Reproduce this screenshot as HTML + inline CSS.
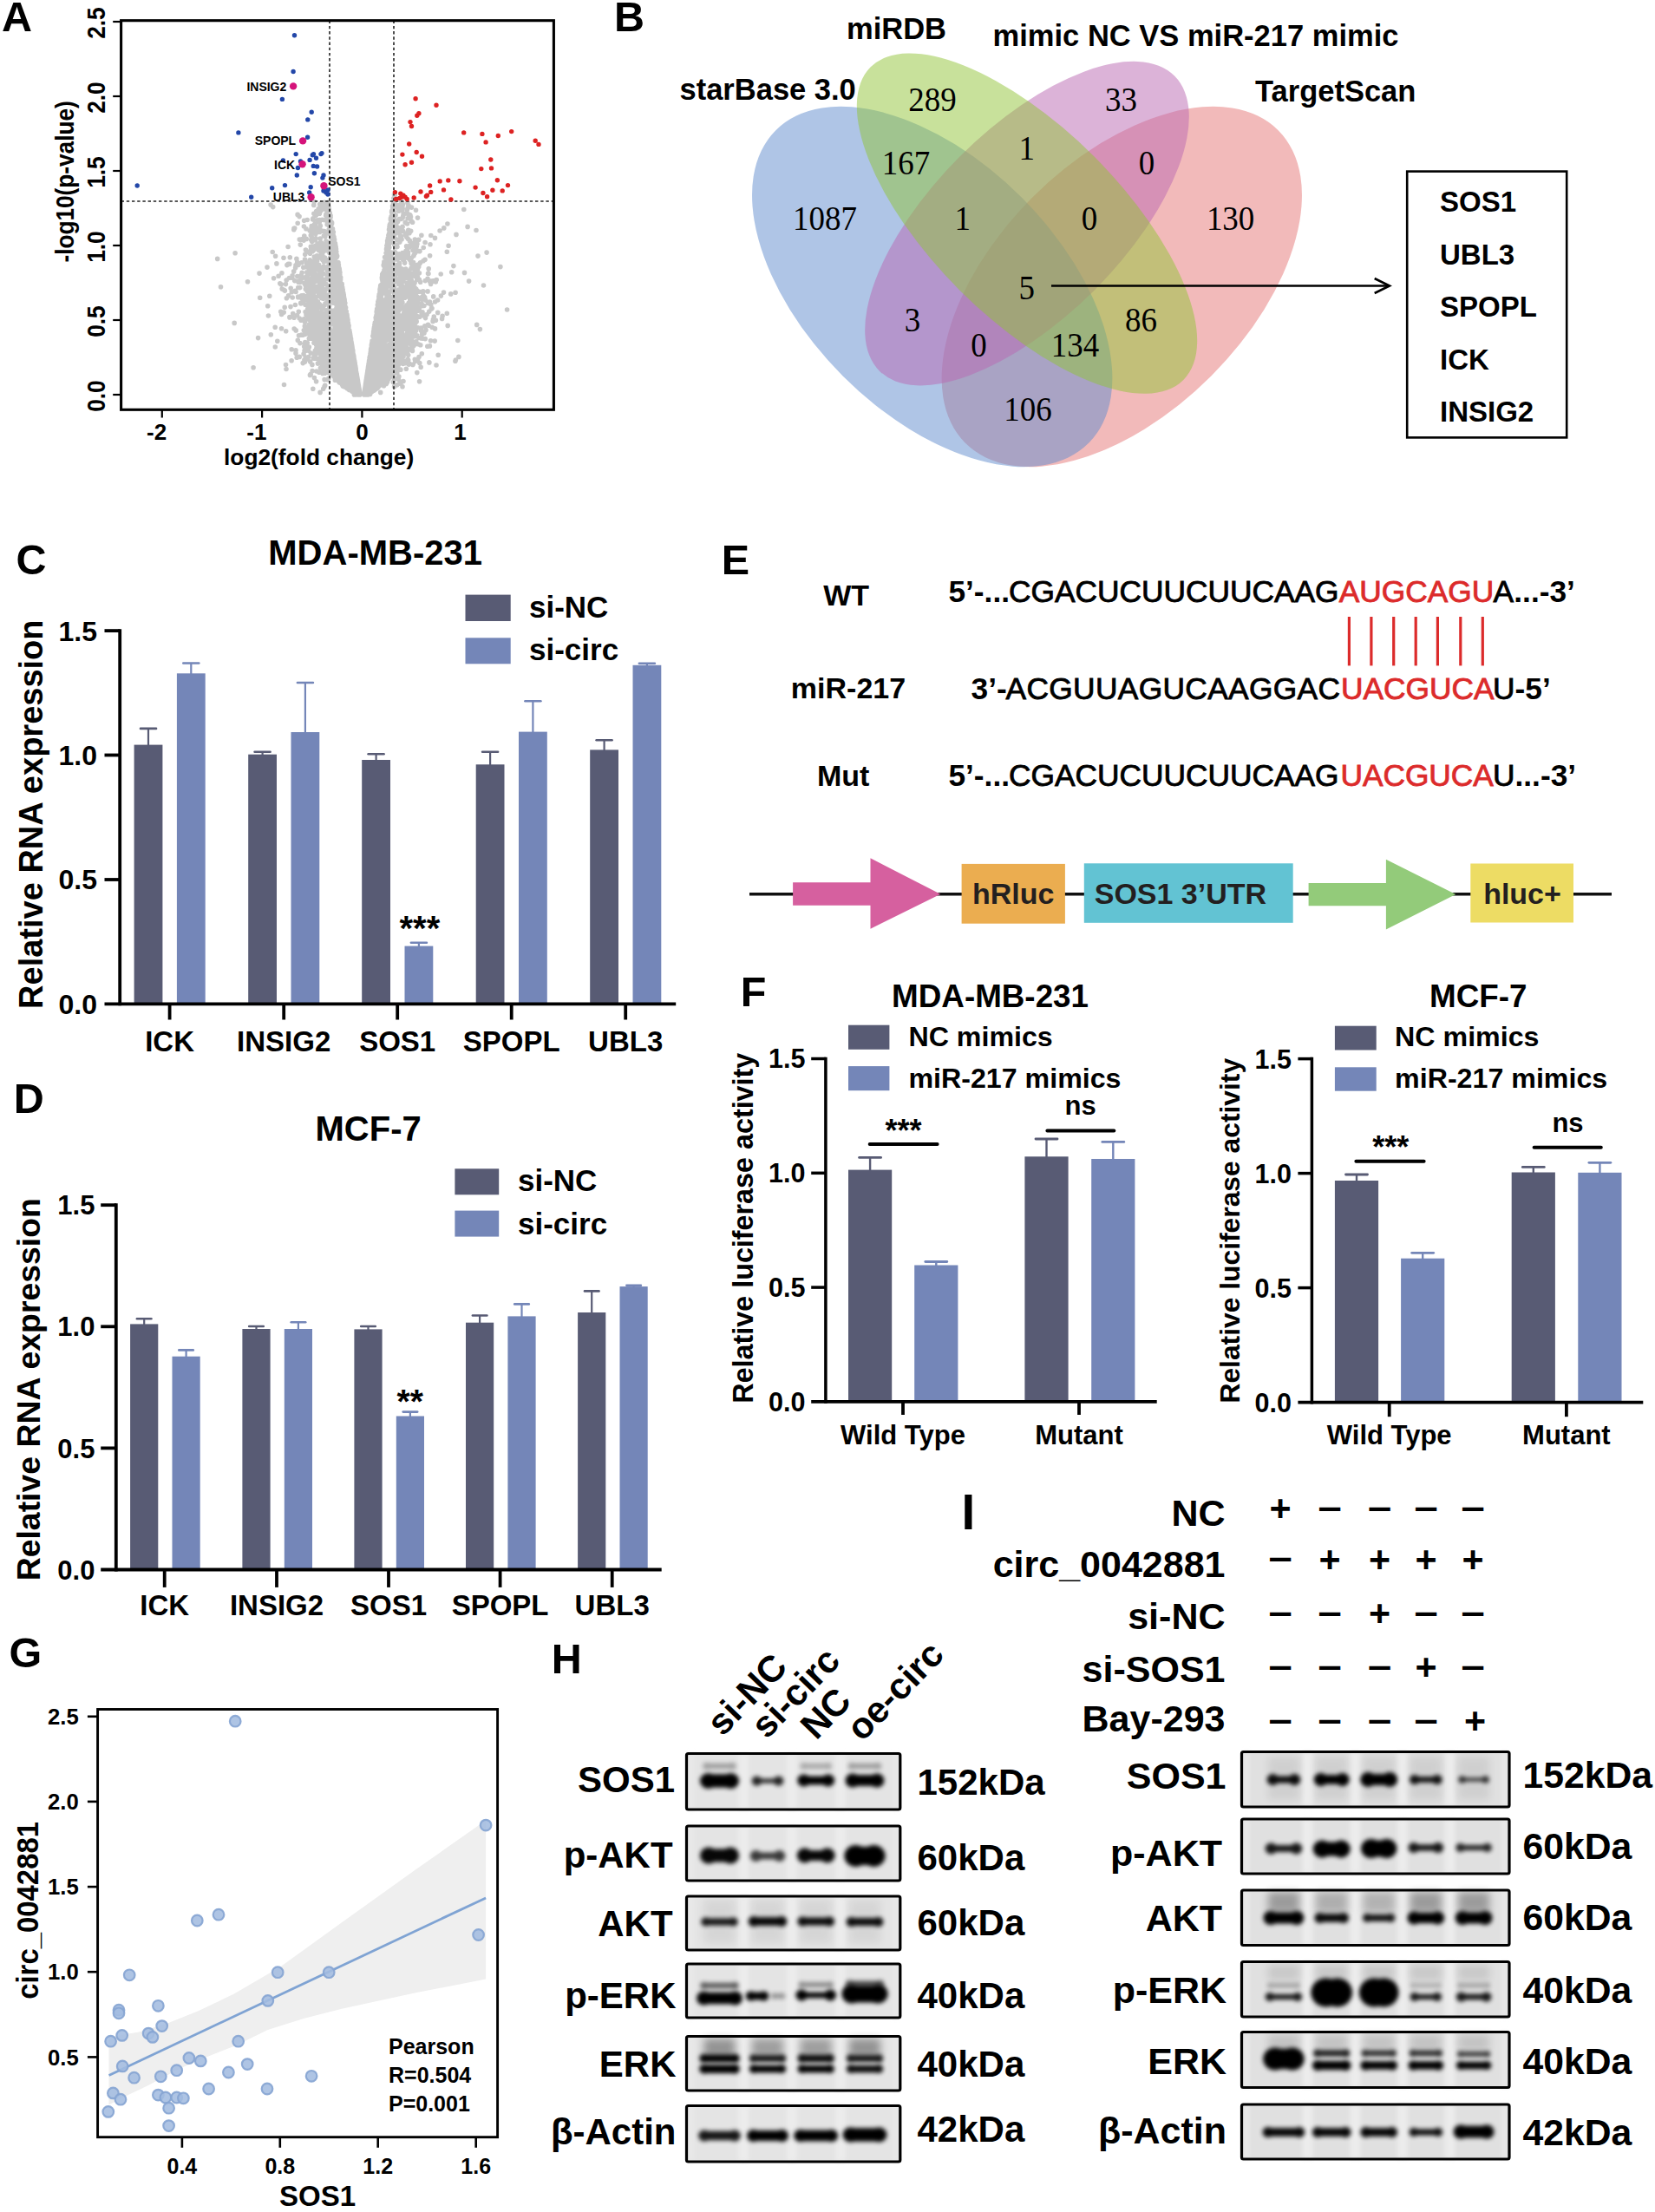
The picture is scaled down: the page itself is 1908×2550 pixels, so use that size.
<!DOCTYPE html>
<html><head><meta charset="utf-8"><title>Figure</title>
<style>html,body{margin:0;padding:0;background:#fff;}svg{display:block;}</style></head>
<body><svg width="1908" height="2550" viewBox="0 0 1908 2550">
<rect width="1908" height="2550" fill="#fff"/>
<text x="2" y="36.3" font-size="48.5" text-anchor="start" font-weight="bold" fill="#000" font-family="'Liberation Sans', Arial, Helvetica, sans-serif" >A</text>
<text x="708" y="36.3" font-size="48.5" text-anchor="start" font-weight="bold" fill="#000" font-family="'Liberation Sans', Arial, Helvetica, sans-serif" >B</text>
<text x="18.5" y="662" font-size="48.5" text-anchor="start" font-weight="bold" fill="#000" font-family="'Liberation Sans', Arial, Helvetica, sans-serif" >C</text>
<text x="15.8" y="1282.6" font-size="48.5" text-anchor="start" font-weight="bold" fill="#000" font-family="'Liberation Sans', Arial, Helvetica, sans-serif" >D</text>
<text x="831.8" y="661.8" font-size="48.5" text-anchor="start" font-weight="bold" fill="#000" font-family="'Liberation Sans', Arial, Helvetica, sans-serif" >E</text>
<text x="853.8" y="1159.9" font-size="48.5" text-anchor="start" font-weight="bold" fill="#000" font-family="'Liberation Sans', Arial, Helvetica, sans-serif" >F</text>
<text x="10.5" y="1922" font-size="48.5" text-anchor="start" font-weight="bold" fill="#000" font-family="'Liberation Sans', Arial, Helvetica, sans-serif" >G</text>
<text x="635.8" y="1928.7" font-size="48.5" text-anchor="start" font-weight="bold" fill="#000" font-family="'Liberation Sans', Arial, Helvetica, sans-serif" >H</text>
<text x="1108.5" y="1762.8" font-size="56.6" text-anchor="start" font-weight="bold" fill="#000" font-family="'Liberation Sans', Arial, Helvetica, sans-serif" >I</text>
<path d="M397.6 411.5h0M393.6 403.8h0M362.9 383.2h0M413.9 448.1h0M365.8 378.3h0M431.7 400.7h0M425.2 452.8h0M385.9 402.1h0M465 410.8h0M390 322.5h0M429.6 430.4h0M471.6 319.6h0M421.6 455h0M448.8 418.4h0M449.7 432.3h0M436.1 352.5h0M410.7 450.5h0M427.4 412.1h0M434.2 380.4h0M407.7 432.3h0M471.9 298.8h0M434.2 380.8h0M408.1 433.4h0M421.6 449.5h0M470.7 388.6h0M405 407.2h0M411.3 442.9h0M411.2 439.8h0M375.6 238.4h0M422.2 447.1h0M452.4 366.9h0M423.8 429.9h0M400.8 436.3h0M411.2 431.2h0M424.6 432.3h0M403.6 421.8h0M370.4 294.9h0M465 391.6h0M386.5 280.9h0M437.2 382h0M404.4 449.3h0M360.9 358.5h0M383.9 423.7h0M394.6 416h0M449.6 384.2h0M404.3 449h0M452.2 360.9h0M361.2 413h0M414.2 452.8h0M473.5 368.4h0M437.1 433.7h0M434.1 438.6h0M389.3 412.9h0M442.5 439h0M448.2 301.7h0M435 444.4h0M398.1 365.3h0M434.8 411.7h0M463.6 384h0M483 411.5h0M413.5 451.9h0M480.5 341.7h0M414.5 453.2h0M410.7 451.5h0M379.1 378.1h0M422.1 438.9h0M403.2 408.8h0M395.8 424.4h0M473.4 353h0M413.6 448.4h0M400.7 411.3h0M366.7 394.2h0M385.5 410h0M391.9 331.8h0M376.3 288.7h0M470.6 342h0M436.4 424h0M493.5 349.4h0M412.7 450.2h0M482 343h0M358.9 362.1h0M371.8 406h0M447.5 401h0M400.6 401.6h0M407 420.3h0M377.1 317.6h0M402.3 438.8h0M413.3 453h0M373.4 338.3h0M404.5 450.1h0M448.6 269.4h0M397.8 413.9h0M451.2 427.4h0M401.4 445h0M407.6 436.4h0M431.5 385.1h0M441.7 403.4h0M438.8 413.5h0M431 442.4h0M374.2 400.5h0M390.1 435.9h0M426.2 427.6h0M465.1 297.1h0M429.4 433.3h0M459.9 342.3h0M425.8 453.7h0M408.6 446.1h0M472.3 371.4h0M411.8 452.2h0M435.6 443.6h0M507.1 266h0M397.2 410.2h0M427.6 402.7h0M355.5 367.8h0M474.4 357.9h0M456.3 403.1h0M390.8 366.9h0M374.4 388.9h0M393.7 433.4h0M472.8 333.2h0M391.1 369.3h0M446.4 362.4h0M422.9 454.2h0M407.9 435.9h0M393.3 377.1h0M360.2 380.7h0M414.1 453.3h0M432.2 417.9h0M426 447.5h0M366.1 403.8h0M355.5 381.6h0M437.2 352.1h0M443.8 408.9h0M411.1 450.6h0M451 389.2h0M434.1 395.6h0M420.2 454h0M462.7 353.5h0M414.4 451.3h0M478.2 284.5h0M396.5 434.8h0M391.1 409.4h0M412.6 446.2h0M412.2 451.1h0M450.1 375.4h0M372.3 415.7h0M378.5 234.7h0M382.6 293.8h0M399.8 432.1h0M399.1 382.6h0M363.5 276.3h0M423.7 432.2h0M477 398.6h0M393.6 397.2h0M440.8 437.9h0M425.7 449.4h0M440.1 349.2h0M480.4 335.1h0M383.2 426.6h0M481.6 414.7h0M424.1 449.1h0M432.9 371.5h0M409 437.7h0M398.1 361.7h0M409 423h0M359.5 365.8h0M450.7 278.3h0M449.7 427.4h0M427.7 434.4h0M438.8 418.6h0M380.2 339.8h0M410.3 441h0M412.2 453.4h0M356.2 378.9h0M489.7 342.9h0M446 289.3h0M395.5 356.1h0M388.9 350.3h0M400.5 425.2h0M370.1 399.3h0M381.2 416.8h0M356.7 336.6h0M372.6 381.1h0M448 415.4h0M433 421h0M385.1 430.1h0M412.8 446.2h0M429.1 450.3h0M420.7 452.3h0M409.9 435.6h0M436 440.2h0M401.9 428h0M407.1 433.2h0M402.5 397.7h0M412.8 451.3h0M365.4 400.8h0M477.1 377.6h0M395 421.4h0M423.6 442.6h0M353.9 308h0M393.6 432.6h0M410.1 454.9h0M420.9 448.8h0M443 407.7h0M450.2 314.3h0M449 275.4h0M375.2 398.4h0M427.9 428h0M387.1 409.5h0M435.3 446.9h0M355.3 327.1h0M445.6 365.6h0M414.5 454.2h0M445.7 385.8h0M438.6 429.4h0M427.1 433.6h0M377.7 245.4h0M474.7 328.3h0M358 373.2h0M357.9 324h0M421.8 442.7h0M461.9 272h0M391.2 349.8h0M445.5 416.6h0M396.5 342.4h0M424.8 426h0M384.5 420.7h0M467.3 386.7h0M429.9 397.6h0M374.6 364.7h0M458.5 324.6h0M431.4 439.1h0M441 368.7h0M427.8 410.1h0M375.2 285.7h0M391.8 432.8h0M435.1 388.5h0M470.5 290.8h0M412.6 440.2h0M402 440.7h0M404.9 428.4h0M366.8 390.3h0M441.7 409.4h0M404.7 441.2h0M372.6 425.8h0M408.1 443.7h0M386.2 416.7h0M468.5 354.4h0M456.4 315.5h0M379.4 284.8h0M488.2 285.5h0M367.4 288.6h0M409.9 428.7h0M407.8 412.2h0M394.9 369.2h0M483.8 418.6h0M371 375.8h0M390.8 436.9h0M408.9 447.5h0M455.1 237.2h0M446.3 426.6h0M425.4 418.4h0M412.6 452.7h0M381.2 258.7h0M409.1 429.7h0M441.6 323.5h0M373.4 302h0M412.1 439.6h0M470.2 361.5h0M475 364.8h0M431.3 412.4h0M475.2 365.4h0M379.9 376.1h0M384.9 299.1h0M371.9 266.2h0M409.5 448.2h0M432.9 400.3h0M408.5 434.1h0M451.4 353.2h0M412.6 440.1h0M373.7 410.3h0M446.8 404.9h0M398.9 422.8h0M393.3 404.1h0M453.6 236.3h0M458.5 387.3h0M384.1 343.4h0M412 436.9h0M370.2 389.4h0M444.5 440.7h0M451.7 413.8h0M410.2 449.6h0M477.5 341.7h0M422.9 451.9h0M391.6 432.8h0M433.1 441.4h0M354.6 326.6h0M424.8 422.3h0M405.6 406.4h0M374.2 411.1h0M448.5 295.5h0M525.4 415.1h0M393.8 350.9h0M466.4 397h0M439.4 422.3h0M420.2 452.1h0M396.9 424.6h0M471.3 297.9h0M403.6 420.3h0M411.2 440.3h0M428.8 437.6h0M392.7 372.9h0M412.9 449.5h0M421.3 453.6h0M379.8 269.3h0M400.8 443h0M358 362.1h0M430.2 420h0M355.9 348.6h0M433.7 435.3h0M422.5 452.7h0M403 444.4h0M437 375.7h0M469.7 364.9h0M424.4 436.5h0M423.1 452h0M374.3 335.5h0M462.6 273.4h0M420.8 448.2h0M429 420.1h0M422.5 442.5h0M474.8 376h0M446 415.4h0M365.3 396.8h0M424.9 422.3h0M401 405.6h0M445.4 433.9h0M431.3 394.7h0M400.6 409.2h0M385.7 393h0M435.3 384.9h0M359.3 327.2h0M421.2 452.2h0M407.8 422.7h0M412 436.3h0M441.1 398.3h0M386 379.1h0M387.3 326.5h0M463.5 297.9h0M399.3 371.2h0M438.5 384.8h0M408.6 430.7h0M431.6 434.3h0M421.5 445.3h0M463.1 366.9h0M458.5 407.7h0M426.6 451h0M389.2 419h0M447.8 426.4h0M371.5 327.6h0M402.2 384.5h0M407.5 420.8h0M408.4 454h0M405.3 444.6h0M408.9 418.5h0M476.1 364.8h0M357.7 360.1h0M413.5 453.1h0M407.1 428.3h0M375.1 419.1h0M385.2 419.4h0M438.4 443.5h0M426.9 434.1h0M411.7 453.6h0M428.4 431.9h0M445.8 433.3h0M432.7 428.3h0M407.1 438.7h0M483.2 336.2h0M362.3 377.7h0M363.4 310.6h0M474.3 361.7h0M431.3 445.9h0M385.4 428.2h0M367.1 341.5h0M393.4 328h0M454.3 238h0M448.6 281.3h0M450 419.5h0M405.9 422.2h0M476.9 284.8h0M450.8 357.2h0M472.5 372.6h0M458.5 423.8h0M458.7 417.7h0M397.4 438.5h0M399.3 446.7h0M423.8 437.1h0M407.2 431.9h0M422.8 440.4h0M433.9 382.2h0M384 385.8h0M351 404.2h0M443.1 370.4h0M438.7 419.9h0M438.2 402.7h0M402.7 390h0M402.2 409.3h0M364.2 358.6h0M412 445.2h0M364 322.5h0M395.7 339.6h0M364.9 307.6h0M405.5 411.3h0M400.7 431.3h0M466.8 343.2h0M359 315.5h0M437.9 339.9h0M425.6 452.3h0M433.5 446h0M312.3 385.7h0M398.2 438.3h0M412.5 439.1h0M427.9 425h0M402.8 388.2h0M473 369.5h0M380.2 250.5h0M394.9 370h0M433.9 417.1h0M451.9 331.1h0M452.7 249.7h0M434.3 392.5h0M357.3 315.8h0M400.3 419.6h0M423 450.2h0M462.4 231.8h0M445 434.7h0M442.3 434.1h0M391.8 317.8h0M451.2 291.1h0M362.4 362.2h0M457.8 239.1h0M441.9 422.6h0M361.4 387.8h0M389.8 418.7h0M425.7 450h0M407.5 437.2h0M421.7 443.9h0M400.5 441.8h0M394 433.9h0M454.6 445.8h0M363.9 246.1h0M352.7 399.5h0M399.4 429.1h0M423.4 445h0M436.4 346.4h0M429.1 437.3h0M442.2 317.6h0M460.7 401.2h0M451.7 416.5h0M353.2 359.2h0M426.5 452.9h0M359.9 380.6h0M431 449.1h0M450 426.2h0M364.7 243.5h0M428.8 418.8h0M430.7 421.9h0M478.3 414.3h0M412.2 450.4h0M426 436.8h0M438.8 407.2h0M419.8 454.3h0M386.5 390h0M438.8 421.7h0M443 427.7h0M421.3 451.1h0M446.4 340.3h0M383 430.7h0M469.4 326.3h0M343.7 342.8h0M407 451.5h0M458.6 381.5h0M439 392.4h0M401 372.8h0M444.8 345.2h0M431.7 412.1h0M494.8 359.1h0M363.6 375.7h0M384.2 428.2h0M440.9 437.9h0M413.5 445.5h0M459 414.1h0M380.8 405.8h0M407.7 447h0M426.2 438.7h0M387.8 390.3h0M451.9 321.6h0M407.2 426.3h0M399.1 360.3h0M449 329.2h0M366.6 385.6h0M450.3 411h0M420.9 447.2h0M393.8 368.4h0M399.8 443.1h0M413 447.6h0M354.1 399.7h0M382.1 391.9h0M405.6 422.3h0M388.3 314.2h0M414 453.5h0M425.9 433.9h0M446.6 430.8h0M404.4 442.4h0M385.2 398.3h0M385 273.2h0M451.9 255.7h0M461.3 411.4h0M403.3 404.1h0M462.1 238.8h0M409.9 449.6h0M400.5 445.8h0M414.3 450.4h0M372.5 393.9h0M352.6 344h0M405.8 440.3h0M405.6 439.1h0M432.1 449.1h0M435.4 395.5h0M358.9 367.5h0M384.3 267.6h0M389.7 406.4h0M359.2 386.4h0M372.8 370.7h0M493.1 335.9h0M446.2 325.5h0M412.1 453.9h0M438.9 401.1h0M410.9 435.7h0M427.1 433.9h0M403.1 435.3h0M409.3 433.7h0M439.1 429.1h0M343.7 342.1h0M449.2 434.8h0M458.8 421.5h0M448.5 419.6h0M406.4 425.2h0M373.9 390h0M419.9 454h0M472.3 277.3h0M412.2 444h0M403 444.5h0M452.7 239.6h0M409.7 432h0M426.2 424.2h0M407.1 445.5h0M397.4 351.2h0M438.6 436.8h0M360.5 268.7h0M470 394.3h0M397.3 410.5h0M412.5 439.7h0M474.6 351.1h0M412.8 441.3h0M399.9 437.1h0M462.4 409.8h0M421.6 451.9h0M400.7 408.7h0M377.1 299.5h0M429.7 410.4h0M381.5 256.6h0M404.6 403.6h0M435.7 362.2h0M479.5 242.2h0M381.6 424.2h0M470.1 402.8h0M403.8 432.4h0M427 448.2h0M443.1 431.3h0M409.4 435.7h0M375.5 286.6h0M454.1 244.3h0M390.7 322.1h0M388.1 437.5h0M369.2 275.1h0M340.3 335.2h0M423.7 428.9h0M445.6 403.2h0M386.1 280.2h0M468.1 375.5h0M443 428.1h0M430.7 384.6h0M361.1 308.9h0M392.4 394.2h0M454.6 419.9h0M465.5 340.3h0M396 369.3h0M392.3 440h0M406.5 426h0M368.7 235.6h0M433.6 425.7h0M412.6 452.4h0M483.2 356.4h0M422.9 435h0M394.4 423.3h0M435.9 416.3h0M358.8 351.2h0M479.8 286.8h0M428.2 400.8h0M402.2 443.2h0M455.9 361.3h0M434.1 366.6h0M407.2 408.5h0M423.3 449.7h0M431.7 445.1h0M393.3 417.7h0M414.5 451.6h0M464.7 408.6h0M456.7 409.3h0M368.5 406.8h0M434.1 445.8h0M461.5 403.6h0M404.6 433.5h0M429.5 422.1h0M459.2 384.4h0M436.5 411.1h0M386.6 420.9h0M404.5 417.9h0M377.1 362h0M384.4 413.7h0M382.5 399h0M420.6 453.8h0M474 386.3h0M403.1 439.2h0M377.8 330.6h0M382.4 365h0M402.1 434.1h0M402.9 444.4h0M459.1 238.1h0M461 405.6h0M442.1 376.4h0M406.9 443.7h0M378.6 394.1h0M426.8 449.3h0M446.4 327.7h0M448.9 399.3h0M438.5 443.4h0M423.3 434.2h0M383.8 340.8h0M469 369.1h0M408.4 437.9h0M448 302.8h0M392 412.9h0M423.5 436.7h0M447.9 424.8h0M358.7 276.6h0M470.1 366.5h0M437.3 436.4h0M408.2 451.5h0M371.5 398.4h0M384.3 423.5h0M426 450.3h0M433.5 441h0M435.7 426.9h0M428.7 423.2h0M434.4 433.2h0M430.9 432.4h0M453.4 403.2h0M390.1 384.6h0M435.6 416.5h0M372 400.6h0M422.5 436.7h0M393.7 340h0M370.9 308.4h0M451.2 356.4h0M363.4 301.6h0M424.7 449.4h0M441.2 402.8h0M408.5 449.3h0M396 419.3h0M460.2 252.5h0M465.6 391.9h0M448.3 374h0M410.2 425.3h0M411.9 437h0M452.1 351.3h0M403.5 447.3h0M362.5 362h0M437.2 339.5h0M424.6 442.1h0M398.9 433.3h0M357.8 386h0M389.6 420.1h0M423.9 440.2h0M410.9 431.4h0M439 440.1h0M380.1 367.9h0M409.1 420.1h0M427.3 406.1h0M413.7 453h0M412.2 443.4h0M442.9 404.9h0M423 435.3h0M481.4 310.5h0M367.9 320.8h0M435.5 362.4h0M460.6 442.2h0M475.9 420.4h0M367.6 388.5h0M425.3 430.6h0M477.7 381.1h0M435.9 421h0M464.7 419.5h0M465 439.5h0M468.7 391h0M424.6 444.8h0M358.8 366.4h0M395 430h0M470.2 268.1h0M462.5 350.2h0M478.7 309.8h0M354.7 290.1h0M391.9 323h0M385.5 417.7h0M412.8 450.4h0M463.9 387.6h0M424.7 433h0M446.9 318.4h0M420.8 454.9h0M411 431.7h0M460.2 364.1h0M386.5 314.7h0M435 418.4h0M476.3 371.4h0M412.3 438.6h0M439.8 416.4h0M363.4 373.9h0M423.9 452.4h0M404.6 397.7h0M431 380.9h0M422.2 442.3h0M402.9 388.2h0M385.4 374.6h0M363.9 392h0M403.1 430.6h0M422.7 454.2h0M371.9 403.5h0M374.9 387.5h0M443.8 430.3h0M401.8 418.8h0M427 407.8h0M426.7 418.1h0M433.6 443.3h0M457.4 412.5h0M429.6 437.7h0M432.1 444.7h0M411.7 450.2h0M436.7 387.9h0M413.2 443.8h0M461.7 378.8h0M429 438.3h0M396.8 429.1h0M409.1 449.5h0M389.5 427.1h0M411.8 452h0M373.4 238.5h0M443.4 427.4h0M443 425.3h0M460 410h0M446.5 328.5h0M439.4 421.7h0M405.9 445.1h0M356.5 348.9h0M401 417.3h0M403.9 422.1h0M362.9 319.5h0M404.4 419.8h0M411.9 447.3h0M441.3 420.7h0M466.8 294.2h0M404.9 436.5h0M424.9 438.7h0M465.7 360.7h0M424.4 426.5h0M354.3 341.5h0M472.5 389h0M381.1 423.5h0M340.6 308.7h0M413.7 448.2h0M439.9 416.8h0M372.2 290.7h0M405.8 408.7h0M451.7 400.5h0M368.3 370.6h0M421.4 448h0M435.4 395h0M351 320h0M412.5 447.9h0M388.1 349.2h0M431.9 401.9h0M473 373.7h0M317.3 400h0M495.7 324.7h0M393.3 440.8h0M424.3 438.1h0M386.8 288.6h0M443.6 423.6h0M448.3 346.9h0M444.1 421.6h0M410.2 426.5h0M453.6 419.6h0M408.4 414.9h0M424.9 427.5h0M402.3 390.5h0M422.2 447h0M360.2 362h0M406.6 427.6h0M452.3 411.6h0M399.9 433.1h0M409.3 438.8h0M405.7 412.8h0M387.8 290.2h0M449.8 430.7h0M365.9 389.7h0M434.4 360.1h0M422.2 451.2h0M478 394.9h0M427.7 425.5h0M420.5 451.2h0M425.6 452.8h0M424.6 422.7h0M409.4 447.3h0M388.3 424.6h0M373 324.5h0M394.8 410.3h0M343.8 331.5h0M403.5 385.8h0M428.6 408.4h0M441.5 395.2h0M434.2 359h0M395.4 436.6h0M440 431.8h0M414.3 450.5h0M486.3 407.8h0M452.3 258h0M442 374.4h0M462.5 408.8h0M381.3 261.3h0M434.2 434.8h0M410 423.9h0M430.8 448.1h0M425.5 451.9h0M515.3 290.3h0M463.1 363.9h0M448.2 403.6h0M380.8 426.7h0M445.2 437.8h0M365.3 267.6h0M460.6 394.6h0M490.3 323.6h0M397 406.7h0M393.5 373.7h0M456.9 381.3h0M448.7 337.8h0M364.2 372.6h0M428 418.4h0M390 416.2h0M410.8 453.5h0M430.6 386.3h0M470.8 376.2h0M360.1 375.4h0M395.2 334h0M384.9 386.2h0M440 422.4h0M362.1 390h0M407.7 410.2h0M430.5 426.5h0M407.5 431.8h0M433.5 418.7h0M440.1 338h0M466.7 400.3h0M456.3 291.8h0M406.8 432.7h0M395.4 430.8h0M404.1 389.7h0M396.3 444.9h0M456 347.2h0M443.9 388h0M411.1 432.4h0M437.8 375.1h0M467.2 387.5h0M364 296.2h0M413.7 448.2h0M459 240.4h0M409.4 454.9h0M438.4 331.7h0M473.9 368h0M457.4 373.1h0M403.3 426.1h0M462.3 401.1h0M408 423.9h0M408.4 454.9h0M465.7 390.8h0M398.4 386.6h0M422.7 435.8h0M464.6 405.8h0M410 427.8h0M414.7 452.8h0M467.2 367.5h0M515.3 361.2h0M385.6 276.3h0M379.2 421.8h0M414.5 451.9h0M439.3 423.2h0M431.7 377.5h0M381.2 412.9h0M422.8 434.8h0M367.1 396.7h0M479.8 369.3h0M395.8 431.1h0M458.5 416.1h0M353.9 318.4h0M411.4 441.5h0M424.5 454.7h0M479 387.7h0M429.9 444.4h0M357.2 338.4h0M457.7 443.8h0M362.7 372.3h0M390.7 324.9h0M433.6 424.4h0M451.4 430.3h0M393.5 352.8h0M471.1 385.7h0M427.8 404.1h0M454.3 410.3h0M388.1 357.9h0M412.4 450.9h0M421.9 443.7h0M429.4 449h0M402 387h0M397.7 431.6h0M441.4 382.7h0M389 320.7h0M407.1 451.6h0M439.1 438.3h0M361.5 336h0M466.1 393h0M440.2 355.7h0M458.6 352h0M458.5 294.3h0M410.9 433.5h0M414.5 452.1h0M440.9 346.7h0M385 422.4h0M386.9 388.1h0M426.9 426.7h0M399.4 380.8h0M425.2 453h0M390.4 397.8h0M397.8 373.1h0M436.6 445.5h0M403.3 429.9h0M411 440.8h0M423.7 431.4h0M445.5 401.4h0M436 384.2h0M384.9 410h0M389.2 391.4h0M446.4 349.4h0M323.7 359.2h0M399 405.6h0M428.1 448.4h0M377.5 385.9h0M382.4 388.1h0M452.3 395.7h0M406.7 414.7h0M461.7 403.3h0M405.7 440.9h0M360.8 448.3h0M454.8 282.2h0M437.9 442.1h0M407.8 446.2h0M357.1 341.5h0M464.2 389h0M413.5 451.6h0M426.2 442.5h0M442.1 388.6h0M355.5 340.3h0M452.3 397.9h0M379.4 413.5h0M405.6 432.8h0M389 392.7h0M314.7 238.6h0M420.6 453.9h0M425.2 452.8h0M420 453.6h0M438.7 427.7h0M372.2 315.7h0M423.3 435.2h0M456.6 268.7h0M438.3 336.8h0M436.8 435h0M396.3 436.4h0M400.2 425.7h0M422.3 440.9h0M420.5 452.4h0M410.4 432.9h0M390.2 372.8h0M378.3 399.2h0M410.9 434.4h0M432.3 403.8h0M471.6 247.5h0M399.9 411.5h0M404.6 445.4h0M404.3 427.5h0M450.2 348h0M409.2 443.5h0M397.7 434.4h0M407.7 415h0M464.3 406.1h0M389.4 407.8h0M421.1 445.9h0M386.8 283.1h0M344.3 359.3h0M427.4 450h0M400.9 435.7h0M464.5 401.2h0M387.1 401.3h0M373.7 395h0M376 400.2h0M393.5 348.2h0M407.4 447.2h0M401.9 397.4h0M406.5 428.9h0M438 427.8h0M372.9 353.1h0M431.6 412h0M453 327.3h0M434.3 422.3h0M471 236.8h0M499.7 341.9h0M426.1 449.9h0M352.5 329.6h0M430.7 447.8h0M408.2 430.3h0M408.9 450.6h0M394.7 415.7h0M456.4 305.7h0M404 388.9h0M465.3 246.4h0M399 383.5h0M442.4 409.1h0M421.5 443.3h0M371.5 401.2h0M367.8 387.3h0M380 424.1h0M434.2 372h0M431.3 419.8h0M435.4 442.4h0M378.3 423.5h0M359 302.1h0M449 262.6h0M424.7 422.3h0M448.2 353.6h0M347.2 321.7h0M387.8 435.6h0M462 411.9h0M441.2 424.1h0M464.2 251.1h0M406.3 405.6h0M420.8 451.3h0M454.1 430.6h0M488.9 352.5h0M422.2 449h0M388.8 344h0M409.8 453h0M421.6 446.9h0M402.7 449.4h0M393.9 398.2h0M401.9 441.4h0M425.2 451.9h0M440 407.9h0M445.7 430.2h0M412 452.3h0M381.1 250.6h0M390.2 413.6h0M400.5 424.6h0M376.1 414.6h0M479.4 364.2h0M362.9 387h0M425.1 419.6h0M449.9 409.3h0M391.2 312.4h0M389 377.1h0M430.1 403.3h0M349.8 340.6h0M322.8 326.7h0M411.7 440.5h0M423.2 432.6h0M362.1 380.1h0M443.6 415.2h0M402.4 409.7h0M409.6 449.8h0M402.5 446h0M362.2 384.8h0M478.8 359.6h0M391.8 316.7h0M390.8 324h0M477.1 354.6h0M496.8 351.2h0M346.3 282.1h0M388.9 379.3h0M452.6 410.2h0M369 391h0M484.6 302.8h0M378.4 385.2h0M446.4 352.1h0M437.3 437.4h0M482.8 397h0M398.1 353.7h0M444.1 431.2h0M422.4 438.5h0M412.3 452.9h0M412.8 449.7h0M427.1 436.8h0M386.3 391.4h0M400.2 433.4h0M361.1 358.7h0M456.7 341.4h0M429.6 445.1h0M397.3 419.6h0M450.3 424.9h0M522.9 306.6h0M376.5 420.4h0M420.6 448.9h0M447.3 274.9h0M431.5 449.1h0M345.3 276.1h0M391.1 403.9h0M426.8 441.5h0M372 430.4h0M422.4 445.8h0M397.2 389.7h0M405.6 444.1h0M445.6 331.6h0M359.2 260.6h0M414.7 453.9h0M390.3 403.7h0M364.9 428h0M443.6 412h0M410.9 447.8h0M421.2 449.6h0M412 440.8h0M412.1 437.1h0M365.9 369.3h0M433.3 437.7h0M399.6 383.9h0M420.9 448.6h0M318.9 303.9h0M438.3 384.4h0M423.8 428.3h0M459.8 412h0M449.7 298.2h0M372.1 354h0M425.2 423.7h0M465.8 363.5h0M381.2 389.1h0M380.7 357.5h0M361.9 376.9h0M427.7 429.2h0M360 364.5h0M442.5 385.3h0M413.4 446.5h0M390.1 385.8h0M396.8 404h0M353.7 333.8h0M428.5 449.7h0M472 268.8h0M360.5 362.4h0M408.1 448.1h0M473.3 354h0M349.5 341.8h0M394 357.8h0M426.5 447.3h0M440.5 426.9h0M479.8 333.2h0M409.7 422.7h0M384.6 305.9h0M374 406.1h0M364.2 381.2h0M388.8 410.5h0M425.5 451.2h0M423.8 448.1h0M461.4 425.7h0M378.2 233.2h0M448.7 385.9h0M402.3 386.2h0M429 413.4h0M499.4 368.4h0M421.3 445.2h0M350 348.1h0M411.5 445.1h0M374.6 411.8h0M443.4 425.5h0M432.6 421.9h0M451.2 324.2h0M454.3 392.1h0M422.2 448.6h0M424.3 425.2h0M442.2 435.3h0M361.2 371.2h0M388.2 427.8h0M478.8 313h0M426.9 414.6h0M444.3 305.5h0M443.4 318.8h0M395.9 434.6h0M394.5 423.3h0M430.1 436.4h0M388.1 311.5h0M471.3 386.5h0M396.2 340.3h0M458.6 255.6h0M377.8 406.6h0M403.2 418.8h0M423.9 427h0M477.1 332.1h0M479.6 348h0M445.1 392.6h0M439.1 356.4h0M451 354.8h0M412.2 441.3h0M365.7 300.4h0M393.7 363h0M394.6 332.7h0M405 394h0M383.3 293.2h0M362.6 413.3h0M454.5 366.3h0M447.8 299.5h0M372.4 405.2h0M368.9 316.6h0M421 448.1h0M445.5 287.5h0M447.7 399.4h0M470.1 414.4h0M439.8 386.6h0M468.6 283.9h0M427.8 427.6h0M460.7 352.1h0M395.6 424.6h0M427.3 447.2h0M457.2 410h0M425.5 432.1h0M432.8 447.2h0M364.8 348.4h0M448.6 432.4h0M402.2 381h0M439.6 426.1h0M364.6 383.2h0M424.8 447.4h0M467.1 339h0M396.7 429.9h0M421.3 452.9h0M395.8 431.4h0M402.8 407.2h0M423.9 430.1h0M402.9 446h0M387.6 375.2h0M414.7 453.7h0M422.4 445.7h0M432.2 449.2h0M472.4 278h0M426.4 453.9h0M368.6 267.4h0M368.1 255.7h0M380.2 343.4h0M359 263.2h0M357.6 307h0M470.8 353h0M409.8 454.5h0M420.4 454.1h0M364.3 377.5h0M431.9 446.3h0M384 358.2h0M376.1 357.8h0M360.6 316.3h0M339 366.3h0M485.9 352.8h0M433.6 384.5h0M346 325.5h0M396.3 397.4h0M389.8 435.8h0M410.6 452.5h0M456.8 238.8h0M407.1 450.1h0M425.3 452.4h0M421.3 453.3h0M368.8 319.6h0M409.5 423.1h0M441.2 409.2h0M466.4 370.2h0M474.6 372.5h0M470.8 236.8h0M447.3 368.3h0M370.7 234.9h0M441.1 383.2h0M393.2 372.6h0M404.6 433.6h0M395.7 344.8h0M433.7 421.4h0M405.5 407.8h0M408 440.8h0M443.9 405.8h0M423.7 451.4h0M384.5 410.1h0M351.6 385.5h0M424.6 439.2h0M391.4 311.3h0M445.3 409.9h0M396.6 390.4h0M360.2 354.9h0M444.5 436.5h0M379.7 315.6h0M445.1 430.2h0M390.6 396.7h0M461.5 390.4h0M408.9 440.8h0M448.9 356.3h0M390.6 383h0M408.6 419.6h0M429.5 403.5h0M434.9 429.4h0M367.4 311.3h0M427.6 419.2h0M398.1 353.9h0M482.7 276.4h0M435.8 424.3h0M378.8 399.4h0M387.5 362.8h0M475.5 381.3h0M437.8 372.5h0M428.8 406.2h0M407.3 434.1h0M406.5 444.8h0M397.3 434.7h0M404.6 450.1h0M375.5 413.2h0M430.9 421.7h0M439.7 400.8h0M442.1 409.3h0M401.9 393.4h0M456.1 248.1h0M430.3 416.6h0M364.7 397.8h0M399.9 444.7h0M462.4 252.4h0M382.4 421.2h0M428.4 450h0M398 405.6h0M333.9 365.9h0M366.9 320.6h0M422.5 452.2h0M387.5 420.1h0M472.5 377.5h0M444.1 426.4h0M423 433.1h0M448.9 382.2h0M409.3 420.1h0M430.1 446.8h0M407.2 423.5h0M399.3 393.8h0M374.8 287.4h0M412.3 437.8h0M444.6 426h0M467.5 379.5h0M429 450.1h0M389.6 397.3h0M377.9 279.1h0M384.9 299.7h0M410.5 429.2h0M432.6 401.9h0M448.8 285.3h0M380.7 297.1h0M377.6 249.1h0M430.4 410.8h0M426.5 449.2h0M412.4 447.8h0M434 397.4h0M496.8 271.5h0M440.6 370.8h0M447.4 403.7h0M456 319.8h0M476.3 305.3h0M439.9 417.1h0M392.5 400.3h0M431.4 377.5h0M357 362.9h0M474.5 353.2h0M413.2 446.8h0M412.2 438h0M442.5 400.5h0M425.7 454h0M327 297.3h0M401.2 432.9h0M421.5 446.1h0M408.1 420.9h0M439.4 379.1h0M351.3 327.5h0M432.3 412.4h0M472.9 386.7h0M445.1 371.8h0M456.5 408.7h0M394.9 388.1h0M438.6 397.3h0M437 344.3h0M421.9 452.1h0M329.5 420.5h0M412.6 447.8h0M468 386.9h0M397.2 372.9h0M440.8 349.1h0M400.4 416.7h0M457.4 282.3h0M403.6 423.9h0M406.4 448h0M362.3 408.6h0M463.1 309.9h0M405.7 404.7h0M395.2 401.5h0M446.5 324.9h0M405.7 422.4h0M441.2 442.8h0M361.3 363.6h0M421.6 442.3h0M446.7 401.5h0M431.9 436.6h0M371.2 409.5h0M476 327h0M378.7 253.5h0M378.4 421.8h0M324.9 314.8h0M412.8 441.8h0M433.9 377.5h0M473.8 375.4h0M383.6 428.3h0M424.7 441.9h0M386.3 438.3h0M426.1 444.7h0M360.6 252.9h0M440.5 433.9h0M392.9 362h0M373.7 240.9h0M454.8 274.2h0M459.8 237.2h0M403.3 397.3h0M399.4 366.6h0M374.6 281.5h0M420.8 448.8h0M425.2 421h0M411.9 444.8h0M428.2 411.9h0M357.6 356.4h0M372.9 333.2h0M449.1 421.9h0M432.2 373.9h0M431.2 402.2h0M390.1 386h0M420.7 450.5h0M438.3 441h0M426.4 422.8h0M463.6 404.8h0M442.2 394.6h0M373.7 405.2h0M392.8 334.9h0M412.4 439.1h0M474.3 356.3h0M397.2 439.8h0M389.6 420.3h0M410.1 438.2h0M437.2 346.2h0M471.2 391.9h0M374.6 412.4h0M413 446.9h0M411 443.8h0M435.7 427.7h0M423.3 444.7h0M470.4 375.8h0M355.5 314.4h0M430.6 382.9h0M365.7 401.1h0M428.4 397.9h0M401.4 372.2h0M413.2 450.2h0M338.8 264.7h0M420.3 454h0M430.2 405h0M449.6 372.2h0M396.6 405.5h0M407.1 441.2h0M400.9 409.9h0M474.7 383h0M374.3 380.2h0M460.9 312.7h0M431.9 434.3h0M401 381.8h0M436.6 415.7h0M478.9 371.6h0M443.6 401.8h0M362.3 232.6h0M438.3 432.1h0M476.4 377.8h0M367.6 396.9h0M355.7 363.4h0M420.1 453.2h0M423.3 438.4h0M369.9 416.1h0M431.5 449.8h0M430.9 413.4h0M425.1 442.2h0M425.9 436.2h0M401.2 432.2h0M414.2 449.8h0M409.5 430.5h0M446.8 437.8h0M474.8 366.3h0M351.3 376h0M438.4 373.8h0M394 421.1h0M407.4 450.7h0M355.9 347.5h0M394.1 327.3h0M430.7 450.2h0M458.6 412.4h0M452 422.5h0M406.2 439.2h0M430.4 404.9h0M395.3 337.8h0M412.1 445.6h0M400.6 375.7h0M426.5 438.4h0M437.9 368.5h0M406 413.3h0M487.8 344.6h0M413.1 448.7h0M386.7 366.4h0M380.5 421.8h0M445.8 422.5h0M408 440.3h0M396.9 396h0M430.3 420.4h0M438.5 343.4h0M390.3 308.4h0M439.6 437.9h0M421.8 453.3h0M404.2 396.9h0M429.8 410.6h0M424.2 440.1h0M447.3 432.3h0M462.9 413.3h0M414.1 454.1h0M442.5 406.9h0M438.1 367.6h0M460.7 407.6h0M429.8 450.5h0M442.8 390h0M407.3 431h0M422.6 451.6h0M441.8 360.7h0M427.5 403.6h0M437.1 419.6h0M378.6 280.2h0M405.3 429.8h0M405.5 450.4h0M404.7 440.1h0M373.9 412.7h0M454.9 267.6h0M381.6 287.7h0M396.9 427.4h0M364.8 401.8h0M397.4 369.6h0M365.4 266.4h0M430.2 439.2h0M470.5 293.3h0M422.7 451.7h0M397.2 346h0M372.5 309.5h0M408.3 454.2h0M480.2 370.7h0M388.5 310.6h0M426.8 443.5h0M464.7 249.3h0M455.6 254.2h0M421.3 450.5h0M402.1 435.8h0M360.1 377.9h0M413.3 446.4h0M425.2 433.6h0M380.2 334.1h0M354.8 355.5h0M423.7 438.6h0M406.3 426.9h0M425.4 418.7h0M381.9 295.4h0M452.9 379.1h0M398.6 426.1h0M358 375.1h0M432.8 420.4h0M444.3 438.3h0M444.9 401.9h0M378.6 419.4h0M346.9 350h0M438 333.8h0M379.8 376h0M377.3 398.5h0M421.8 442.8h0M354.3 395.3h0M379 363.3h0M448.2 389.2h0M402.4 425.2h0M377.4 402.7h0M473.4 365.8h0M410.5 448.6h0M443 353.1h0M442.8 407.1h0M431.1 445.4h0M432.4 437.3h0M392.3 339.9h0M461.4 293.9h0M439.5 435.9h0M430.8 418.1h0M403.7 441.2h0M446.6 412.5h0M407.6 450.9h0M438.1 348.2h0M374.4 334.6h0M468.8 401.8h0M421.2 445.6h0M407.8 439h0M413.9 453.1h0M408.4 447.3h0M408.8 452.6h0M422.3 439.4h0M429 406.3h0M464.6 405.1h0M432.8 420.7h0M365.5 387.2h0M404.8 395.5h0M344 325.2h0M395.5 404.7h0M379.8 291.6h0M398.6 414.2h0M397.4 367.5h0M423.4 431.1h0M435.3 437.1h0M442.3 428.4h0M402.8 380.9h0M355.8 340.4h0M335.2 332.3h0M468.7 330h0M362 276h0M466.7 336.6h0M462 326.9h0M433.1 383.6h0M377.6 386.7h0M394.5 388h0M409.3 453.9h0M441.2 379.6h0M466.1 246.4h0M438.8 373.7h0M455.4 390h0M447.8 436.2h0M382.6 256.9h0M398.5 442.8h0M410.4 452.8h0M433.7 448.2h0M376.4 339.9h0M438.9 398.7h0M376.2 420.6h0M357.2 266h0M404.4 405.4h0M413.9 454.2h0M450.2 388.6h0M387.3 370h0M375.1 411.7h0M412.6 452.9h0M454.5 383.2h0M408.7 424.1h0M402 433.7h0M386.8 336.8h0M495.4 398.9h0M422.3 449h0M478.6 279.8h0M371.7 382.1h0M406.5 440.2h0M457.2 424h0M410 424.5h0M454.8 388.3h0M443.7 438.2h0M430.2 428.9h0M411.8 448.8h0M414.2 450.2h0M400.2 421.5h0M456.1 392.2h0M404 434.6h0M400.8 430.6h0M441.3 433.7h0M404.3 412.1h0M435.4 439.9h0M372.7 410.5h0M385.5 381.2h0M395.4 365.5h0M438.1 344h0M378.6 417.7h0M383.8 398.5h0M353 363.1h0M451 431.2h0M407.5 409.6h0M400.3 397.5h0M362.9 284.9h0M435.5 391.8h0M447.2 316.3h0M392.1 413.1h0M407 450.9h0M389.7 313.8h0M457.6 394.4h0M434.8 437.9h0M470.4 368.5h0M412.7 440.8h0M404.3 448.7h0M431.6 413.7h0M426 444.8h0M374.7 405.5h0M474.2 297.4h0M401.3 389.8h0M403.1 403h0M435.9 382.4h0M476.2 420h0M412.9 448.5h0M421.6 451.9h0M390.6 425.9h0M468.2 314.8h0M347.6 340.7h0M431.6 392.2h0M375.6 421h0M455.9 297.7h0M461 410.5h0M398.4 420.9h0M353.2 275.4h0M454 232.6h0M374.9 300.7h0M379.6 290.5h0M400.6 425.5h0M410.3 448.2h0M424.3 437.9h0M447.7 413.4h0M412.8 447.3h0M435.8 348h0M407.5 440.8h0M490.2 390.6h0M436.1 383h0M403.7 412.3h0M431.6 438h0M432.2 398.9h0M404.7 413.7h0M435.3 423.3h0M470.1 251.7h0M469.7 406.5h0M470.4 320.5h0M406.8 442.6h0M396.2 430h0M395 340.3h0M388.3 432.3h0M456.7 413.1h0M492.8 399.2h0M426 450.2h0M394.1 437.2h0M408.3 415.4h0M387.3 394.4h0M424.3 433.1h0M407.8 423.8h0M395.2 375h0M474.3 352.4h0M428.5 439.4h0M356.3 390.3h0M442.7 329.7h0M435.6 387.4h0M399.5 370.7h0M433.4 423.5h0M441.1 323.5h0M404.1 419.5h0M422.1 445.1h0M495.7 323.7h0M412.8 451.8h0M461.6 392h0M420.6 452.2h0M394.9 443.7h0M438.9 439.4h0M408.7 426.3h0M408.8 418.5h0M483.6 439.7h0M455.8 408.8h0M404.7 416.8h0M362.9 392.6h0M368 404.8h0M440.8 377.8h0M382 394.5h0M392.3 359.7h0M445.8 391.8h0M436.5 352.4h0M430.5 402.2h0M407.5 412.1h0M388.5 436h0M424.6 442.8h0M441.8 429.7h0M403.6 421.7h0M434.2 422.1h0M372.1 399.8h0M472.9 282.9h0M427.1 431.2h0M437.6 404.6h0M443 438h0M428.8 428.1h0M376.8 420.1h0M381.6 397.6h0M428.4 414.6h0M345.2 367h0M437.7 346.2h0M373.5 402.2h0M389.1 417.9h0M396.1 359.1h0M400.2 378.6h0M448.8 397.3h0M401.9 434.6h0M375.7 343.4h0M405.8 399.2h0M387 296.1h0M460.4 384h0M464.1 261.4h0M461.2 368.5h0M423.4 438.5h0M423.6 433h0M427.5 416.6h0M425.5 417.7h0M435.9 357.9h0M400.8 372.1h0M422.4 439.3h0M387.8 351h0M436.4 415.9h0M452.6 366.6h0M447.6 432.2h0M423.9 451.5h0M412.1 447.1h0M424.1 427.9h0M374.1 286.5h0M434.8 397.7h0M392.1 441h0M375 282.7h0M409.1 442.2h0M410.1 426.8h0M494.2 375.3h0M424.6 438h0M437.3 425.7h0M376.4 414.1h0M410.9 453.1h0M359.9 361.1h0M439.5 340.7h0M411.9 435.6h0M403.6 385.6h0M445 428.1h0M430.2 443.1h0M406.9 407.4h0M397 442.6h0M438.3 430h0M458 356.6h0M377.2 258.8h0M405.8 438.3h0M444.6 422h0M439.2 424h0M379.2 397.5h0M390.2 389h0M424.8 438.3h0M433.7 431.9h0M375.4 413.6h0M475.2 280.7h0M421.3 448.8h0M369.8 243.1h0M407.9 446.8h0M455.1 422.8h0M427.4 450.2h0M470.4 383.7h0M387.8 395.7h0M399.5 420.1h0M365.4 380.6h0M425.1 449.4h0M446.9 419.3h0M393.2 372.4h0M395.1 430.8h0M348.2 314.3h0M393.3 434.6h0M438.8 439.7h0M373.5 366.9h0M451.4 411.3h0M403.6 405.6h0M413.5 451h0M436.6 439.4h0M443.7 434.5h0M472.4 365h0M360.9 375.2h0M470.6 317.1h0M471 378.3h0M368.2 396h0M477.9 376.2h0M405.3 415.2h0M397.3 438.9h0M423.2 439.5h0M425.1 424h0M428.4 403h0M441.6 314.8h0M445.8 383.9h0M411 431.8h0M359.7 278.5h0M452.6 424.6h0M464.4 372.8h0M398.8 410.4h0M364.4 342.6h0M424.6 443.5h0M453.4 429.5h0M440.8 417.1h0M421.2 453.1h0M502.4 369.2h0M395.9 354.6h0M426.6 443.3h0M430.9 404.9h0M402.8 419.4h0M407 411.7h0M440.5 437.3h0M384 293h0M378.2 424.1h0M376.4 422.4h0M401.1 387.5h0M456.1 403.7h0M404.4 447.2h0M408.8 443.6h0M435.6 422.6h0M405.1 446.5h0M438.7 452.4h0M375.7 248.5h0M448.1 353.3h0M422.5 441.3h0M474.7 390.8h0M397.5 436.5h0M457.1 389.1h0M382.1 425.3h0M435.6 354.4h0M443.2 429.8h0M382.7 383.1h0M451.5 423.2h0M403 405.3h0M422.1 442.5h0M403.6 427.9h0M434.3 435.7h0M407.9 431.2h0M391.7 436.9h0M466.8 334h0M430.1 393.1h0M401.6 374.9h0M447.8 417.5h0M411.5 438.8h0M473.7 266.3h0M445.1 349.9h0M400.7 442.9h0M427.9 407.8h0M356.7 363.2h0M428.5 422.2h0M404.3 434.4h0M452.9 324.6h0M376.9 242.1h0M422.6 439.5h0M374.5 430.2h0M452.8 418.9h0M422.6 437.7h0M451.6 244.4h0M385.4 406.6h0M374 403h0M434.3 413.3h0M427.1 411.1h0M398.5 382.4h0M439.7 438.4h0M442.4 424.3h0M364.6 439.7h0M428.6 416.9h0M362.4 275.8h0M361.1 376.9h0M391.6 437.8h0M425.8 438h0M441.1 365.8h0M357.4 324.3h0M470.8 265.3h0M393.6 436.2h0M402.8 420.8h0M414.1 454.1h0M449.2 276.2h0M327.2 360.1h0M429.8 431.5h0M462.4 336.7h0M481.4 305.3h0M409.7 443h0M422 448.5h0M423 437.9h0M352.3 404.2h0M473.3 352.6h0M457.9 305.3h0M443.8 377.5h0M448.8 352.8h0M374.3 416.2h0M374.1 437.6h0M433.5 447.2h0M408.2 444.7h0M395.6 362.4h0M380.2 426.6h0M370.4 319.1h0M358.4 306.8h0M383.6 417.3h0M382 429.8h0M372.8 393.8h0M430.6 437.8h0M447.1 410.3h0M454.3 310.6h0M423.1 448h0M377.5 321.7h0M409.2 435.1h0M436 409.8h0M410.3 437.2h0M414.9 454.5h0M395.8 337.8h0M460.4 418.5h0M398.9 365h0M453.5 419.7h0M464.8 266.5h0M467.8 360.4h0M435.2 438.6h0M436.4 394.4h0M376.8 309.7h0M387.2 429.6h0M427.1 419.2h0M377.1 316.9h0M432.2 380.5h0M411.2 450.3h0M441 442.7h0M360.4 382.8h0M447.1 295.4h0M426.5 436.8h0M390.5 427h0M408.4 450.5h0M424.9 426.8h0M482.5 344.8h0M404.4 391.4h0M387.2 285h0M426.6 430.2h0M426.2 418.5h0M404.6 409.7h0M457 403.1h0M422.6 435.6h0M379.4 318.4h0M448.5 390.9h0M481.3 319h0M427 451.4h0M362.8 390.9h0M488 300.7h0M456.1 357.9h0M472.9 331.6h0M392.2 435.8h0M358.5 325.5h0M468.1 397.6h0M490.1 279.5h0M431.3 394.3h0M413.8 448.6h0M368.8 392.9h0M370.9 323h0M363.1 315.3h0M363.4 352.7h0M421.9 440.2h0M402.6 430.9h0M464.9 402.5h0M402.8 428.3h0M402.5 414.1h0M441.7 436h0M481.3 355.2h0M406 430.6h0M393.6 426.4h0M330 425.5h0M492.1 362.5h0M469.5 258h0M399.7 375.6h0M403.9 448.6h0M455 228.7h0M429 403.3h0M442.1 414.9h0M433.9 425.2h0M440.6 394.7h0M483.5 322.5h0M429.7 437.3h0M426 414.7h0M451.5 429.9h0M434.9 425.1h0M441.8 435.8h0M427.7 428.1h0M422.9 448.9h0M361.8 337.6h0M433.7 390.7h0M372.4 335.6h0M407 451.4h0M425.3 449.8h0M352.2 411.8h0M421.1 446.4h0M454.4 350.3h0M393.3 433.7h0M424.3 447.9h0M393.7 431h0M446.8 341h0M337.7 361.6h0M435.1 426h0M372.1 295.4h0M390.7 317.6h0M387.7 360.7h0M420.4 452.2h0M427.7 426.5h0M407.2 411.9h0M366.4 419.1h0M476.5 363.5h0M408.9 426.3h0M442.2 362.6h0M446 425.5h0M363.6 276.7h0M430.6 446.7h0M460.3 292.9h0M434.7 400.1h0M359.2 388.3h0M436.6 410.3h0M400.6 445.9h0M438.3 434.9h0M374.6 322.4h0M383.5 423.2h0M464.1 415h0M408.5 439.2h0M420.7 449.1h0M396.1 382.4h0M474.8 382.1h0M410.7 440.8h0M410.7 451.3h0M460.7 351.6h0M443.5 434.7h0M379.3 304.8h0M449.5 355.5h0M362 395.2h0M454.8 236.6h0M360.4 349.4h0M454.2 424.2h0M467.3 396.9h0M426.3 449.1h0M430.7 437.8h0M391 415.4h0M450.2 266.3h0M428.5 419.8h0M422.9 438.3h0M437.1 441.3h0M471.8 390.6h0M458.8 421.8h0M378.3 239.9h0M447.4 420.8h0M411.7 452.7h0M361.1 342.5h0M423.5 454h0M374.3 407.3h0M388 355h0M435.1 389.3h0M397.4 406.1h0M409.9 447.5h0M422.9 442h0M425 422.5h0M464.7 321h0M414.5 452h0M391.9 426.8h0M444 338.1h0M438.7 329.4h0M473.1 387.5h0M377.7 330.1h0M390.5 415.1h0M397.5 443.5h0M437.3 427h0M406.4 405.8h0M400.5 413.6h0M408 425.5h0M494 315.5h0M406 400.9h0M391.9 419.1h0M378.8 436.3h0M422.7 438.5h0M409.7 449.3h0M457.7 401.1h0M422.1 444.4h0M402.8 446.7h0M446.1 427.5h0M482.9 389.5h0M391.8 421.9h0M465 402.9h0M407.1 418.9h0M412.5 439.4h0M440.6 404h0M420.7 449.5h0M369 313.7h0M397.6 386.4h0M449.1 306.1h0M403.8 434.3h0M423.3 437.1h0M444.6 319.8h0M445.9 283.2h0M453.7 358.6h0M394.1 359.4h0M378.5 420.7h0M422.1 439.1h0M468.6 396.2h0M364 389.3h0M398.1 412.7h0M407.8 433.8h0M426.1 412.6h0M413.4 444.6h0M443.2 437.1h0M370.4 424.4h0M377.8 437.8h0M470.6 269h0M448.8 428.3h0M420.4 450.8h0M420.8 450.3h0M499.1 323.7h0M437.5 441.4h0M379.2 412.1h0M369.8 287.3h0M412.1 437.4h0M409.5 426h0M404.7 414.6h0M393 426.9h0M468.4 386.2h0M422.1 444.2h0M446.1 309.2h0M473 396.5h0M362.6 306.1h0M420.3 451.4h0M407.5 448.2h0M409.2 440.3h0M426.8 439h0M381.5 371.7h0M359.1 330.3h0M436 435.5h0M456 356.8h0M447.7 371.7h0M442.6 392.1h0M461.3 351.7h0M362.7 384.7h0M423.8 428.2h0M426.6 454.4h0M439.1 424.8h0M332.3 304.3h0M474.8 282.8h0M374.6 322.2h0M362.2 346.1h0M441.5 377h0M403.7 447h0M384.1 297.8h0M433.2 403.8h0M383.3 413.2h0M401.7 396.7h0M388.3 296.3h0M423 438.4h0M420.6 452.8h0M421.4 447.8h0M432.8 392.2h0M435.6 378.9h0M414 448.1h0M469.8 385.9h0M425.4 438.7h0M460.5 346.3h0M458.1 299.1h0M409.7 449h0M398.8 445.4h0M431.7 408.5h0M398.9 428.3h0M374 377.9h0M368.7 387.5h0M421.1 452.3h0M410 449.5h0M394.2 328.4h0M435.2 447.3h0M425.4 423.8h0M371.3 355.7h0M471.3 420.1h0M355.7 327.1h0M422 454.6h0M456.5 423.5h0M451.1 405.9h0M392.2 338.8h0M372.4 404.6h0M422 445.7h0M442.5 444.8h0M437.8 397.5h0M404.7 397.7h0M426.9 425.7h0M427.9 449.7h0M420.1 453.4h0M390 403h0M412.6 454.2h0M399.4 385h0M412.2 448.5h0M405.8 398.5h0M373.2 324h0M472 377.6h0M402.5 427.7h0M360.5 381.2h0M411.7 444.8h0M339 263.4h0M483.8 365.3h0M460.4 307.1h0M412.6 445.2h0M426.5 410.8h0M388.7 295.3h0M443 421.5h0M478.3 331.9h0M391.9 314h0M352.7 307.8h0M380 422.4h0M426.2 416h0M452.2 417.5h0M401.6 393.4h0M427.1 431.4h0M396.7 444.9h0M407.5 426.3h0M452.7 302.5h0M397.8 398.8h0M388.3 369.4h0M430.5 410h0M404.3 421.3h0M401 377.5h0M428.7 433.1h0M346.7 349.2h0M424 439.9h0M361.2 333.4h0M421.5 446.5h0M430.5 412.2h0M401 433.1h0M396.5 426.2h0M502.3 325h0M422.5 439.1h0M468.9 403.4h0M410 446.3h0M469.3 395.9h0M362.4 435.6h0M423.7 450.8h0M442.1 434.2h0M426.5 416.5h0M330.9 305.6h0M382.3 405.4h0M433.8 437.7h0M486.1 362.4h0M374.2 415h0M341.9 298.4h0M503.2 322.6h0M425.4 441.2h0M446.3 429h0M425.1 452.4h0M414.5 453h0M391.2 309.8h0M420 453.8h0M446.6 277.7h0M459.4 409.4h0M427.8 446.1h0M382.3 418.2h0M413.9 448.1h0M446.2 428.2h0M430.6 398.6h0M486.9 336.2h0M380.1 418.2h0M421.2 448.8h0M399.9 411.3h0M430.5 424.2h0M449.8 366.9h0M413.3 454.6h0M423.3 447.4h0M456.8 413.5h0M422.1 443.9h0M411.1 443.6h0M365.2 366.7h0M429.1 394.1h0M401.4 428.4h0M426 452.6h0M406.9 410.5h0M450.6 330.7h0M442.6 436.9h0M401.9 416.6h0M359.3 332.7h0M447.4 423.1h0M395.9 437h0M411 446.7h0M474.1 280h0M422.4 453.4h0M472.1 358.6h0M421.3 454.7h0M425.6 432.7h0M446.3 437.8h0M470.7 415.4h0M400.9 400.8h0M439.9 440.8h0M394 394.8h0M403 437.9h0M463.6 314.1h0M383.8 310h0M458.9 363.3h0M373.9 415.7h0M411.1 447.3h0M432.8 422.5h0M424.9 421.4h0M451.1 267h0M420.4 450.5h0M445.6 434.7h0M376.1 403.3h0M427.7 435.4h0M398.4 406.1h0M383.8 430.9h0M447.9 271.2h0M430 427.5h0M430.7 437.8h0M421 451.1h0M438.3 333h0M425.7 452h0M396.8 425h0M390.5 346.4h0M442.3 441.8h0M353.4 303.3h0M391.2 403.5h0M473 378.4h0M405.1 420.3h0M422.7 444.8h0M442.5 406.8h0M392.8 380.7h0M360.3 284.1h0M420 453.6h0M413.1 446.1h0M449.1 310.6h0M385.5 432.9h0M431.1 449.4h0M423.2 432.5h0M462.7 389.2h0M399.3 403.2h0M365.7 253.7h0M360.4 351.2h0M356.1 346.9h0M387.3 389.5h0M361 251.9h0M445.3 430.9h0M411.9 451.4h0M392.5 413.4h0M422.6 451.5h0M451.6 292.9h0M372.1 363.6h0M387 435h0M421.2 445.5h0M424.9 446.8h0M424.8 450.4h0M388.5 430.7h0M438.1 409.8h0M363.2 386.7h0M455.1 424.1h0M363.9 356.4h0M444.4 439.4h0M424.9 452.4h0M396.2 339.9h0M400.4 366.2h0M350.9 326.2h0M388.1 429.2h0M440.4 329.4h0M400.5 446.4h0M384.3 273.2h0M445.6 426.3h0M369.1 452.4h0M432.5 428.1h0M407.5 409.2h0M441.4 376.6h0M366.2 350.7h0M463.4 412.1h0M479.6 358.1h0M407.7 422.8h0M408.3 433.5h0M376.8 403.1h0M394.8 417h0M369 390.7h0M387.3 295.4h0M431.6 442h0M421.5 444.2h0M385.3 391.7h0M394 436.6h0M421.9 441h0M386.5 399.3h0M438.3 404.6h0M414.6 452.3h0M361.1 374.5h0M423.2 446h0M357 368.9h0M397.1 435.7h0M429.2 418.7h0M407.8 418.4h0M425.6 415.8h0M407.3 441.1h0M447.9 293.3h0M477.3 353.9h0M428.4 450.8h0M400.4 425.2h0M476.7 327.3h0M426.6 423.3h0M432.2 388.3h0M427.8 424.8h0M426.9 429.1h0M447.7 372.5h0M449.6 267.9h0M366.9 396.7h0M426.3 417.1h0M445.7 415.4h0M360.6 342h0M400.6 416.2h0M464.7 299.2h0M460.9 391.1h0M449.2 413.3h0M412.1 451.6h0M391.9 326.5h0M411.1 444.1h0M448.2 417.8h0M404.1 413.6h0M399.2 439.6h0M427 424.5h0M374 445.7h0M433.7 392.9h0M404.6 423.6h0M448.5 264.8h0M365.1 381.9h0M357.4 432.4h0M460 297.5h0M430 393.5h0M405.1 438.1h0M408.1 420.9h0M428.7 419h0M453.9 228.6h0M381.7 427.3h0M396.6 418.7h0M465.6 402.8h0M397.4 389.5h0M383.6 427.6h0M364.6 383.2h0M420.6 453.2h0M398.2 446.1h0M358.6 313.1h0M474.2 304.1h0M423.6 454.7h0M443.8 418.3h0M454.9 388.4h0M437.9 441.2h0M442.1 430.8h0M445.2 355.3h0M465.9 406.4h0M351.3 398.2h0M425.5 416.7h0M437.5 438h0M414.7 452.8h0M427.1 437.6h0M424.5 433.9h0M445.5 356.5h0M427.4 437.4h0M430.3 407.3h0M400.8 370.7h0M389 393.6h0M465.1 324.7h0M413 450h0M370.4 336.5h0M393.7 441h0M389.7 312.4h0M459.8 238.4h0M407.7 451.3h0M355.7 411.5h0M443.9 314.9h0M451.1 430.1h0M411.9 440.5h0M479.4 342.5h0M412.4 446.9h0M421.5 449.4h0M359.2 365.1h0M426.1 439h0M404.3 396.7h0M402.9 404.8h0M459.5 420.4h0M458.2 412.7h0M406.4 434.5h0M363.5 330.2h0M440 402.3h0M458.4 373.5h0M425.9 451.7h0M397.7 445.2h0M391.4 398.3h0M424.6 427.3h0M324.1 327.8h0M371.1 402.3h0M426.9 452.3h0M384.1 395h0M412.9 453.3h0M381.8 411.7h0M475.8 347.6h0M411 442.3h0M432.5 434.3h0M401.5 448h0M450.5 315h0M403.4 444.4h0M380.4 247.1h0M429.9 449.6h0M433.3 440.8h0M408.7 417.5h0M388.6 390.5h0M332.6 340.9h0M400.2 408h0M387.2 413.6h0M445 428.2h0M403.3 383.5h0M429.2 423.7h0M380.4 424.4h0M454.6 395.9h0M401.9 423.1h0M451.2 334.7h0M451.4 351.1h0M377.7 307.7h0M407.1 431.1h0M385.2 425.3h0M367.7 373.1h0M413.7 452.2h0M447.8 278.7h0M339.2 379h0M385 410.9h0M450.7 428h0M387.6 434h0M321.1 318.2h0M390.4 305.5h0M402.7 388.5h0M384.6 430.4h0M386.6 374.7h0M379.4 408.8h0M405 408.5h0M410.6 450.6h0M436 443.8h0M456.2 353.7h0M336.3 336.7h0M369.4 404.9h0M400.8 411.2h0M413.4 446.4h0M410.6 452.3h0M404.6 390.9h0M423.5 431.7h0M445.6 286.7h0M368.1 389.3h0M396.9 414.5h0M414.6 453.8h0M462.9 403h0M435 383.3h0M452.2 425h0M517.1 283.3h0M376.5 418.3h0M432.3 372.1h0M353.4 324h0M436.9 341.8h0M462.4 399.8h0M370 411.1h0M467.2 378.7h0M497.4 355.9h0M386.9 401h0M392.3 433.4h0M408.6 416h0M431.1 431.5h0M463.4 413.8h0M436.2 387.9h0M429.8 408.6h0M379.4 349.9h0M377.5 411.2h0M404.7 448.4h0M404.1 412.4h0M441.6 332.6h0M410.6 439h0M404.8 435.3h0M471.6 386.9h0M440.1 428h0M366 365.9h0M476.6 316.5h0M454.5 235.7h0M459.4 437.3h0M451.2 382.7h0M385.5 279h0M398.5 387.3h0M428 448h0M373 233.9h0M397.3 372.2h0M401 419.2h0M453.9 359.7h0M357.3 299.8h0M460.5 404.5h0M430.1 445.4h0M473.9 369.9h0M405.5 426.5h0M407.6 421.2h0M456.2 298.6h0M355.8 351.4h0M413.6 446.1h0M426.1 428.9h0M423.1 450.1h0M401.4 375.4h0M407.3 411.3h0M403.8 400.9h0M387.8 296.8h0M390.9 344.9h0M412.4 446.3h0M498.1 377.3h0M404.4 390.4h0M390.4 338.8h0M465.1 247.3h0M455 370.6h0M411 445.3h0M423.3 442h0M449.3 344.5h0M468.7 387.8h0M464.4 408.3h0M352.1 359.5h0M432 447.7h0M451.7 392h0M364.6 385.3h0M402 448.2h0M409.2 454.4h0M408.8 445.5h0M434.8 440.1h0M407.8 451.3h0M447 284.3h0M357.6 328.3h0M437.1 422.1h0M398.5 423.9h0M433.9 363.8h0M425.2 445.9h0M453.3 374.4h0M470.6 395.9h0M412.4 447.6h0M479.1 348.2h0M434.4 427.1h0M426.3 452.9h0M425.8 417.3h0M406.9 422.7h0M435.8 408.4h0M407.8 412.4h0M370 326.1h0M402.1 437.8h0M390.5 437.1h0M360.3 289.7h0M434.7 378.2h0M470.5 326.3h0M362.5 352.9h0M365.3 317.1h0M445.7 338.7h0M360.1 350.9h0M367.2 287.8h0M373.4 405.7h0M454.5 324h0M422.7 450.9h0M422.2 441.7h0M442.1 433.4h0M354.5 352.5h0M408.2 426.3h0M475.2 373.8h0M404.7 417.2h0M394.7 442.3h0M376 278.1h0M434.2 389.5h0M342.6 363.5h0M426.3 451.5h0M434.9 379.6h0M404.6 411.2h0M427.4 430.2h0M423.2 452.3h0M461.7 404.1h0M403.2 433.7h0M425.7 432.3h0M419.9 454.7h0M447.1 389.4h0M452.8 271.5h0M356.4 400h0M410.9 446.8h0M396.4 415.9h0M402.4 429.4h0M380.2 348.9h0M471.2 349.3h0M443.3 415.8h0M374.6 300.5h0M375.8 417.9h0M384.4 311.2h0M391.4 372.2h0M408.9 420.9h0M460.7 369.1h0M404.1 449.1h0M410.9 431.3h0M398.7 445.7h0M470.4 386.2h0M424.3 425h0M467.9 367.5h0M421.2 445.5h0M447.2 324.9h0M398.3 442.8h0M411.1 446.6h0M361.2 352h0M398.8 393.5h0M400.6 434.2h0M399.9 402.9h0M391.3 418.9h0M373.5 417.4h0M435.8 441.5h0M415 454.2h0M478.1 334.2h0M383.2 401h0M392.5 436.6h0M446.6 362.2h0M426 416.6h0M297.6 389.6h0M438.3 390.4h0M390.8 430.9h0M364 274.7h0M403.6 445.2h0M443.9 436.6h0M472.2 384.3h0M440 364.8h0M423.1 447.9h0M403.2 414.2h0M403 430.8h0M399.1 444.9h0M476.3 364.8h0M387.9 434h0M425.2 452h0M498 355.5h0M357.7 417.1h0M369.4 424.3h0M452.2 430.2h0M485.7 389.9h0M464.3 407.1h0M425.4 451.7h0M387.7 435.5h0M501.5 348h0M440.5 417.1h0M454.1 426h0M435.9 444.1h0M396.4 375.3h0M392.5 434h0M428.5 451.3h0M399.5 366.6h0M393.4 352.8h0M466.9 418.7h0M460.7 297.1h0M446.1 354.1h0M410.9 442.1h0M471.3 388h0M413.9 448.6h0M379.5 418.2h0M414 451.8h0M445.8 349.7h0M372.4 402.2h0M443.6 412h0M382.1 420.5h0M484.7 325.3h0M421 453h0M427.5 430.2h0M398.7 362.1h0M445.6 406.7h0M421.7 451.1h0M424.1 453.9h0M437.4 438.3h0M386.5 412.1h0M442.2 305.7h0M371.9 290.9h0M386.6 436.6h0M453.3 440.6h0M424.3 450.9h0M423.2 437.4h0M432.4 373.5h0M439.4 443.2h0M409 447.2h0M368.9 418.3h0M409.6 453.2h0M438 413.8h0M427.3 417.7h0M430.4 430.8h0M449.3 384.7h0M389.7 434h0M434.7 434h0M400.9 428.8h0M390.9 370.4h0M397 344.7h0M448.2 292.6h0M444.5 296.6h0M458.3 421.3h0M429 433.8h0M422.1 453.7h0M430.5 384.9h0M441.3 393.6h0M450.5 380.3h0M431.9 438.5h0M401.3 418.6h0M421.9 454.2h0M452.9 346.5h0M392.5 413.1h0M477 339.4h0M376.1 404.5h0M386.6 421.7h0M436.3 443h0M460.4 366.9h0M363.9 356.6h0M402.9 394.8h0M407.8 431.2h0M410 424.9h0M384.8 388.4h0M432 449.4h0M367.5 305.3h0M485.5 378.1h0M386 284.5h0M425.3 442.1h0M474.8 384h0M428.1 416.7h0M427.5 435.7h0M410.1 443.7h0M424.8 423.3h0M371.7 343.2h0M425.1 429.6h0M370.9 411.8h0M402.6 428h0M431 412.3h0M397.7 442.5h0M379.2 264.8h0M425.4 433.4h0M413.3 450.2h0M459.3 334.6h0M446.5 335.5h0M421.2 452.6h0M454.4 369.8h0M425.2 453.6h0M368.1 392.3h0M484 289.5h0M378.8 404.3h0M381 421h0M443.1 304.9h0M435.9 400.7h0M427 447.1h0M426.2 446.3h0M386.5 284.4h0M329.7 381.8h0M399.5 372.5h0M438.7 373.2h0M422.4 442.8h0M425.5 447.8h0M393.2 358.5h0M433.3 433h0M391.8 412.9h0M387.1 285.6h0M350.6 254.2h0M370.9 296.6h0M373.7 391.2h0M403.2 397.6h0M428.8 446.5h0M472.4 337.4h0M411.1 445.7h0M368 330.3h0M404.9 444.3h0M379.5 353.5h0M439.7 438.4h0M405.4 437.6h0M408.4 421h0M373.9 266.5h0M384.3 318.7h0M402.3 443.4h0M466.2 360.9h0M456.1 426.9h0M360.8 267.5h0M460.9 391h0M453.1 386.2h0M429.1 400.7h0M369.4 310h0M425.5 449.8h0M376 327.6h0M459.2 236.6h0M405.5 405h0M364.5 358.4h0M386.7 321.4h0M426.1 421.3h0M409.1 447.4h0M452.6 424.8h0M420.4 452.2h0M432.6 386.7h0M403.7 423h0M395.2 393.7h0M387.1 324.3h0M476.7 288.3h0M434.6 363h0M368.1 413.5h0M422.6 435.7h0M395.4 412.5h0M378.1 301.5h0M421.6 443.5h0M384.1 413.1h0M446.8 438.9h0M406.6 429.9h0M389 433.2h0M399.2 359h0M475 368h0M408.6 429.4h0M414.7 453.4h0M430.9 381.5h0M397.1 357h0M424.1 445.2h0M436.5 434.6h0M425 420h0M438.9 417.5h0M473.4 360.1h0M422.3 454.8h0M385.7 329.4h0M380.8 251.1h0M398.2 437.8h0M391.6 397.2h0M409.5 424.7h0M378.7 238h0M442.3 418.5h0M387.7 413.1h0M436.8 417.6h0M386 377.3h0M406.5 441.2h0M425 435.2h0M471.1 312.6h0M435.5 399.3h0M402.7 382.1h0M421.1 445.7h0M480.8 322.5h0M439.5 362.8h0M429.9 421.2h0M385.6 425h0M425.1 437.2h0M410.8 436.9h0M392.9 347h0M429.3 419.3h0M435.7 405h0M440.4 421.1h0M384 295.9h0M404.7 431.5h0M394 338.7h0M423.6 440.1h0M411.8 452.1h0M453 364.7h0M409.5 437.8h0M423.3 454.8h0M429.9 450.3h0M437.3 378.9h0M450.4 370.6h0M427 450.6h0M406 450.3h0M421.9 445.3h0M401.3 444.8h0M360.7 329h0M389.6 436.2h0M403.5 421.6h0M402.1 440.5h0M430.4 445.2h0M413.5 445.7h0M397.3 443.5h0M439.1 432.5h0M442.7 420.5h0M474.2 254.9h0M440.1 434.7h0M460.3 335.1h0M382.8 431.4h0M403.3 438.8h0M422.7 435.9h0M381.8 387.2h0M423.9 451.2h0M450.6 423.3h0M409.1 418.3h0M397.5 437.4h0M389.2 431.2h0M481.2 356.5h0M387.2 433.6h0M389.9 316.1h0M413 453.1h0M379.4 422.7h0M363.1 382.5h0M403.1 449.1h0M463.3 405.4h0M397.8 349.6h0M399.9 413h0M430.3 447.9h0M459.8 357.8h0M371.4 366.8h0M395.9 417.5h0M421 447.1h0M411 434.9h0M479 335.5h0M445.9 425.3h0M398.4 403.8h0M411.3 451.8h0M376 362.1h0M409.3 453.4h0M411.8 440.1h0M410 435.1h0M362.4 264.6h0M446.1 320.4h0M397.8 441.1h0M464.9 402h0M414.9 454.9h0M447 437.9h0M466.2 298.3h0M427.9 402h0M459.5 323.8h0M359.5 346.7h0M396.3 352.1h0M348.8 341.6h0M387.3 338.2h0M472 392.3h0M431.9 403.4h0M422.2 439.5h0M389.4 387.5h0M426.2 429.7h0M383.5 417h0M469.7 386.6h0M359.6 365.9h0M368.1 297h0M435.5 445h0M404.6 404.2h0M432.3 432.7h0M392.4 440.8h0M403.6 441.8h0M419.8 454.4h0M400.4 401.8h0M414.3 453.7h0M441.8 431.3h0M373.9 427.2h0M426.1 452.1h0M396.7 359.6h0M438.2 416h0M367.9 414h0M374.7 238.9h0M430.8 411.2h0M421.3 454.1h0M420.4 450.7h0M431.5 425.4h0M414.8 453.8h0M353.6 380.3h0M398.6 433.5h0M449.3 361.7h0M425 432.7h0M420.8 450.5h0M379 407.2h0M443.6 432.7h0M410.1 440.7h0M357.4 300.3h0M385.7 303.3h0M411 448.1h0M421.1 453.9h0M440.5 333.9h0M426.6 452h0M391.5 376.7h0M377.8 342.1h0M469.3 362.6h0M384.2 368.4h0M376.3 393.6h0M395.3 425h0M445.3 432.9h0M423 441.7h0M371.2 404.4h0M379.7 373.8h0M436.7 374h0M390.1 358.3h0M443.2 356.5h0M351 346.2h0M455.4 423.2h0M362.6 360.2h0M370.4 403.3h0M437.1 370.9h0M420.4 454.8h0M435.8 402.7h0M325.2 333.1h0M442.2 399.9h0M404.7 425.2h0M458.1 374.7h0M406.8 408.2h0M424 442.6h0M400.1 381.2h0M421.5 451.7h0M355.3 384.7h0M475.4 315h0M432.4 405.5h0M440.9 349.8h0M360.3 308.8h0M410.7 452.8h0M431.6 447.3h0M381.8 407.9h0M428.8 429.6h0M410.9 434.7h0M411.2 432h0M431.7 434.7h0M409.1 452.4h0M428.3 451.1h0M356.1 348.1h0M414.2 452.1h0M409.4 450.1h0M501.5 274.4h0M427.2 438.9h0M411.6 440.9h0M481.5 251.1h0M423.8 451.8h0M430.9 445.4h0M395.1 400.4h0M434.2 371.3h0M383.2 429.7h0M441.8 335.7h0M436.3 361.3h0M347.3 317.3h0M375.5 382.3h0M409.6 434.1h0M495.6 294.7h0M393.4 406.6h0M410 436.3h0M423.2 441.1h0M409.7 440.6h0M447.7 287.7h0M386.8 427.2h0M354.9 323.6h0M426.5 435.4h0M446.6 388.3h0M457.3 322.5h0M391.4 409.3h0M442.8 306.7h0M460.6 303.6h0M433.3 411.1h0M480.8 386.9h0M359.2 272.8h0M411.2 431.5h0M363.3 349.8h0M471 386h0M424.6 439h0M422.9 455h0M468.4 390.1h0M410.7 438.5h0M408.8 418.2h0M378.9 429.8h0M435.5 387.5h0M434.6 356.3h0M446.4 433.2h0M406.6 420h0M425.1 422.1h0M410.8 452.5h0M459 363.5h0M444.1 434.8h0M436 429.6h0M476.7 360.9h0M427.9 447.9h0M400.1 363.8h0M436.8 420.1h0M410.3 452h0M393.1 437.6h0M363.6 283.3h0M433.2 381.7h0M448.3 281.2h0M435 418.2h0M449.3 303.4h0M444.8 430.6h0M367.1 405h0M439.5 384.6h0M454 380.6h0M414.9 453.8h0M397.6 368.1h0M375.7 384.3h0M408.2 452.1h0M462.6 354.8h0M431.1 433.6h0M385.4 423.6h0M460.2 396.8h0M432.1 408.3h0M432.7 372.1h0M414 448.4h0M394.1 420.1h0M392.6 320.1h0M444.9 439.6h0M438.4 385.1h0M413.8 451h0M400 441.3h0M411.6 452.4h0M458.3 416.1h0M429.2 424.8h0M462.3 414.3h0M425 453h0M436.8 353.2h0M360.9 366.3h0M367.7 325.1h0M457.9 276.4h0M443.2 419.7h0M392.7 320.1h0M424.7 427.8h0M399.1 432.2h0M440.7 317.1h0M398.9 363.5h0M453.8 299.8h0M435.1 401.1h0M360.4 378.3h0M362 367.9h0M412.3 451.2h0M414.1 453.3h0M351.6 371.5h0M359.3 265.5h0M389.4 401.6h0M382.8 395h0M464.9 409.6h0M410.4 452.1h0M467.3 405.7h0M422.1 447.4h0M442.6 313.2h0M429.9 449.6h0M436 421.8h0M456.9 384h0M448.3 431.5h0M396.3 394.4h0M407.2 428h0M391.4 431.8h0M398 368.7h0M433 384.5h0M398.6 446.3h0M401.4 438.2h0M396.7 422h0M422 444.7h0M463.1 403.1h0M437 401h0M366.8 381.7h0M455.2 379.3h0M442.1 374.3h0M421.8 441.2h0M433 409h0M398.9 445.5h0M390.3 368.9h0M413.3 446.3h0M396.9 384h0M361.1 303.5h0M367.6 387h0M377.9 347.4h0M452.8 415.1h0M380.9 411.2h0M405.8 401.4h0M435.2 367.5h0M413.8 451.8h0M455.3 408.5h0M402.1 434.5h0M398.1 423.1h0M443.5 392.4h0M369.5 336.8h0M385 285.3h0M408.8 452h0M401.7 419h0M464.1 395.8h0M357.5 354.4h0M478.3 276.1h0M452.2 425.7h0M437.5 433.1h0M388.6 370.6h0M431.5 380.7h0M445.7 413.1h0M446 342.3h0M410.3 430.2h0M430 450.1h0M466.4 407.2h0M430.5 436.6h0M380.2 245.2h0M457.2 423.9h0M383.5 263.9h0M379.1 282h0M428.4 408.5h0M478.2 342.7h0M403.7 386.3h0M414.2 450h0M406.2 450.1h0M395 410.9h0M412.1 453.3h0M409.1 423.2h0M390.5 434.1h0M410.9 448.8h0M466.3 377.1h0M442.7 303.8h0M399.2 428.9h0M375.2 406.9h0M479.4 346.1h0M406.2 401.7h0M464.9 388.7h0M379.8 387.6h0M408.2 417.6h0M419.9 454.4h0M365.4 294.7h0M395.1 438.5h0M400.4 366.9h0M424.3 450.3h0M358.9 380.6h0M480.6 314.1h0M422 444.1h0M394.5 421.3h0M437.6 393h0M408.9 435.9h0M438 336.6h0M432.6 412.2h0M452 383.3h0M424.4 438.9h0M480.3 284h0M358.3 386.7h0M468.2 374.3h0M408.8 449.1h0M372.9 344.3h0M361.7 323.8h0M491 380.4h0M358 354.4h0M391.6 385.3h0M384.8 314.2h0M393.3 336.8h0M410.9 436.4h0M478.1 289.9h0M397.6 428.3h0M485.9 271.3h0M460.9 279.1h0M441.7 382.8h0M427.2 443.1h0M431.3 446.7h0M392.1 327.7h0M381.8 342.4h0M429.4 450.3h0M406.7 424.7h0M392.4 409.7h0M432.1 433.6h0M436 363.6h0M399.5 373.2h0M426.1 450.6h0M372.2 412.5h0M404.9 438.9h0M398.4 438.9h0M403.2 384.4h0M441.7 436.8h0M385 367.6h0M411.2 439.3h0M445.4 399.1h0M411.6 434.3h0M432.3 445.7h0M436.3 443h0M371.8 361h0M424.4 438.9h0M391.4 316.5h0M412.8 454.7h0M410.6 438.7h0M388.2 344.8h0M437.1 429.6h0M437.3 421.5h0M423.5 446.7h0M427.1 416.9h0M411.1 451.6h0M452.4 418.7h0M400.2 445.8h0M452.1 401h0M427.6 436.3h0M399.8 413.3h0M426.8 430.1h0M430.6 385.6h0M423.5 430.2h0M362.2 388.8h0M394.1 437.8h0M428.8 444.2h0M408.4 432.8h0M392.7 343.8h0M396.4 419.3h0M343.1 247.4h0M391.5 381.3h0M456.4 408.3h0M427.5 417.1h0M426.9 448.5h0M390 302.7h0M399.4 441.8h0M421.9 448.6h0M443.5 440.3h0M357 334.5h0M405.4 399.6h0M440.1 382.5h0M421.3 448.8h0M378.9 238.7h0M446.4 284.3h0M408.5 421.3h0M436.9 367.6h0M445.1 291.8h0M395.8 425.5h0M380.2 417.3h0M401.4 442.6h0M421.5 443.9h0M394.4 432.5h0M394.9 435.1h0M450.1 356.5h0M472.4 247.5h0M409.8 448.5h0M429.1 413.6h0M420.1 454.1h0M432.6 405h0M423.5 443.2h0M426.6 423.1h0M436.4 439.8h0M393.6 419h0M429.2 423.6h0M391.5 408.9h0M350.8 272h0M401.9 377.2h0M362.6 258.6h0M441 438.3h0M426.5 424.6h0M456.4 383.1h0M427.5 440.9h0M392.8 394.9h0M426.6 411.4h0M452.3 357.7h0M405.3 443h0M413.4 455h0M371.6 402.6h0M402.6 448.6h0M431.1 429.8h0M401 439.4h0M423.1 440.1h0M412.3 440.1h0M441.1 429h0M394.5 395.9h0M434.8 438.2h0M422.2 451.5h0M392.9 437.2h0M397.1 400.1h0M434.6 441.4h0M391.9 439.5h0M407.2 444.5h0M454.6 366.4h0M422.2 450h0M396.7 410.1h0M377.5 258.6h0M428.7 398.3h0M391.2 440.7h0M370.8 366.8h0M437 407.1h0M379.5 303.1h0M403.8 389.1h0M408.6 421.4h0M369.3 403.3h0M420.3 451.2h0M460.3 413.3h0M456.8 259h0M471.7 381.6h0M443.9 418.6h0M434.3 434.5h0M458.6 337.2h0M424.5 449.6h0M441.4 317.3h0M317.6 295.2h0M430 396.9h0M397.2 394.7h0M409 449.1h0M463.9 348.7h0M441.9 320.5h0M364.7 332.1h0M341 407.3h0M456 353.1h0M480.5 336.7h0M439.6 390.1h0M450.1 421.1h0M478.4 342.4h0M435.9 415.1h0M474.5 318.7h0M371.1 314.8h0M358.2 431.4h0M362.7 386.5h0M490 299.3h0M436.7 443.4h0M361.9 345.5h0M428.2 445h0M425.6 415.8h0M371.7 401.6h0M362.7 368.5h0M448.4 340.4h0M474.2 371.7h0M436.9 342.6h0M400.4 366.8h0M408.7 443.6h0M443.5 440.2h0M425.4 421.8h0M410.6 430.1h0M458.1 382.4h0M431.7 442.4h0M457.8 429.9h0M408.6 417.9h0M433.6 397.4h0M410.2 447.6h0M450 402.9h0M446.4 309.2h0M368.1 363h0M361.9 267.4h0M475.2 309.2h0M425.8 443.4h0M435.2 447.3h0M361.7 383.7h0M396.8 436.5h0M400.1 440.5h0M439.7 442.5h0M398.3 428.2h0M439.9 370.1h0M343.2 257.3h0M413.6 447.7h0M409.2 430.7h0M470.2 352.3h0M423.6 440.3h0M390.4 428.1h0M422.1 453h0M430.6 410.7h0M365.8 398.2h0M435 444.5h0M443.8 393.8h0M375 300.1h0M475.2 347.2h0M470.9 335.4h0M461.7 406.1h0M410.2 443.8h0M408.3 451.7h0M364.5 248.1h0M403.8 439.1h0M370.6 410.6h0M409.7 422.2h0M440.4 363.7h0M407.9 411.7h0M401.1 427.6h0M373.3 411.4h0M472.1 360.8h0M408.3 443.8h0M363.4 298.8h0M413.1 444.5h0M365.4 368.2h0M406.4 439.4h0M362.8 368.6h0M411.5 435.5h0M439.6 329.9h0M378.8 407.4h0M406.6 410.4h0M430.1 398.5h0M409.1 422.6h0M465.5 374h0M424.2 443.8h0M397.6 410.8h0M354.2 335.7h0M397.5 422.2h0M379.3 418.5h0M443.3 416.6h0M428.5 397h0M429.3 450h0M381.7 287.1h0M407.8 441.2h0M363.8 307h0M399.5 398h0M428.4 447.6h0M357.4 338.3h0M424.9 434.6h0M369.1 381.1h0M438.6 382.1h0M454 422h0M402.5 409.5h0M437.6 437.3h0M472.9 379.4h0M423.3 442.7h0M433.1 389.3h0M411.4 452.5h0M385.7 334.4h0M459.3 376h0M450.4 364h0M479.5 354.1h0M459.6 415.4h0M433.4 444.5h0M429.3 439.4h0M384.1 430.7h0M431.9 409.4h0M420.1 454.6h0M391.2 440.2h0M425.3 419.5h0M455.9 380h0M359.9 420.4h0M409.9 429.5h0M401.5 407.8h0M422.9 442.1h0M446 380.6h0M381.3 268.5h0M386.9 296.4h0M444.6 421.3h0M372.8 422.6h0M442.5 361.3h0M385.2 296.8h0M412.8 450.1h0M454.6 408.9h0M431 391.6h0M399.9 407.2h0M379.9 405.7h0M427.7 430.7h0M428.8 395.5h0M400.8 396.7h0M469.8 331.2h0M430.4 442.2h0M444.1 435.2h0M414.7 453.6h0M396.3 369h0M352.5 341.9h0M412.7 449.1h0M430.3 441.2h0M436 445h0M369.8 394.5h0M459.7 243.3h0M422.8 439.2h0M412.8 446.3h0M383.8 361.8h0M483.8 304.1h0M432.6 443.7h0M387.8 437.2h0M352.4 288.1h0M438.1 442.1h0M414.5 451.1h0M468.7 402.7h0M410.9 431.9h0M380.4 268.5h0M403 448.1h0M424.9 425.4h0M387.3 424.4h0M432.3 445.1h0M425.6 451.8h0M446.2 316.4h0M421.6 442.7h0M427.1 432.1h0M432.4 379.4h0M463.5 325h0M398.8 370.6h0M425.2 433.7h0M407.6 422.9h0M433.4 434.1h0M381.8 300.6h0M425 442.9h0M435.2 393.4h0M399.4 446.2h0M437.8 412.1h0M377.6 256.1h0M437.5 392.7h0M358.5 312.9h0M401.1 396h0M460 408.5h0M420.5 450.3h0M370.5 405.5h0M399.9 434.9h0M414 454.2h0M426.2 452.6h0M347.7 275.8h0M430.8 426h0M426.4 417.8h0M381.8 411.8h0M421.8 442.1h0M407 438.2h0M412 443h0M409.2 419.8h0M486.6 385.3h0M433 435.9h0M396.5 436.8h0M404.1 442.3h0M359.7 301h0M425.6 450.6h0M426.6 445.3h0M386.2 298.3h0M412.6 444.2h0M450.2 258.6h0M428.7 431.6h0M423.4 436.1h0M424.6 426.1h0M465.3 393.6h0M411.6 445.6h0M396.9 409.4h0M412.9 443.6h0M361.3 352.4h0M442.3 392.3h0M421.4 443.9h0M461.9 372.1h0M431.8 439.4h0M473.5 250.1h0M402.8 435.2h0M408 445.9h0M436 439.8h0M421.6 442.2h0M469.1 389.2h0M379.5 420.2h0M425 421h0M471.5 394.2h0M424.1 441.6h0M383 317h0M475.6 256.2h0M465.2 392.5h0M475.5 338.5h0M357.8 331.2h0M408.1 450.5h0M407.2 409.9h0M347.8 302.8h0M444.3 359.9h0M406.9 441.4h0M452 247.9h0M368.6 263.9h0M454.3 438h0M414.4 452.5h0M431.4 396.1h0M403.3 402.9h0M434.8 367.5h0M423.2 449.9h0M441.9 418.3h0M410.1 430h0M421.2 445.5h0M413.5 447.1h0M400.6 422.9h0M387.4 377.1h0M450.8 359.2h0M366.3 403.6h0M407.4 443.5h0M386.6 301.6h0M441.4 419h0M426.9 452h0M392.5 433.6h0M437.2 408.5h0M399.7 414.4h0M383.8 280.2h0M435.3 415h0M410.8 435.3h0M425 437.6h0M340.4 351.5h0M457 284.8h0M409.2 423.3h0M443 311.2h0M414 450.1h0M426.6 411.2h0M386.7 378.3h0M404.8 435.9h0M450.8 418.3h0M421.5 451.4h0M467.1 340.4h0M385.6 421.7h0M344 305.5h0M367.8 381.5h0M422.4 452.4h0M452.1 424.6h0M403.4 389.3h0M395.8 394.8h0M405.2 404h0M439.9 439.6h0M432.1 439.3h0M466.6 303.1h0M412.6 442.1h0M433.9 387.8h0M463.5 440.1h0M441.3 360.2h0M400.3 425.2h0M365 284.9h0M405.3 433.8h0M352.9 263.7h0M411.4 453.6h0M452.2 414.5h0M469.2 390.5h0M457.4 415.9h0M362.8 325h0M383.9 293.5h0M370.4 318.6h0M420.2 452.9h0M509.6 367.4h0M423.9 452.8h0M426.1 448.2h0M367.9 246h0M436.8 386.8h0M396.6 438.7h0M411.3 432.3h0M367.2 379.1h0M393.1 441.6h0M452.5 423.7h0M393.8 439.9h0M426.1 429h0M425 452.8h0M493 321.4h0M412.9 448.6h0M423.8 443h0M397.8 387.9h0M424.5 431.8h0M445.7 324.5h0M447.5 434.9h0M422 441.7h0M360.8 381.6h0M478.7 291.6h0M405.5 398.2h0M392.7 382.2h0M434.2 445.7h0M441.3 353.9h0M451.6 380.7h0M381.3 429.4h0M427.4 410.2h0M447.8 284.6h0M464.5 401.7h0M352 351.3h0M438.3 419.8h0M423.2 451.2h0M467.2 256.2h0M455.8 407.5h0M441.2 402.8h0M442.6 408.9h0M429.4 451h0M445.3 305.4h0M476.2 327.2h0M453.7 409.3h0M437 428.8h0M399.1 366.5h0M432.6 388.4h0M444.9 332.4h0M375.3 268.7h0M448.1 329.1h0M438.7 439.5h0M379 282.4h0M397.9 436h0M425.5 450.2h0M353.7 413.6h0M421.8 451.8h0M403.2 415.5h0M409.2 425.8h0M435.3 412.1h0M409.9 427.3h0M413.2 452.2h0M428.8 441.8h0M329.4 327.6h0M409.6 443h0M368.3 282.9h0M465.2 311.8h0M405.1 430.4h0M371 396.9h0M377 364.3h0M442.2 386h0M454.2 425.1h0M356.4 385.1h0M411.1 449.8h0M442.1 369.2h0M391.3 344.9h0M422.3 438.1h0M374.3 419.8h0M431.4 449h0M425.6 448.3h0M389 390h0M452.5 416h0M423.3 433.2h0M445.1 327.8h0M381.3 292.9h0M435.5 429h0M395.8 438h0M427.7 422h0M369.1 237.1h0M481.9 348.7h0M445.1 425.7h0M368.7 351.3h0M443.2 304.2h0M468.1 402h0M386 312.7h0M443.2 440.5h0M406.9 415.7h0M400.4 435.2h0M424.8 444.8h0M359.6 359.3h0M381.6 381.8h0M388.1 436.6h0M488.6 341.5h0M411 450.7h0M461.4 271.7h0M405 444.1h0M469.9 389.3h0M395.1 436.6h0M454.5 435.8h0M363.8 261.6h0M465.3 402.9h0M402.5 403.5h0M435.3 443.2h0M466.1 392h0M410.7 434.1h0M456.6 410.7h0M425 427.5h0M428.3 398h0M378.3 343.7h0M441.3 385.5h0M410.5 439.6h0M427.1 444.1h0M494.2 309.9h0M404.9 424.4h0M400.8 431.4h0M351.7 293.2h0M423.8 436.4h0M471.6 387.6h0M423.1 446.8h0M455.2 290.6h0M388.1 427.8h0M362.8 314.7h0M433.9 423.3h0M409.6 434h0M402.6 440.5h0M387.9 428.3h0M400.2 395.6h0M428.5 448.1h0M447.3 351.8h0M425.7 432.7h0M439.7 411.6h0M401.7 407.4h0M444.1 322h0M424.4 450.3h0M393.2 430.4h0M388.4 381.2h0M403.7 445.5h0M445.3 442.4h0M433.4 404.9h0M388.3 351.6h0M480.6 364.2h0M439.7 328.4h0M409.4 449h0M475.7 337.4h0M428.8 412.9h0M405 404.1h0M381.1 311.5h0M378 400.1h0M410 451.8h0M391.8 398.2h0M366.4 395.2h0M434 448h0M430 393.4h0M412.8 452h0M413.2 453.2h0M465.8 416.2h0M459.1 435.8h0M453 247h0M425.8 429.1h0M406.7 424.4h0M459 398.1h0M409.4 436.4h0M402.6 445.4h0M385.4 399.6h0M422.4 445.8h0M355.4 308.5h0M430.5 386.9h0M467.2 334.5h0M475.2 351.9h0M379.5 419.7h0M385.1 361.4h0M465 391.2h0M395.5 423.6h0M457.3 267.9h0M408.1 438h0M433.8 427.1h0M407.2 416.6h0M428.4 417.5h0M402 386.4h0M469.8 389.2h0M468.9 351.8h0M449 424.7h0M464.7 400.1h0M374.9 383h0M388.3 421.2h0M426.2 439.5h0M364.4 386.5h0M487.5 337.3h0M413.7 446.9h0M463.7 375.2h0M402.2 391h0M402.2 440h0M468.8 372.1h0M434.2 397.6h0M384 388.7h0M466.2 397.6h0M434.1 364.2h0M370 294.2h0M387.9 312.1h0M419.9 453.7h0M383.1 407h0M424.4 440.3h0M433.8 368.2h0M424.8 440.2h0M421.4 447.5h0M464.8 370.5h0M461.6 385.9h0M399.3 419.6h0M462 390.8h0M451 420.8h0M439.8 430.9h0M410.7 435.9h0M392.7 427.1h0M426.6 442.5h0M380 334.4h0M378.8 367.6h0M374.3 410.3h0M353.4 351.6h0M379.1 268.9h0M371.8 299.6h0M402.1 409.8h0M446.3 413.3h0M414.3 452.7h0M421.5 453.7h0M395.2 432.3h0M372.4 323.8h0M439.5 438.1h0M427 434.5h0M413.9 448.5h0M385.7 282.9h0M420.9 450h0M386.2 418.7h0M457.7 411.6h0M458.6 403.4h0M414 450.5h0M446.5 440.5h0M367.9 266.7h0M385.8 431.2h0M395.4 437.1h0M324.5 378.7h0M389.7 436h0M353.8 313.9h0M445.2 371.2h0M460.9 316.5h0M388.7 366.5h0M383 424.4h0M400.9 436.4h0M474.3 342.7h0M412 442.7h0M485.4 380.9h0M441.5 442.4h0M406.6 413h0M419.9 454.9h0M469.4 269.1h0M385.2 408.9h0M410.5 434.8h0M373.3 406.8h0M438.8 443.8h0M410.1 449.6h0M394.7 331.5h0M396.9 344.7h0M426.4 412h0M412.5 451.3h0M423.6 444.1h0M404.6 435.1h0M429.9 440.8h0M454.4 338.3h0M379.9 245h0M385 418h0M347.6 386.1h0M430.2 419.2h0M422.2 455h0M452.9 411.4h0M442.9 301.7h0M407.3 442h0M396 405.4h0M420.6 451.1h0M367.5 338.7h0M440.3 420.3h0M496 281.8h0M374.1 414.3h0M426.9 434.3h0M366.1 335.6h0M373.3 416.4h0M453.5 234.7h0M376 246.7h0M390.1 428.6h0M401.9 385.9h0M454.5 406.8h0M423.7 429.7h0M370.5 405.9h0M387.4 425h0M443.8 325.1h0M437.5 437.4h0M388 339.5h0M412.8 444.6h0M351.8 394.5h0M524.9 416.2h0M364.7 370.7h0M404.8 447.4h0M488.5 363h0M412.4 453.9h0M365.7 381.9h0M396.8 353.2h0M495.4 348.1h0M428.9 448.2h0M380.6 415.8h0M454.8 379.5h0M423.7 444.1h0M441.5 431.2h0M424.2 436.7h0M372 315h0M395.1 341.9h0M427.3 446.5h0M451.7 401.1h0M398.6 398.9h0M367.4 329.9h0M427.3 410.1h0M394.5 392h0M378.3 392.3h0M432.4 448.6h0M403.6 404.2h0M478.8 416.4h0M448.4 402.5h0M391.8 399.1h0M459.7 416h0M370.7 312.9h0M299.7 343.3h0M390.2 407.4h0M464.1 393.5h0M435.9 436.2h0M457.1 391.8h0M359.8 365.4h0M391.1 394.3h0M360.2 385h0M447.4 323h0M372.4 238.4h0M475.4 360.1h0M435.9 352.1h0M408.2 442.4h0M370.6 343.6h0M455.8 381.8h0M382.6 305.5h0M399.9 421.8h0M378.9 395.3h0M469.6 364.8h0M409.6 440.2h0M457.9 294h0M405.4 437.5h0M434.9 416.2h0M371.6 331h0M406.4 417.4h0M450.5 426.8h0M413.5 454.5h0M424.8 447.8h0M420.4 451.5h0M395.6 441.6h0M386.4 408h0M393.3 389.7h0M413.5 454h0M431.1 406.3h0M454.6 224.5h0M452.4 402.6h0M351.9 344.4h0M383.3 322.7h0M423.2 446.1h0M421 450.6h0M375.5 341.4h0M462.9 371.8h0M361.3 309.8h0M358.5 345.3h0M445 326.3h0M375.6 413.2h0M406.8 408.1h0M427.4 422.5h0M389.6 437.3h0M422.2 439.2h0M444.5 437.3h0M470.5 275.5h0M436.9 350.7h0M452.1 408.8h0M446.4 284.5h0M437.9 442.8h0M474.8 326.7h0M423.8 429.1h0M400.8 399.4h0M401.1 398.6h0M447.3 296.9h0M421.2 446.3h0M372.7 372.3h0M406.1 437.2h0M477.2 327.5h0M383.8 424.5h0M420.8 448.3h0M437.2 407.6h0M503 421h0M383 337.2h0M373.7 394.6h0M429.3 417.8h0M429 445.3h0M394.4 440.2h0M435.6 408.6h0M383.8 340.8h0M406.9 450.1h0M454.2 334.5h0M480.7 357h0M390.5 428.4h0M405.1 422.3h0M439.2 426h0M455.3 386.5h0M446.3 435h0M445.1 438h0M380.6 412.5h0M386.5 323.9h0M355.4 358.2h0M445.8 364.3h0M408 417.5h0M437.4 420.7h0M414.7 454.7h0M469 393.4h0M421.3 454.1h0M388.2 370.6h0M432 417.4h0M378.7 284.5h0M472.9 266.4h0M403.8 427.3h0M452.1 317.2h0M391.8 410h0M385.6 318h0M428.7 448.4h0M428.5 448.1h0M399 378.6h0M400.6 415.9h0M385.1 432h0M479.5 381.3h0M389.9 302.6h0M403.1 442.6h0M388.4 434.9h0M434.7 369.4h0M422.3 440.3h0M449 261.2h0M432.5 444.9h0M375.1 414.9h0M412 442.8h0M355.6 336.9h0M403.3 444.3h0M428.1 444.1h0M391.7 374.6h0M407.4 449.1h0M400.7 432.9h0M361.8 352.5h0M407.6 417.8h0M456.2 345.4h0M451.2 420.3h0M407.4 449.9h0M368.8 413.9h0M429.1 444.8h0M426.4 418.5h0M393.8 420.4h0M350.3 367.7h0M510.1 364.2h0M430.7 422.3h0M424.5 434.8h0M324.6 362.5h0M445.2 417.2h0M423.2 440.3h0M368 429.3h0M402 435h0M404.2 414.6h0M384.5 291.6h0M480.9 335.2h0M383.4 345.1h0M433.2 388.6h0M480.4 353.8h0M384.8 328.5h0M439.4 397.6h0M399.6 362.8h0M422.7 452.8h0M380.7 361h0M443 388.4h0M456.4 308.6h0M404.9 409.8h0M360.4 387.9h0M376.5 373.9h0M373.9 352.1h0M330.4 343.8h0M408.4 443.9h0M395.7 439.3h0M378 234.9h0M393.8 346.1h0M470.7 285.2h0M374.5 384.3h0M429.9 442.7h0M412.3 454.5h0M425.5 433.6h0M410 452.7h0M413.1 443.1h0M441.8 336.1h0M395.5 430.2h0M463.5 403.8h0M402.9 387.1h0M444.5 373.4h0M447.3 403.9h0M440.5 439.9h0M389.1 365.3h0M403.7 389.9h0M483.7 289.7h0M393.2 373.5h0M362.5 371.4h0M364.6 390.7h0M409.1 443.1h0M398.6 354.7h0M389.7 437.2h0M479 307.5h0M439.3 431.6h0M446.1 323.1h0M405.1 431.4h0M425.1 450.2h0M429.5 449h0M379.2 251.7h0M386.5 319.7h0M411.4 445.4h0M452.7 430.3h0M481 353.6h0M429.8 429.7h0M388.9 383h0M471.8 367.4h0M426.7 453.1h0M409 425h0M362.8 296.4h0M389 414.2h0M408.2 452h0M405.2 442.3h0M382.2 397.5h0M423.7 429.6h0M437.7 353.6h0M481.8 377.7h0M431.8 425.7h0M398.6 422.4h0M448.7 380.2h0M406.9 440.1h0M354.4 317.6h0M405.7 439.6h0M400.2 368.6h0M406.1 444.3h0M407.9 425.8h0M478.1 326h0M364.3 264.5h0M450.8 396.3h0M402 384h0M437.7 376.2h0M392.6 423.8h0M439.9 331.4h0M378.5 239h0M476.1 316h0M421.6 446.7h0M401 380.2h0M400.8 432.9h0M432.5 392.8h0M444.5 329.2h0M439.4 393.8h0M432.4 401.4h0M479.5 396.4h0M409.9 437.3h0M458.9 360.7h0M456.6 345.7h0M456.4 418h0M440.8 414h0M421.6 450.6h0M384.9 342.7h0M409.9 441.9h0M429.1 394.6h0M428 446.4h0M350.9 415.1h0M443.7 305.8h0M422.7 450h0M383.9 321.1h0M428.4 436.3h0M361.6 338.1h0M437.2 367h0M477.6 316.5h0M408 431.9h0M397.3 420.3h0M420.2 454h0M480.2 355.6h0M473.5 331.2h0M426.5 452h0M424.3 452.7h0M383.6 331.3h0M409.9 428h0M408.4 441.6h0M425.1 434.4h0M396.5 444.2h0M442 441.9h0M396.1 443.2h0M394.2 431.1h0M455.1 379.7h0M427 410.4h0M388.9 411.7h0M402.5 444.2h0M384.3 272.4h0M426.6 451.6h0M440.3 320h0M410.7 440.6h0M433.4 426.9h0M338.7 312.9h0M389.5 319.3h0M411.5 453.8h0M410.5 436.2h0M423.9 436h0M410.7 453.6h0M431.7 426.3h0M435.1 363.4h0M406.1 425.6h0M435 370.4h0M435.8 374.8h0M441.4 357.6h0M433.4 371.2h0M374.1 233.3h0M362.1 286.7h0M398 421.6h0M409.6 447.4h0M431.9 439.3h0M445.2 415.8h0M427.3 447.5h0M407.2 445.9h0M438.5 407.7h0M447 319.3h0M388.9 363.6h0M466.7 398.1h0M398.7 414.4h0M384.1 270.7h0M408 445.7h0M380.6 424.5h0M366.4 347.9h0M380.6 286.5h0M474 345.9h0M414.6 454.9h0M452.5 237.6h0M431.1 438.9h0M459.8 262.7h0M427.9 439.9h0M446 420.3h0M407.9 411.3h0M404.9 432.7h0M390.6 399.5h0M424.1 454.7h0M451.3 398h0M389.7 408.2h0M437.6 439.3h0M396 402.8h0M474 309.4h0M397.9 408.4h0M465.8 401.2h0M450.1 404.1h0M351.2 396.8h0M397.6 427.3h0M361.4 387.7h0M453.4 348.9h0M389.4 401.9h0M385.8 425.3h0M441.9 329h0M403.3 406.2h0M404.8 448.7h0M411.4 454.5h0M401.9 388.9h0M425.8 435.1h0M427.3 424.3h0M419.9 454.2h0M387.2 397.4h0M383.9 369.5h0M367.9 407.1h0M408.3 416.8h0M382.1 329.1h0M449.2 293.8h0M388.6 414.2h0M401.1 399.3h0M411.1 442.3h0M458.5 422h0M441.4 399.5h0M426.9 440.8h0M413.4 445.1h0M435.1 367.6h0M400.1 444.4h0M393.4 437.1h0M377.6 403.4h0M400.6 390h0M393.6 370h0M408.9 438.2h0M430 428.6h0M465.5 293.6h0M410 441.5h0M413.1 448.4h0M357.4 315.3h0M381.1 248.8h0M398.5 446.5h0M388.3 431.1h0M431.3 403.1h0M393.8 402.6h0M447.6 422.3h0M436.7 372.5h0M414 449.1h0M460.4 263.7h0M441.3 426.1h0M361.8 236.4h0M401.9 394.8h0M379.4 241.3h0M430.6 437.7h0M401.1 441.1h0M435.5 429.3h0M452 258.3h0M395.8 412.2h0M408.3 450.6h0M389.1 325.4h0M423.4 434.9h0M400.8 398.2h0M446 375.7h0M453.1 416.5h0M378.2 307.4h0M440 385.1h0M413.9 450.8h0M426.1 450.1h0M443.2 329.6h0M379.9 359.2h0M428.5 437h0M411.5 452.9h0M381.2 423.4h0M478.5 383.4h0M432.2 448.6h0M425.1 432.2h0M459.7 409.7h0M427.9 426h0M430.5 407.3h0M439.6 432.3h0M426.7 430.6h0M447.4 301h0M370.3 401.4h0M428.6 437.6h0M377.6 370.2h0M476.5 329.9h0M383.3 329.4h0M403.7 427.7h0M423.1 448.2h0M454.4 360.9h0M395.4 442.8h0M397.5 420h0M387 329.9h0M368.7 253.6h0M427 433.1h0M411.8 437h0M425.9 418.5h0M409.4 431.2h0M425.2 419h0M390 407.9h0M459.6 383.6h0M383.5 428.1h0M406.6 446.7h0M411.7 441.4h0M455.4 368.4h0M409.9 445.8h0M422.8 453.4h0M457.9 373.4h0M392.6 355.1h0M363.8 385.2h0M382.6 257.4h0M395 437.4h0M370.6 233.9h0M386 327.6h0M434.1 380.4h0M337.2 343h0M379.4 260.2h0M361.9 246.2h0M426.3 429.7h0M426.7 419h0M461 409.4h0M403.2 383h0M426.1 440.5h0M432.4 412.9h0M438.8 443.8h0M373 396.4h0M365.6 347.3h0M430.1 415.6h0M369.3 260.4h0M374.1 416.9h0M357.5 338.5h0M438.5 331.8h0M427.3 413.2h0M367.9 336.9h0M402.7 445.6h0M395.6 369.5h0M426 440.9h0M407.6 412.6h0M426.1 432.2h0M448.5 421.4h0M403.1 398.6h0M484.6 343.3h0M449.9 397.7h0M452.2 320.4h0M426.1 440h0M424.7 437.9h0M398.6 385.5h0M390.7 315.2h0M410.8 444.5h0M379.5 429.8h0M372.3 238.5h0M466.9 397.9h0M456.2 397.7h0M463.7 365.9h0M404.7 396h0M378.9 385.4h0M432.7 384.5h0M454.2 423.7h0M395.6 430.8h0M400.8 437.3h0M377.7 408.5h0M404.7 433.2h0M443.2 316.1h0M429.2 440h0M424 454.9h0M396.5 412.2h0M362.2 391.8h0M378.4 233.6h0M405.9 442.7h0M412 441.2h0M424.2 437.1h0M400.2 382.7h0M370.3 292.2h0M511.8 262.9h0M461.3 266.4h0M383.1 333.7h0M412.6 448.5h0M411 434h0M377.6 348.3h0M414.5 454.9h0M426.6 451.7h0M397.7 420.1h0M424.9 452.2h0M403.4 440h0M408 412.9h0M426.2 412h0M351.5 299h0M474.3 323.1h0M400.6 430.1h0M412.6 452.3h0M408.5 435.4h0M397.6 440.2h0M410.7 429.2h0M388.6 326h0M395.9 417.3h0M420.5 452.4h0M407.8 420.2h0M349.8 308.2h0M361.1 378.8h0M421.1 449.2h0M378.7 390.1h0M402.5 411.4h0M458 392.9h0M419.9 453.9h0M449.6 432.5h0M487.8 335.9h0M407 427.5h0M398.1 445h0M423.8 436h0M408.9 444.6h0M424.6 423.2h0M410.8 434.6h0M411 441.6h0M446 337.9h0M447.9 428.5h0M427 412.9h0M383.5 395.5h0M383.8 273.3h0M429.1 403.6h0M389.9 402.7h0M370.4 279.8h0M449.3 426.9h0M424.4 423.9h0M423.4 454.3h0M444.9 413.3h0M406.7 410.7h0M434.9 425.8h0M452.3 406.3h0M368.8 280h0M422.2 448.4h0M358.9 312.4h0M397.8 359.2h0M437.3 420.1h0M420.6 449.4h0M469.4 401.5h0M454.1 235.7h0M423.6 431.7h0M455.4 264.9h0M385.4 305.4h0M406.5 448.1h0M468.8 387.6h0M440.5 411.1h0M443.7 346.6h0M406.7 406.2h0M394.1 351.3h0M445.1 420.3h0M424.1 440h0M426.2 454.3h0M440.6 432.1h0M374.8 406.8h0M444.9 403.6h0M425.6 454.2h0M373.8 365.1h0M395.4 386.5h0M394.2 426.9h0M477.2 364.2h0M396.9 397.7h0M400.7 405h0M456 309.7h0M381.7 324h0M460.4 277.4h0M377.6 423h0M400.4 444.8h0M407 444.5h0M410.2 426.3h0M408.8 454.8h0M479.7 393.7h0M389.3 429.6h0M400.9 441.3h0M382.7 423.4h0M387.5 287.3h0M435 435.9h0M374.7 444.3h0M402.5 415.4h0M370.1 360.3h0M392 426h0M411 450.7h0M462.4 356h0M390.1 419.4h0M395.3 381.9h0M391.2 351.9h0M409.3 425.3h0M458.2 344.8h0M394.8 410h0M431.9 441.6h0M476.1 371.7h0M437.8 436.1h0M386.9 375.4h0M413.4 448.1h0M430.5 449.7h0M452.8 240.5h0M409.6 437.4h0M361.7 329.8h0M438.3 398.1h0M438.6 422.4h0M489.8 375.7h0M453.8 403h0M463.2 406.5h0M400.2 402h0M410.4 439.5h0M434.3 362.8h0M422 441.8h0M410.5 447.9h0M438.9 331.5h0M429 430.1h0M412.3 440.2h0M493.5 374.3h0M434.9 376.5h0M411.5 450h0M401.3 427.2h0M384.8 328.3h0M406.1 421.1h0M474.2 379.1h0M423.7 451.9h0M423.1 436.2h0M353.6 321.2h0M442.2 434.4h0M368.2 332.3h0M365.5 358.2h0M402.1 375.6h0M405.4 447.9h0M410.8 450.1h0M363.4 362.6h0M387.2 401.5h0M475 352.7h0M366 281.1h0M366.2 335.7h0M411 435.5h0M431.6 411.7h0M430.6 442.3h0M445.9 294.1h0M385.2 362.3h0M453 393.7h0M412.1 449.5h0M375.8 419.9h0M450.5 272.9h0M454.9 427h0M411.1 453.7h0M479 366.3h0M378.7 385h0M408.6 454.2h0M402.8 447.5h0M359.3 373.7h0M440.7 316.4h0M440.3 416.1h0M400.7 396.6h0M434.2 359.7h0M405.4 435.6h0M434 365.2h0M437.6 400.8h0M396.9 426.5h0M386.2 415.6h0M410.2 425.3h0M388.4 318.3h0M401.9 375h0M435.5 421.2h0M444.6 368.6h0M425.9 450.1h0M483.4 314.8h0M408.3 433.6h0M463.3 238.5h0M377.3 285.6h0M395.3 373.1h0M441.3 442.8h0M467 403.1h0M470.1 354.6h0M405.3 430.9h0M438.7 426.8h0M396.8 404.5h0M459.5 327.6h0M432.4 437.7h0M396.8 414.1h0M451.6 308.2h0M430.5 431.1h0M452.5 426.1h0M430.8 429.1h0M379.1 422.6h0M410.1 438.5h0M396 413.4h0M446.2 422.3h0M408.2 450.7h0M461.4 406.3h0M413.2 444.2h0M443.5 421h0M379.2 347.5h0M364 408.3h0M475.4 361.6h0M423.2 453.6h0M381.7 329.5h0M393.5 433.5h0M467.9 373.1h0M436 434.8h0M421.1 445.9h0M393.7 425.5h0M345.9 395.6h0M346.5 323.6h0M450 258h0M430.8 449.7h0M420.5 454.1h0M433.6 436.4h0M452 396.3h0M406.3 417.4h0M435.3 402h0M437.2 386.8h0M343.9 324.1h0M411.8 442h0M437.5 383.9h0M403.3 401.3h0M357.3 338.6h0M427.1 422.9h0M335 353.6h0M359.4 320.9h0M420.7 448.9h0M426.7 438.8h0M442.4 323.8h0M402.5 444.3h0M471.5 386.5h0M405.2 424.9h0M467.3 270.6h0M445.3 433.6h0M390.6 425.5h0M379.2 420.1h0M432.1 405.1h0M401.5 376.7h0M439.9 344.8h0M462.2 397.7h0M440.2 419.5h0M478.8 318.6h0M459.1 421.1h0M449.1 328.1h0M407.7 415.4h0M424 432.9h0M341.2 380.9h0M475.4 399.1h0M441.3 416.3h0M409.9 454.1h0M452.9 261.8h0M342.2 412.3h0M404.7 436.7h0M414.4 452.2h0M462.8 364.3h0M447 308.5h0M428.5 415.2h0M401.3 425.6h0M412.4 448.6h0M463 415.1h0M421.5 443.3h0M410.4 448.5h0M476.7 334.9h0M462.8 365.5h0M471.5 284.9h0M400.3 447.8h0M356.4 310.4h0M441.4 416.7h0M372.2 314.9h0M384.3 371.8h0M430.6 409.8h0M390.7 312.9h0M501.5 378.9h0M475.6 349.6h0M388.9 397.5h0M374.4 405h0M401 369h0M350.3 380.8h0M412.1 440.1h0M377.4 364.5h0M404 443.6h0M389.7 334.8h0M428.6 422.5h0M436.9 440.6h0M451.9 255.1h0M436.7 442.1h0M439.6 436.2h0M477 350.5h0M367.1 240.8h0M431.4 449.4h0M508.2 316h0M429.9 420.1h0M405.4 405.7h0M404.3 443.3h0M385.3 330.7h0M421.8 444.1h0M457.4 422.8h0M433.8 422.9h0M378.1 371.4h0M391.1 432.2h0M383.3 421.4h0M431.9 374.5h0M383.4 332.9h0M485.2 423.3h0M345.7 331.6h0M407.5 445.2h0M478.6 341.1h0M410.1 448.3h0M381.6 260.7h0M449.2 369.4h0M484.8 397.8h0M363.2 378.4h0M339.7 263h0M378.6 253.8h0M425.8 449.2h0M425.6 426.1h0M404.1 424.6h0M355.6 404.1h0M369.9 238.2h0M471.1 330.9h0M442.8 412.6h0M410.6 432h0M432.2 393h0M449.9 376.7h0M333.4 320.5h0M386.4 378.3h0M413.3 454.9h0M406.3 415.3h0M387.2 422.4h0M472.2 402.9h0M350.2 277.1h0M350.4 261h0M450.6 308.1h0M411.1 451.9h0M431.2 379h0M457.6 403.5h0M434.5 419.8h0M482.7 321.9h0M451.3 421.7h0M446.2 287.5h0M458 284.5h0M489 383.9h0M456.5 406h0M423.7 441.7h0M358.8 313.7h0M470.3 246.6h0M457.4 384.8h0M421.8 443.3h0M428.2 423h0M447.3 314.6h0M424.9 436.5h0M475.3 397.8h0M422.8 450.6h0M382.5 359.2h0M366.8 317.1h0M434.9 360.4h0M462.4 329.9h0M400.4 380.2h0M436.1 443.3h0M382.1 410.9h0M430.8 411.4h0M428.8 440.5h0M359.3 373.6h0M427.5 432.4h0M385 322.8h0M393.2 369.9h0M406.7 403.8h0M375.1 396.3h0M407 417h0M406.1 440.2h0M425.5 424.1h0M398.6 385.3h0M365.6 354h0M411.7 436.9h0M381.7 283.4h0M397.4 386.3h0M478.7 351.3h0M423.5 454.7h0M414.1 449.5h0M466.2 390.2h0M381.3 424.9h0M400.7 367.7h0M404.4 438.7h0M426.8 452.4h0M412.6 448.8h0M406.6 403.7h0M462.5 294h0M396.3 374.4h0M389 435h0M412.1 441.5h0M425.1 445h0M422.9 442.7h0M397.3 360.7h0M430.7 419.6h0M396.3 436.8h0M440.5 322.1h0M433.2 419.3h0M445.1 346.6h0M445.7 327.5h0M380.4 283.3h0M403.1 386.9h0M459.8 416.4h0M427 413.1h0M473 248.2h0M398.3 367.7h0M420.9 453.3h0M379.9 261h0M430.6 427.5h0M429.2 419h0M454 280.5h0M406.8 405.1h0M469.9 313.6h0M378.2 340.6h0M410.5 449.3h0M430.5 392.4h0M412.3 446.6h0M384.7 349.3h0M441.8 417h0M424.7 430.2h0M459.9 434h0M424 435.6h0M395.4 424.5h0M473.3 334.6h0M447.5 430.5h0M406.8 416.4h0M456.3 394.7h0M450.1 417.7h0M477.2 355h0M396.9 436h0M401.3 445.6h0M379.1 392.3h0M292.1 423.8h0M411.8 440.2h0M466.2 362h0M376.5 429.2h0M461.3 389.2h0M462.7 383h0M390.1 314.4h0M464.5 236.1h0M423.9 444.1h0M421.6 443.7h0M427.2 417.7h0M454.5 325.3h0M457.4 349.9h0M384.9 404.2h0M442.2 439.8h0M404.9 417.4h0M361.9 367.3h0M398.1 356.1h0M428.2 445.9h0M431 434.5h0M396.1 428.8h0M398 441.6h0M470.2 367.2h0M433.6 372.3h0M366.5 316.8h0M462.5 273.7h0M379 422.5h0M389.8 312.8h0M450.8 265.9h0M434 409.8h0M482.7 307.6h0M400.7 410.5h0M455.2 232.5h0M463 408.6h0M404.8 400.5h0M395.4 371.4h0M451.7 243.2h0M431 446.1h0M402.9 439.6h0M398.5 436.6h0M454.6 320.4h0M426.2 424.2h0M337.1 317.7h0M435.6 443.2h0M403.1 412.5h0M377.2 348.6h0M456.5 394.8h0M421.1 450.1h0M466 337.7h0M433.2 366.3h0M412.4 446.7h0M380.8 260.4h0M395.3 429.7h0M362.3 296.1h0M366.4 393h0M358.9 330.6h0M448.8 431h0M380.2 387.2h0M440.1 375.1h0M421.9 440.7h0M400.8 388.8h0M421.9 447.3h0M421.5 454.6h0M398 362.1h0M408.1 417.7h0M398.1 384.7h0M368.4 256.1h0M451 293.9h0M449.6 419.1h0M490.5 366.6h0M390.8 437.7h0M432 409.4h0M403.2 402.8h0M476.9 375.5h0M383 419.7h0M457.2 425.3h0M394.8 429.8h0M387.3 315.8h0M424.7 454h0M395.5 441h0M461.6 364.2h0M465.9 333.3h0M490.6 346.1h0M392.1 420.3h0M454.3 384.7h0M410.2 445.5h0M411.1 453.4h0M437.5 428.2h0M409.7 432.5h0M394.4 441h0M478.7 372.8h0M361.7 352.1h0M472.7 367h0M429.6 450.5h0M412.7 448h0M413.8 447.3h0M404.2 399.3h0M424.1 431.1h0M404.2 407.2h0M411 445.7h0M398.4 427.2h0M355.7 345.1h0M493.5 315.2h0M443.2 404.6h0M422.6 441.1h0M357.5 389.6h0M435.8 406.5h0M427.8 439.6h0M464.3 343.9h0M450.4 297.1h0M426.6 426.4h0M395.1 441.5h0M371 389h0M443.1 409h0M368 360.4h0M399.4 375.6h0M388.7 356.7h0M377.1 375.7h0M394.3 411.7h0M455 403.3h0M440.3 416.9h0M423.9 435.5h0M454.2 408.5h0M396.1 366.4h0M412 439.9h0M454.4 320.4h0M463.7 380.5h0M385 289.2h0M451.4 408.2h0M391.1 362.9h0M404.3 399.6h0M449.3 259.4h0M443.4 364.7h0M407.8 452.6h0M388 310.9h0M454.5 250h0M435 436.8h0M422.2 451.1h0M434.9 401.8h0M379.6 352.5h0M463.7 242.8h0M421.4 445.1h0M470.7 409.3h0M351.8 397.2h0M442.9 435h0M437 423.2h0M477.6 353.6h0M362.9 330.8h0M463.1 276h0M385.8 415.2h0M397.1 445.8h0M428.9 440h0M430.9 400.9h0M333.8 304.4h0M467.8 310.1h0M393.1 419.3h0M425.5 452.4h0M430.6 439h0M423.9 454.6h0M409.9 438.5h0M422.9 454.8h0M426.7 422.2h0M424.7 425.7h0M369.9 335.5h0M504.7 360.4h0M410.5 440.6h0M382.5 258h0M432.3 429.1h0M379.6 423.6h0M408 413.2h0M409.2 434.9h0M380.5 382h0M355.4 334.4h0M422.6 436.7h0M393.2 423.1h0M412.9 454.3h0M462.8 399.4h0M401.5 394.5h0M396.2 440.4h0M424.5 451.9h0M466.7 316.4h0M400 362.9h0M368.7 379.4h0M443.4 375.3h0M430.3 404.1h0M404.6 423.7h0M408.7 416.4h0M410.4 452.5h0M408.6 451.6h0M438.2 339.5h0M428.7 432.6h0M406 400.1h0M422 446.1h0M453.9 312.5h0M360.7 372.3h0M383.9 276.2h0M451.2 431.4h0M435.5 439.4h0M460.3 416.5h0M371.2 342.1h0M407.6 447.5h0M350.7 399.5h0M431.3 405.4h0M444.7 317.3h0M396.4 357h0M368 414.6h0M433.5 425.8h0M376.2 252.8h0M395.7 427.6h0M430.5 425.9h0M463.9 338h0M370.1 376.1h0M405.8 451.1h0M410.7 453h0M466.9 374.5h0M403.8 443.6h0M345.1 249.6h0M393.5 436.6h0M440.5 439.3h0M480.8 429.6h0M379.5 372h0M455.6 323.6h0M412.5 442.2h0M369.4 394.4h0M371.3 371.6h0M422.1 439.2h0M469.3 384.6h0M354.6 414h0M433.5 406.2h0M426 434.4h0M408.7 437.5h0M431.3 445.2h0M352.7 377.8h0M413.6 451.6h0M431.6 437.1h0M472.1 324.7h0M424.2 428.7h0M475.7 370.9h0M431.6 405.1h0M342.7 302.4h0M436.2 364.5h0M438.4 405.8h0M453.4 425.9h0M482.4 358.1h0M375.1 349.7h0M412.2 440.5h0M398.3 395h0M358.3 407h0M357.3 321.9h0M406.3 450.3h0M361.6 412.4h0M470.2 360.5h0M402.4 449.2h0M420.1 452.8h0M437.2 424.2h0M423.3 451h0M397.8 429h0M362.3 331.5h0M398.6 359.9h0M424 442.1h0M369.9 411.6h0M432.2 411.2h0M451.6 249.4h0M424.4 447.6h0M440.2 426.5h0M425.6 448.6h0M399.4 386.4h0M429.2 414.1h0M428.3 416.1h0M412.2 440.2h0M430.4 427.7h0M406.1 400.9h0M458.4 262.7h0M446 411.1h0M363.3 404.3h0M444.6 373.5h0M425.9 430.3h0M400.8 446h0M441.2 439.8h0M431.7 439.9h0M406.3 416.8h0M407.9 413.3h0M431.8 420.1h0M442.8 439.5h0M372.9 307.4h0M446.9 431.5h0M430.7 382.5h0M397.3 433.3h0M380.9 385.3h0M429.7 403.8h0M364 393h0M423.2 434h0M413.8 447.3h0M445.9 372.5h0M430.4 437.3h0M402.7 422.4h0M460.7 381.9h0M399.1 424.6h0M455 260.1h0M431.7 439.9h0M441.3 436.1h0M360.8 361.2h0M412.9 452h0M398.9 439h0M410.8 443.9h0M410.3 427.4h0M383.2 337.4h0M370.9 412.3h0M412.1 444.5h0M392 416.9h0M406.9 437.4h0M413.1 445.5h0M400.8 404.2h0M390.2 403.3h0M371.1 326h0M365.6 413.4h0M451.5 263.9h0M444.4 419.1h0M400.5 446.7h0M383.4 281.9h0M405.6 446.6h0M421.4 451.1h0M438.4 394.5h0M441.2 316h0M364.7 395.8h0M461 267.7h0M504.6 346h0M426 429.5h0M469.7 290.1h0M377.6 312.8h0M448.6 357.7h0M396.8 375.6h0M374.7 411.3h0M433.5 368.7h0M431.5 378.4h0M372.2 399.4h0M386.2 363h0M423.8 451.1h0M381 292.2h0M392.5 419.8h0M476.8 295h0M407.1 447.5h0M431.5 387.5h0M438.1 360.8h0M431.9 442h0M494.9 417.9h0M406.3 447.4h0M352.3 333.3h0M356.8 301.2h0M436.6 352.8h0M383.1 416.9h0M443.2 402.3h0M441.3 366.8h0M402.6 444.1h0M406.3 425.6h0M387.9 392.2h0M374.6 235.9h0M445.4 398.1h0M421 448.4h0M379.1 417.4h0M449.3 328.5h0M448.4 381.7h0M428.3 409.7h0M469.4 241.7h0M391.7 441.1h0M420 453.4h0M426.2 433.4h0M424.4 426h0M437.6 388.7h0M394.5 443.4h0M389.8 304.9h0M404.2 391.1h0M374.9 272.7h0M403.5 410.2h0M409.9 452.7h0M423.9 451.6h0M395.5 439.4h0M450.7 414.2h0M428.5 423.9h0M421.4 446.9h0M386.6 341.1h0M436.8 434.6h0M431.4 445.7h0M429.2 415.4h0M368.2 361.6h0M422.5 451.4h0M431.9 446.2h0M457.2 417h0M385.8 317.6h0M435 432.1h0M402.9 439.4h0M420.2 453.4h0M387.8 387.4h0M381.4 344.9h0M382.6 419.1h0M455.3 413.5h0M392.5 413.9h0M453.5 404.1h0M412.6 449.7h0M470.8 296.9h0M450.4 251.9h0M437.4 388.3h0M409.7 454h0M353.8 360.2h0M404.5 412.2h0M390.8 308.9h0M360.2 385.7h0M414 448.3h0M356.5 374.3h0M389.1 335.8h0M395.6 407.1h0M426 451.2h0M437.8 406.9h0M407.1 408.2h0M428.5 428.9h0M422.2 440.7h0M460.1 418.3h0M389.3 437.4h0M400.7 426.5h0M426.1 453.6h0M475.1 341.8h0M427.9 442.9h0M362.1 371.5h0M421.1 454.4h0M446.6 321.7h0M470 240h0M433 422.5h0M467.7 401.4h0M431.6 446.7h0M471.1 359.1h0M414.9 454.8h0M444.7 302.6h0M394.5 367.3h0M445.8 419.6h0M396.6 438.7h0M429.5 411.7h0M386.2 377.4h0M414.2 449.6h0M427.8 442.7h0M476 288.5h0M406.9 449.6h0M360.6 328.2h0M467 418.7h0M437.1 443.2h0M452.8 404.3h0M463.8 234.1h0M391.1 352.5h0M438 428h0M435.8 356.1h0M403.6 397.5h0M403.1 388.1h0M399.6 420.8h0M472 419.4h0M440.8 395h0M369.4 361.9h0M449 435.2h0M382.7 401.1h0M436.8 441.5h0M499.1 370.4h0M441.7 314.9h0M428.3 412.3h0M398.1 363.9h0M421.9 451.7h0M361.7 356.2h0M430.9 431.6h0M391.1 356.4h0M424.4 452h0M440.3 438.9h0M405.5 438.5h0M379.4 401.1h0M424.8 449.8h0M430 444.3h0M427 437.8h0M435 361.1h0M434.5 393.7h0M451.1 249.8h0M373 407.6h0M408.7 452.1h0M436.2 417.4h0M413.4 445.2h0M411.3 451.6h0M309.4 364h0M375.6 380.3h0M378.8 252.2h0M394.5 393.4h0M432 448.4h0M371.5 411h0M398.4 415.1h0M430.4 387.7h0M397.1 437h0M398.2 417.7h0M376.9 418.4h0M473.6 357.4h0M423.7 450h0M394.4 378.1h0M430.2 413.3h0M408.2 423.8h0M404 387.8h0M426.6 434.9h0M401.6 437.5h0M433.9 381.2h0M402.6 446.7h0M435.9 444h0M388.7 433.2h0M469.3 403.1h0M364 269.4h0M391.2 309.8h0M404.6 426.4h0M397.1 439.9h0M391.1 358h0M403.7 397.3h0M379.7 382.1h0M346.9 276.2h0M480.9 281.2h0M441.8 418.9h0M380.8 405.9h0M374.1 253.7h0M452 268.8h0M453.9 411.6h0M388.1 402.5h0M404.5 422.2h0M449.5 408h0M474.5 239.1h0M392.6 322.6h0M455.8 406.7h0M350.1 408.1h0M469.9 382.9h0M408.7 417.4h0M361.2 340.8h0M381.6 427.9h0M433.7 403.8h0M455.1 351.4h0M411.9 435.7h0M468.8 273.2h0M319.8 393.2h0M391.3 353h0M459.6 376.4h0M435.1 410.1h0M422.5 438.6h0M539.1 261.4h0M431.4 448.5h0M463.4 330h0M464.1 394.8h0M385.1 403.2h0M476.6 302.5h0M395.6 428.6h0M385.7 321.2h0M454 393.6h0M412.6 447.8h0M413.1 450.4h0M434.1 441.3h0M394 431.4h0M385.5 418h0M455 416.8h0M426.2 413h0M426.1 424.5h0M454 376.5h0M455.3 308.8h0M438.8 369.1h0M448.1 409.7h0M400.1 388.9h0M455.1 411.8h0M447.3 352.6h0M380.6 287.4h0M366.6 263.7h0M485.8 344.5h0M486.8 363.8h0M379.3 301.5h0M370.3 400.6h0M406.3 404.4h0M393.8 426.2h0M395.3 445.1h0M452.4 363.1h0M456.1 413.3h0M400.5 417.4h0M435.6 392.6h0M425.5 439.3h0M421.6 449.9h0M439.6 427.5h0M433.4 413.8h0M442.8 431.5h0M341 305.9h0M391.7 394.2h0M394 411.4h0M445.4 436h0M467.1 402h0M413 444.2h0M407.4 433.8h0M440.7 384.3h0M429 438.6h0M459.9 333.7h0M381.4 418h0M520.7 313.7h0M429.7 446.5h0M410.2 449h0M460.9 409.5h0M401.9 421.9h0M382.8 288.1h0M441.9 319h0M426.8 410.2h0M405.8 398.7h0M463.2 413.8h0M407.7 411h0M423.5 449.1h0M390.5 427.4h0M425.5 428h0M398 418h0M451.6 400.9h0M389.4 431.1h0M431.9 438.2h0M336.1 415.7h0M436.2 440.1h0M406.4 417.9h0M372.7 448.3h0M406.4 417.1h0M470.1 377.7h0M469.4 389.9h0M472.1 360.8h0M474 303h0M389.1 308.8h0M430.1 431.4h0M399.7 441.1h0M347 369.2h0M411.6 439.2h0M409.5 428.6h0M392.7 436.1h0M388 436.6h0M460.7 398.3h0M400.6 432.1h0M441.7 419.9h0M414 450.5h0M363.7 258.1h0M412.7 454.6h0M414.9 454.9h0M443.6 296.5h0M412.8 444.9h0M414.3 453h0M423.1 448.5h0M390.9 361.9h0M413.9 448h0M405.7 400.7h0M427.3 440.7h0M448.2 408.6h0M408.7 425.4h0M344.5 386.8h0M421 446.7h0M425.4 426.7h0M410.7 453.6h0M474.6 375.9h0M447.7 383.8h0M452.5 425.2h0M465.8 339.3h0M460.9 310.9h0M412.3 437.9h0M406.1 424.1h0M381.1 418.7h0M405.1 446.7h0M434.6 411.7h0M407.9 418.4h0M442.4 398.4h0M330.2 323h0M433.4 400.2h0M345.2 411.4h0M464.1 332.9h0M433.2 429.5h0M428.9 432.7h0M362.2 344.6h0M410.3 439.1h0M361.1 253.2h0M426 447.8h0M412.8 441.3h0M468.3 425.3h0M388.9 344.3h0M414.7 454.5h0M384.9 277h0M386.6 357.6h0M357.3 333.6h0M425.6 419.9h0M392.1 363.1h0M435 356.7h0M392.7 430.7h0M421.4 451.4h0M372.9 284.2h0M423 440.7h0M395.7 368.6h0M408.2 426.8h0M382 255.8h0M397.7 435h0M478 369h0M434.1 375.3h0M441.9 412.2h0M442.4 414.5h0M384 432.9h0M454 271.5h0M412.9 450.9h0M404 440.5h0M366.9 405.6h0M408 451.2h0M354.2 253.5h0M438.8 382.3h0M398.6 403.2h0M445.1 399.4h0M423.6 453.8h0M358.6 321.5h0M478.7 360.4h0M401.8 401.5h0M450.2 273.8h0M407.2 448.9h0M408.9 440.2h0M476.2 304.9h0M390.7 324.2h0M427 451.8h0M435.3 432h0M402.2 446.2h0M412.9 441.9h0M456 410.9h0M447.8 363.1h0M390.1 433.3h0M380.2 379.2h0M374.5 297h0M403.8 439h0M373.4 271.7h0M410.2 450.7h0M427.6 449.8h0M356.2 343.4h0M407.4 432.1h0M433.8 428.3h0M404.9 410.2h0M410.2 426.8h0M404.5 443.4h0M392.1 436.7h0M328.2 354.2h0M409.1 437.8h0M463.1 318.3h0M366.6 397.6h0M467 402.5h0M400.3 409.6h0M413.1 443.6h0M450.9 427h0M368.1 350.5h0M454.6 331h0M377.3 368.7h0M433.3 429.4h0M457.8 414.2h0M359.9 334h0M328.4 335.1h0M420.8 449.9h0M403.9 447.8h0M451.7 430.4h0M395.7 412.2h0M441.7 398.6h0M438.9 411.2h0M438.8 426.2h0M405.3 442.9h0M428.1 439.1h0M472.3 402.1h0M420.4 451h0M385.7 417.1h0M444.8 387.5h0M456.3 311h0M399.5 420.8h0M421.8 453.1h0M363.3 308.5h0M409.8 430.6h0M439.5 419.7h0M474.6 393.9h0M405.8 441.7h0M366.9 336.8h0M443 425.3h0M487.1 390.1h0M379.3 318.4h0M460.9 316.4h0M347.1 342h0M429.1 432.3h0M427.3 435.1h0M372.8 396.2h0M401.1 402.4h0M381.2 414h0M472.7 299.7h0M429.8 399.2h0M414 450.1h0M404.9 399.4h0M382.5 343.5h0M390.6 409.9h0M460.8 396.4h0M370.1 369.1h0M403.7 404h0M461.5 320.2h0M413.4 452.4h0M347.9 344.1h0M429.3 438.5h0M409.9 443.3h0M406.8 423h0M412.5 451.5h0M378.9 331.2h0M376.4 364.7h0M408.3 449.3h0M469.9 233.8h0M453.9 399.2h0M438.1 408.5h0M459.3 413.2h0M436.8 364.3h0M410.3 452.2h0M402 435.9h0M443 326.7h0M487 359.8h0M392.6 401.3h0M447.8 414.4h0M393.2 435.6h0M389.6 349.4h0M427.3 409.3h0M428.1 426.2h0M446.3 438.3h0M410.4 446.9h0M358.3 271.3h0M393.9 428.8h0M409.6 429.6h0M339.7 323.6h0M443.6 416.1h0M451.7 398.7h0M371.6 371h0M426.7 434.3h0M393.8 368.2h0M421.4 452.3h0M392.8 438.9h0M429.9 387.4h0M473.5 378.3h0M437.5 389.6h0M427.2 438.4h0M392.3 329.6h0M427.4 440.3h0M405.3 450.1h0M423 437.2h0M414.3 451.9h0M429 451.3h0M378.6 392.3h0M413.4 444.9h0M363.6 259.6h0M411.1 431h0M442.6 430.7h0M398.5 400.7h0M441.8 415.1h0M381.5 279.4h0M428.5 433.1h0M446.3 379.2h0M403.8 444.9h0M437.9 428.8h0M426.7 439.3h0M458.7 408.6h0M405.4 396h0M409.5 432.8h0M420.5 451.1h0M427.3 448.7h0M396.9 347.1h0M435.2 416.4h0M384.1 424.5h0M414.8 453.5h0M431.5 405.4h0M379.1 301.4h0M387.9 381.1h0M446.7 436.9h0M425.8 454h0M397.3 380.6h0M465.8 394.6h0M435.3 408.2h0M369.2 354.7h0M461.9 426.2h0M388.4 419.2h0M423 439.3h0M464.1 291.6h0M381 268.3h0M428.4 446.9h0M435.8 408.2h0M437.2 350.5h0M434.4 360.9h0M390.5 392.6h0M438.2 386.2h0M384.2 289.3h0M431.1 380.3h0M428 451.9h0M445 421h0M391.3 317.5h0M333.9 365.6h0M403.9 396.4h0M450.7 428.5h0M411.7 449.4h0M434.9 411.3h0M436 435.6h0M459.1 393.8h0M394.1 424.9h0M411.1 439.3h0M422.3 453.6h0M455.2 224.9h0M457.2 414.9h0M448 437h0M467.8 406.7h0M410.7 450.9h0M395.9 405.1h0M379.8 391.7h0M420 454.8h0M413.6 449.4h0M366.8 255.7h0M401.1 390.9h0M425.6 419.8h0M449.6 423.2h0M430.7 387.4h0M401.9 441.5h0M382.2 277.8h0M411.9 447.1h0M454.3 401.4h0M433.4 403.7h0M385.3 315.7h0M371.9 411.5h0M441.8 364h0M452 422.8h0M407.9 426.1h0M407.5 429.8h0M372.3 387.9h0M464.2 339.3h0M450.5 364.5h0M382.3 363.4h0M435.4 352.3h0M421.3 451.1h0M394.1 358.1h0M435.3 424.1h0M435.9 421.1h0M403.3 406.9h0M368.6 399.9h0M390.6 439.7h0M410.4 434.3h0M400.3 401.8h0M463.9 330h0M485.9 349.7h0M412.1 437.8h0M361.9 287.9h0M358.2 358.2h0M413.4 452.1h0M408 435.3h0M379.5 419.9h0M451.1 398h0M428.4 432h0M386.2 412.8h0M410.5 437.3h0M455.8 357.9h0M427.8 441.4h0M475.5 404.4h0M380.7 374h0M432.8 436.7h0M476.9 369.7h0M442.3 437.7h0M421.3 445.2h0M433.6 408.4h0M435.7 422.9h0M422.9 437.9h0M472.8 349.3h0M446.5 432.2h0M351.6 417.1h0M438.4 397h0M519.7 338.9h0M406.9 434h0M413.4 447.8h0M413.5 450.5h0M425.6 452h0M387.6 429h0M453.4 399.2h0M370.7 313.3h0M370 385.1h0M435.3 351.6h0M473.9 350.7h0M387.5 435.5h0M425.2 442.7h0M358.6 286.6h0M427.5 452.2h0M405.5 426.5h0M425.4 430h0M429.1 393h0M431.9 414.9h0M431.1 416.3h0M388.2 348.9h0M450.4 377.4h0M439.4 390.5h0M368.4 246.2h0M403.9 441.3h0M385.1 332.2h0M409.2 438.6h0M385.8 399h0M399.8 412.4h0M423.6 443.9h0M423.7 433.9h0M341 403.9h0M472.7 346.2h0M427.7 402.1h0M403 383h0M353.9 344.3h0M362.4 355.7h0M425.4 446.9h0M401.8 391.3h0M406.4 413.8h0M423.7 430.2h0M369.6 309.2h0M472.9 371.3h0M431 435.2h0M426.3 447.9h0M360 339.5h0M394.8 394.1h0M407.3 450.2h0M383 422h0M359.2 390.3h0M424.4 437.6h0M403.8 418h0M377.6 395.7h0M397.2 347.4h0M382.3 364.9h0M428.8 396h0M406.1 401.3h0M359.4 313.1h0M336.8 320.3h0M400 432.1h0M471.2 338.9h0M369.5 316.8h0M471.7 267.9h0M477.2 357.4h0M466.8 353.7h0M368.2 332.2h0M434.1 432.2h0M396.4 439.4h0M446.6 280.7h0M431.6 422.7h0M422.2 439.5h0M434.2 390.9h0M366.9 371.6h0M388.7 409h0M354.2 358.1h0M407.1 449.1h0M410.4 427.9h0M442.8 357.4h0M425.3 450.7h0M408.2 443.1h0M424.3 425h0M384.8 336.4h0M437.7 436.5h0M409.2 438.6h0M427.3 430.4h0M469.5 319.1h0M342.8 318.5h0M423.4 430.7h0M468 289.4h0M409 428.7h0M460.7 391.8h0M384.9 417.8h0M406.7 408.1h0M411.8 453.7h0M398.6 432.3h0M412.7 441.9h0M370 288.7h0M408.8 424.7h0M413.4 445.9h0M448.2 405.9h0M460.4 417.3h0M487.3 341.8h0M476.8 366.7h0M441 431h0M341.1 336.5h0M376.4 419h0M466.5 357.9h0M438.3 371.5h0M445.6 432.4h0M379.5 365.9h0M413.6 452.7h0M404.8 442.4h0M460.3 416h0M397 372h0M433.6 371h0M477.3 293.8h0M411.7 437.5h0M451.7 384.5h0M375.1 308h0M440.9 439.8h0M397.5 443.1h0M414.8 453.8h0M496.6 327.4h0M402.8 436.6h0M411.6 434h0M466.8 387.9h0M429.5 398h0M434.9 410h0M479.6 369.7h0M408.8 451.9h0M430.8 420.5h0M369.1 387.3h0M473.9 356.8h0M436.8 367.4h0M434.2 403h0M375.8 341.8h0M349.4 386.1h0M453.9 410.1h0M471 376.9h0M405 448.1h0M423.8 442.8h0M475.2 401.5h0M436.5 444.4h0M429.4 434.2h0M431.1 396.9h0M409.3 449.2h0M430.9 416.7h0M370.7 341.2h0M407.5 419.7h0M480.2 290h0M437.7 412h0M429.9 436.6h0M438.1 429.2h0M397.5 442.2h0M411.9 452.8h0M357.6 304.7h0M402.1 436.7h0M410.4 443.3h0M381.6 421.1h0M412.1 454.2h0M450.4 253.5h0M478.2 360.4h0M466.7 321.1h0M458.9 384.1h0M465.1 410.8h0M405.7 401.4h0M427 451.4h0M436.3 425.8h0M436.2 384.6h0M436.7 403.5h0M414 452.7h0M360.6 338.8h0M430.3 439.8h0M409.7 427.8h0M365.7 402.5h0M439.6 362.4h0M407.1 433.7h0M447 417.4h0M393.6 433.6h0M427 450.8h0M396.5 368.2h0M380.1 372.1h0M407.4 437.8h0M457.6 371.1h0M405 397.4h0M420 453.4h0M442.6 424.7h0M427.9 432.4h0M359.9 309.1h0M370.7 289.7h0M374 369.7h0M436.7 442.2h0M388.4 437.4h0M373.2 297.5h0M406.3 431.4h0M398.3 434.1h0M423.8 437.3h0M409.1 451.6h0M442.5 323.4h0M405.3 450.2h0M440.3 414h0M387 303.8h0M394.1 387.1h0M397.2 413.8h0M370.5 409.3h0M371 419.9h0M402.1 392.3h0M362.9 386h0M429.9 449.8h0M421.9 444.3h0M460.5 337.7h0M414.3 454.6h0M360.1 427.6h0M441 323.9h0M432.8 376.3h0M391.6 431.6h0M409.7 422h0M388.1 293.9h0M413.6 454h0M440 438.9h0M420.5 451h0M371.6 253.3h0M442 428.4h0M475.6 304.5h0M402.3 444.2h0M357.5 292.2h0M407.1 440.6h0M403.4 436.6h0M423.1 438.1h0M387.7 375.8h0M420.5 451.8h0M448.4 391.6h0M442 359.7h0M408.5 441.7h0M450.6 259.2h0M435.9 445h0M409.9 441.7h0M358.5 266.9h0M378.8 375.8h0M392.8 362.4h0M404.9 434.9h0M398 433.7h0M426.3 444h0M363.7 392.7h0M423.9 431.4h0M398.6 408.1h0M424.2 431h0M446 434.4h0M408.1 451.5h0M414.2 454.3h0M400.6 399.2h0M438.3 404.6h0M395.5 337.1h0M362.1 373.6h0M410.1 434.1h0M454.5 224.6h0M355.1 383.6h0M430.9 393.7h0M454.3 419.7h0M381.5 336.3h0M385.8 435h0M450.8 342.5h0M392.6 326h0M379.3 423.5h0M474 390.2h0M432.2 405h0M464.1 240.1h0M426.2 448.3h0M401.7 393.1h0M444.7 422.6h0M420.8 452.9h0M449.3 365h0M405.5 436.6h0M429.9 397.3h0M435.4 369.2h0M449.8 433.2h0M446.8 318.1h0M384.2 422.5h0M448.6 298.7h0M473.7 384.6h0M429.5 393.5h0M358.3 284.3h0M424.6 446.7h0M336.2 402.8h0M540.6 324.1h0M271.1 291.7h0M551 295.1h0M349.2 418.6h0M549 265.5h0M584.6 357h0M501.2 393.1h0M561.1 291.1h0M525.1 337.2h0M327.5 334.3h0M464 445.8h0M515.9 258h0M308.7 352.8h0M314.2 290.5h0M315.6 320.8h0M500.3 365h0M285.5 324.7h0M250.7 298.4h0M534.8 241.5h0M511.5 337.1h0M334.3 296.7h0M516.2 375.4h0M332.1 284.5h0M576.9 307.6h0M343.3 392.2h0M270.2 372.4h0M317.2 377.2h0M549.7 374.4h0M299 315.1h0M553.4 379.6h0M557.5 329h0M496.5 392.7h0M327.5 443.5h0M312.1 236.1h0M500.4 324.1h0M535.5 314.4h0M527.8 392.5h0M254.5 330.7h0M310.8 341.2h0M526 270.4h0M505.2 409.3h0M528.9 411.4h0M508.4 341.1h0M308 308.1h0" stroke="#c8c8c8" stroke-width="5.6" stroke-linecap="round" fill="none"/>
<line x1="380" y1="23.7" x2="380" y2="472.3" stroke="#222" stroke-width="1.6" stroke-dasharray="3.4 2.8"/>
<line x1="454" y1="23.7" x2="454" y2="472.3" stroke="#222" stroke-width="1.6" stroke-dasharray="3.4 2.8"/>
<line x1="139.6" y1="232" x2="638.4" y2="232" stroke="#222" stroke-width="1.6" stroke-dasharray="3.4 2.8"/>
<path d="M339.5 40.8h0M338.1 82.5h0M325.4 114.4h0M359.2 129.2h0M354.8 137.9h0M354.6 158.2h0M341.2 177.6h0M360.3 178.7h0M361.5 177.6h0M370 177.6h0M371 176.6h0M357.1 184.4h0M364.5 182.3h0M326.4 185h0M343.4 193.5h0M361.3 191.4h0M365.6 192h0M342.3 202h0M362.4 199.8h0M373 202h0M371.9 205.1h0M313.7 216.8h0M328.5 213.6h0M358.2 215.7h0M356.7 222h0M373 220h0M376 222h0M378 219h0M378 224h0M158.2 214h0M274.9 152.9h0M289.7 227.3h0M346.5 186h0" stroke="#2347a8" stroke-width="5.4" stroke-linecap="round" fill="none"/>
<path d="M479.1 113.8h0M503 121.2h0M480.8 133.2h0M482.9 130.7h0M473 140.6h0M474.5 145.5h0M534.7 152.9h0M555.9 154.4h0M560.1 163.9h0M574.3 156.5h0M589.7 151.6h0M617.2 162.2h0M621 166.4h0M471.7 166h0M463.9 178.1h0M480.2 175.5h0M486.5 180.2h0M467.1 189.7h0M474.5 187.2h0M565.8 184h0M554.8 194.6h0M566.5 193.9h0M507.2 208.9h0M516.8 207.9h0M529.9 208.7h0M495.6 214h0M573.4 207.7h0M585.5 213.6h0M548.1 216.1h0M511.5 218.9h0M485 221h0M496.7 221.4h0M491.4 226.3h0M492.4 225.2h0M567.9 219.3h0M579.2 219.9h0M556.9 222.5h0M561.6 226.7h0M477.2 228h0M519.9 229.9h0M455.4 221.6h0M461.8 223.1h0M462.8 227.3h0M467.1 227.3h0M456.5 229.5h0M460.7 228.4h0M469.2 229.5h0M465 225.2h0" stroke="#dd2222" stroke-width="5.4" stroke-linecap="round" fill="none"/>
<circle cx="338.1" cy="99.4" r="4.2" fill="#d5137a"/>
<circle cx="349.1" cy="162.4" r="4.2" fill="#d5137a"/>
<circle cx="348.6" cy="189.3" r="4.2" fill="#d5137a"/>
<circle cx="373.4" cy="214.2" r="4.2" fill="#d5137a"/>
<circle cx="358.6" cy="227.3" r="4.2" fill="#d5137a"/>
<text x="330.3" y="105" font-size="14" text-anchor="end" font-weight="bold" fill="#000" font-family="'Liberation Sans', Arial, Helvetica, sans-serif" >INSIG2</text>
<text x="341.2" y="167" font-size="14" text-anchor="end" font-weight="bold" fill="#000" font-family="'Liberation Sans', Arial, Helvetica, sans-serif" >SPOPL</text>
<text x="340.2" y="194.6" font-size="14" text-anchor="end" font-weight="bold" fill="#000" font-family="'Liberation Sans', Arial, Helvetica, sans-serif" >ICK</text>
<text x="378.2" y="213.6" font-size="14" text-anchor="start" font-weight="bold" fill="#000" font-family="'Liberation Sans', Arial, Helvetica, sans-serif" >SOS1</text>
<text x="351.4" y="232" font-size="14" text-anchor="end" font-weight="bold" fill="#000" font-family="'Liberation Sans', Arial, Helvetica, sans-serif" >UBL3</text>
<rect x="139.6" y="23.7" width="498.8" height="448.6" fill="none" stroke="#000" stroke-width="3.1"/>
<line x1="130.2" y1="455" x2="139.6" y2="455" stroke="#000" stroke-width="2.2" />
<text transform="translate(120.9 456.6) rotate(-90) scale(1 1.1)" font-size="26.3" text-anchor="middle" font-weight="bold" font-family="'Liberation Sans', Arial, Helvetica, sans-serif">0.0</text>
<line x1="130.2" y1="369" x2="139.6" y2="369" stroke="#000" stroke-width="2.2" />
<text transform="translate(120.9 370.6) rotate(-90) scale(1 1.1)" font-size="26.3" text-anchor="middle" font-weight="bold" font-family="'Liberation Sans', Arial, Helvetica, sans-serif">0.5</text>
<line x1="130.2" y1="283" x2="139.6" y2="283" stroke="#000" stroke-width="2.2" />
<text transform="translate(120.9 284.6) rotate(-90) scale(1 1.1)" font-size="26.3" text-anchor="middle" font-weight="bold" font-family="'Liberation Sans', Arial, Helvetica, sans-serif">1.0</text>
<line x1="130.2" y1="197" x2="139.6" y2="197" stroke="#000" stroke-width="2.2" />
<text transform="translate(120.9 198.6) rotate(-90) scale(1 1.1)" font-size="26.3" text-anchor="middle" font-weight="bold" font-family="'Liberation Sans', Arial, Helvetica, sans-serif">1.5</text>
<line x1="130.2" y1="111" x2="139.6" y2="111" stroke="#000" stroke-width="2.2" />
<text transform="translate(120.9 112.6) rotate(-90) scale(1 1.1)" font-size="26.3" text-anchor="middle" font-weight="bold" font-family="'Liberation Sans', Arial, Helvetica, sans-serif">2.0</text>
<line x1="130.2" y1="25" x2="139.6" y2="25" stroke="#000" stroke-width="2.2" />
<text transform="translate(120.9 26.6) rotate(-90) scale(1 1.1)" font-size="26.3" text-anchor="middle" font-weight="bold" font-family="'Liberation Sans', Arial, Helvetica, sans-serif">2.5</text>
<line x1="186.8" y1="472.3" x2="186.8" y2="481.5" stroke="#000" stroke-width="2.2" />
<text x="180.6" y="507.4" font-size="26" text-anchor="middle" font-weight="bold" fill="#000" font-family="'Liberation Sans', Arial, Helvetica, sans-serif" >-2</text>
<line x1="302.1" y1="472.3" x2="302.1" y2="481.5" stroke="#000" stroke-width="2.2" />
<text x="295.8" y="507.4" font-size="26" text-anchor="middle" font-weight="bold" fill="#000" font-family="'Liberation Sans', Arial, Helvetica, sans-serif" >-1</text>
<line x1="417.4" y1="472.3" x2="417.4" y2="481.5" stroke="#000" stroke-width="2.2" />
<text x="417.4" y="507.4" font-size="26" text-anchor="middle" font-weight="bold" fill="#000" font-family="'Liberation Sans', Arial, Helvetica, sans-serif" >0</text>
<line x1="532.7" y1="472.3" x2="532.7" y2="481.5" stroke="#000" stroke-width="2.2" />
<text x="530.5" y="507.4" font-size="26" text-anchor="middle" font-weight="bold" fill="#000" font-family="'Liberation Sans', Arial, Helvetica, sans-serif" >1</text>
<text x="367.6" y="536.4" font-size="26.3" text-anchor="middle" font-weight="bold" fill="#000" font-family="'Liberation Sans', Arial, Helvetica, sans-serif" >log2(fold change)</text>
<text transform="translate(84.5 209.4) rotate(-90) scale(1 1.1)" font-size="26.2" text-anchor="middle" font-weight="bold" font-family="'Liberation Sans', Arial, Helvetica, sans-serif">-log10(p-value)</text>
<text x="783.5" y="115" font-size="34.5" text-anchor="start" font-weight="bold" fill="#000" font-family="'Liberation Sans', Arial, Helvetica, sans-serif" >starBase 3.0</text>
<text x="976" y="45" font-size="34.5" text-anchor="start" font-weight="bold" fill="#000" font-family="'Liberation Sans', Arial, Helvetica, sans-serif" >miRDB</text>
<text x="1144.6" y="52.5" font-size="34.5" text-anchor="start" font-weight="bold" fill="#000" font-family="'Liberation Sans', Arial, Helvetica, sans-serif" >mimic NC VS miR-217 mimic</text>
<text x="1447" y="116.8" font-size="34.5" text-anchor="start" font-weight="bold" fill="#000" font-family="'Liberation Sans', Arial, Helvetica, sans-serif" >TargetScan</text>
<ellipse cx="1293.3" cy="330.5" rx="255" ry="145.7" transform="rotate(-45 1293.3 330.5)" fill="rgb(229,117,117)" fill-opacity="0.5"/>
<ellipse cx="1074.7" cy="330.5" rx="255" ry="145.7" transform="rotate(45 1074.7 330.5)" fill="rgb(95,139,205)" fill-opacity="0.5"/>
<ellipse cx="1184" cy="257.6" rx="240.5" ry="109.3" transform="rotate(-45 1184 257.6)" fill="rgb(185,103,177)" fill-opacity="0.5"/>
<ellipse cx="1184" cy="257.6" rx="255" ry="109.3" transform="rotate(45 1184 257.6)" fill="rgb(145,195,55)" fill-opacity="0.5"/>
<text transform="translate(1075 127.5) scale(0.94 1)" font-size="39.3" text-anchor="middle" fill="#000" font-family="'Liberation Serif', 'Times New Roman', serif">289</text>
<text transform="translate(1292.5 127.5) scale(0.94 1)" font-size="39.3" text-anchor="middle" fill="#000" font-family="'Liberation Serif', 'Times New Roman', serif">33</text>
<text transform="translate(1044.5 200.5) scale(0.94 1)" font-size="39.3" text-anchor="middle" fill="#000" font-family="'Liberation Serif', 'Times New Roman', serif">167</text>
<text transform="translate(1183.7 184.2) scale(0.94 1)" font-size="39.3" text-anchor="middle" fill="#000" font-family="'Liberation Serif', 'Times New Roman', serif">1</text>
<text transform="translate(1322 200.5) scale(0.94 1)" font-size="39.3" text-anchor="middle" fill="#000" font-family="'Liberation Serif', 'Times New Roman', serif">0</text>
<text transform="translate(951 264.5) scale(0.94 1)" font-size="39.3" text-anchor="middle" fill="#000" font-family="'Liberation Serif', 'Times New Roman', serif">1087</text>
<text transform="translate(1109.7 264.5) scale(0.94 1)" font-size="39.3" text-anchor="middle" fill="#000" font-family="'Liberation Serif', 'Times New Roman', serif">1</text>
<text transform="translate(1256 264.5) scale(0.94 1)" font-size="39.3" text-anchor="middle" fill="#000" font-family="'Liberation Serif', 'Times New Roman', serif">0</text>
<text transform="translate(1418.6 264.5) scale(0.94 1)" font-size="39.3" text-anchor="middle" fill="#000" font-family="'Liberation Serif', 'Times New Roman', serif">130</text>
<text transform="translate(1183.7 345.2) scale(0.94 1)" font-size="39.3" text-anchor="middle" fill="#000" font-family="'Liberation Serif', 'Times New Roman', serif">5</text>
<text transform="translate(1052 382.2) scale(0.94 1)" font-size="39.3" text-anchor="middle" fill="#000" font-family="'Liberation Serif', 'Times New Roman', serif">3</text>
<text transform="translate(1315.5 382.2) scale(0.94 1)" font-size="39.3" text-anchor="middle" fill="#000" font-family="'Liberation Serif', 'Times New Roman', serif">86</text>
<text transform="translate(1128.4 410.5) scale(0.94 1)" font-size="39.3" text-anchor="middle" fill="#000" font-family="'Liberation Serif', 'Times New Roman', serif">0</text>
<text transform="translate(1239.4 410.5) scale(0.94 1)" font-size="39.3" text-anchor="middle" fill="#000" font-family="'Liberation Serif', 'Times New Roman', serif">134</text>
<text transform="translate(1185 484.5) scale(0.94 1)" font-size="39.3" text-anchor="middle" fill="#000" font-family="'Liberation Serif', 'Times New Roman', serif">106</text>
<line x1="1212" y1="329.5" x2="1601" y2="329.5" stroke="#000" stroke-width="2.6" />
<polyline points="1584.7,321 1602,329.5 1584.7,338" fill="none" stroke="#000" stroke-width="2.6"/>
<rect x="1622.2" y="197.6" width="184" height="306.8" fill="none" stroke="#000" stroke-width="2.6" />
<text x="1660" y="244.3" font-size="33" text-anchor="start" font-weight="bold" fill="#000" font-family="'Liberation Sans', Arial, Helvetica, sans-serif" >SOS1</text>
<text x="1660" y="304.7" font-size="33" text-anchor="start" font-weight="bold" fill="#000" font-family="'Liberation Sans', Arial, Helvetica, sans-serif" >UBL3</text>
<text x="1660" y="365.1" font-size="33" text-anchor="start" font-weight="bold" fill="#000" font-family="'Liberation Sans', Arial, Helvetica, sans-serif" >SPOPL</text>
<text x="1660" y="425.5" font-size="33" text-anchor="start" font-weight="bold" fill="#000" font-family="'Liberation Sans', Arial, Helvetica, sans-serif" >ICK</text>
<text x="1660" y="485.9" font-size="33" text-anchor="start" font-weight="bold" fill="#000" font-family="'Liberation Sans', Arial, Helvetica, sans-serif" >INSIG2</text>
<rect x="154.6" y="858.6" width="32.8" height="298.8" fill="#585b74" stroke="none" stroke-width="0" />
<line x1="171" y1="859.6" x2="171" y2="839.9" stroke="#585b74" stroke-width="2.2" />
<line x1="162" y1="839.9" x2="180" y2="839.9" stroke="#585b74" stroke-width="2.6" stroke-linecap="round"/>
<rect x="203.9" y="776.3" width="32.8" height="381.1" fill="#7486b8" stroke="none" stroke-width="0" />
<line x1="220.3" y1="777.3" x2="220.3" y2="764.5" stroke="#7486b8" stroke-width="2.2" />
<line x1="211.3" y1="764.5" x2="229.3" y2="764.5" stroke="#7486b8" stroke-width="2.6" stroke-linecap="round"/>
<rect x="286.2" y="869.7" width="32.8" height="287.7" fill="#585b74" stroke="none" stroke-width="0" />
<line x1="302.6" y1="870.7" x2="302.6" y2="866.8" stroke="#585b74" stroke-width="2.2" />
<line x1="293.6" y1="866.8" x2="311.6" y2="866.8" stroke="#585b74" stroke-width="2.6" stroke-linecap="round"/>
<rect x="335.5" y="844" width="32.8" height="313.4" fill="#7486b8" stroke="none" stroke-width="0" />
<line x1="351.9" y1="845" x2="351.9" y2="787" stroke="#7486b8" stroke-width="2.2" />
<line x1="342.9" y1="787" x2="360.9" y2="787" stroke="#7486b8" stroke-width="2.6" stroke-linecap="round"/>
<rect x="417.2" y="876" width="32.8" height="281.4" fill="#585b74" stroke="none" stroke-width="0" />
<line x1="433.6" y1="877" x2="433.6" y2="869.2" stroke="#585b74" stroke-width="2.2" />
<line x1="424.6" y1="869.2" x2="442.6" y2="869.2" stroke="#585b74" stroke-width="2.6" stroke-linecap="round"/>
<rect x="466.5" y="1090.6" width="32.8" height="66.8" fill="#7486b8" stroke="none" stroke-width="0" />
<line x1="482.9" y1="1091.6" x2="482.9" y2="1086.7" stroke="#7486b8" stroke-width="2.2" />
<line x1="473.9" y1="1086.7" x2="491.9" y2="1086.7" stroke="#7486b8" stroke-width="2.6" stroke-linecap="round"/>
<rect x="548.7" y="881.3" width="32.8" height="276.1" fill="#585b74" stroke="none" stroke-width="0" />
<line x1="565.1" y1="882.3" x2="565.1" y2="866.8" stroke="#585b74" stroke-width="2.2" />
<line x1="556.1" y1="866.8" x2="574.1" y2="866.8" stroke="#585b74" stroke-width="2.6" stroke-linecap="round"/>
<rect x="598" y="843.6" width="32.8" height="313.8" fill="#7486b8" stroke="none" stroke-width="0" />
<line x1="614.4" y1="844.6" x2="614.4" y2="808.3" stroke="#7486b8" stroke-width="2.2" />
<line x1="605.4" y1="808.3" x2="623.4" y2="808.3" stroke="#7486b8" stroke-width="2.6" stroke-linecap="round"/>
<rect x="680.2" y="864.4" width="32.8" height="293" fill="#585b74" stroke="none" stroke-width="0" />
<line x1="696.6" y1="865.4" x2="696.6" y2="853.3" stroke="#585b74" stroke-width="2.2" />
<line x1="687.6" y1="853.3" x2="705.6" y2="853.3" stroke="#585b74" stroke-width="2.6" stroke-linecap="round"/>
<rect x="729.5" y="766.8" width="32.8" height="390.6" fill="#7486b8" stroke="none" stroke-width="0" />
<line x1="745.9" y1="767.8" x2="745.9" y2="764.8" stroke="#7486b8" stroke-width="2.2" />
<line x1="736.9" y1="764.8" x2="754.9" y2="764.8" stroke="#7486b8" stroke-width="2.6" stroke-linecap="round"/>
<line x1="138.2" y1="1159.3" x2="138.2" y2="725.2" stroke="#000" stroke-width="3.8" />
<line x1="120.5" y1="1157.4" x2="779.2" y2="1157.4" stroke="#000" stroke-width="3.8" />
<line x1="120.5" y1="1014" x2="138.2" y2="1014" stroke="#000" stroke-width="3.8" />
<line x1="120.5" y1="870.5" x2="138.2" y2="870.5" stroke="#000" stroke-width="3.8" />
<line x1="120.5" y1="727.1" x2="138.2" y2="727.1" stroke="#000" stroke-width="3.8" />
<text x="112" y="1168.9" font-size="32" text-anchor="end" font-weight="bold" fill="#000" font-family="'Liberation Sans', Arial, Helvetica, sans-serif" >0.0</text>
<text x="112" y="1025.4" font-size="32" text-anchor="end" font-weight="bold" fill="#000" font-family="'Liberation Sans', Arial, Helvetica, sans-serif" >0.5</text>
<text x="112" y="882" font-size="32" text-anchor="end" font-weight="bold" fill="#000" font-family="'Liberation Sans', Arial, Helvetica, sans-serif" >1.0</text>
<text x="112" y="738.5" font-size="32" text-anchor="end" font-weight="bold" fill="#000" font-family="'Liberation Sans', Arial, Helvetica, sans-serif" >1.5</text>
<line x1="195.6" y1="1157.4" x2="195.6" y2="1175.5" stroke="#000" stroke-width="3.8" />
<text x="195.6" y="1212.4" font-size="33" text-anchor="middle" font-weight="bold" fill="#000" font-family="'Liberation Sans', Arial, Helvetica, sans-serif" >ICK</text>
<line x1="327.2" y1="1157.4" x2="327.2" y2="1175.5" stroke="#000" stroke-width="3.8" />
<text x="327.2" y="1212.4" font-size="33" text-anchor="middle" font-weight="bold" fill="#000" font-family="'Liberation Sans', Arial, Helvetica, sans-serif" >INSIG2</text>
<line x1="458.2" y1="1157.4" x2="458.2" y2="1175.5" stroke="#000" stroke-width="3.8" />
<text x="458.2" y="1212.4" font-size="33" text-anchor="middle" font-weight="bold" fill="#000" font-family="'Liberation Sans', Arial, Helvetica, sans-serif" >SOS1</text>
<line x1="589.7" y1="1157.4" x2="589.7" y2="1175.5" stroke="#000" stroke-width="3.8" />
<text x="589.7" y="1212.4" font-size="33" text-anchor="middle" font-weight="bold" fill="#000" font-family="'Liberation Sans', Arial, Helvetica, sans-serif" >SPOPL</text>
<line x1="721.2" y1="1157.4" x2="721.2" y2="1175.5" stroke="#000" stroke-width="3.8" />
<text x="721.2" y="1212.4" font-size="33" text-anchor="middle" font-weight="bold" fill="#000" font-family="'Liberation Sans', Arial, Helvetica, sans-serif" >UBL3</text>
<text x="309.3" y="650.8" font-size="40" text-anchor="start" font-weight="bold" fill="#000" font-family="'Liberation Sans', Arial, Helvetica, sans-serif" >MDA-MB-231</text>
<rect x="536.5" y="685.6" width="52.2" height="30.4" fill="#585b74" stroke="none" stroke-width="0" />
<text x="610" y="712.1" font-size="35" text-anchor="start" font-weight="bold" fill="#000" font-family="'Liberation Sans', Arial, Helvetica, sans-serif" >si-NC</text>
<rect x="536.5" y="735.3" width="52.2" height="30" fill="#7486b8" stroke="none" stroke-width="0" />
<text x="610" y="761" font-size="35" text-anchor="start" font-weight="bold" fill="#000" font-family="'Liberation Sans', Arial, Helvetica, sans-serif" >si-circ</text>
<text transform="translate(48.6 938.7) rotate(-90)" font-size="38" text-anchor="middle" font-weight="bold" font-family="'Liberation Sans', Arial, Helvetica, sans-serif">Relative RNA expression</text>
<text x="483.9" y="1083.8" font-size="40" text-anchor="middle" font-weight="bold" fill="#000" font-family="'Liberation Sans', Arial, Helvetica, sans-serif" >***</text>
<rect x="150.1" y="1526.4" width="32.2" height="283.1" fill="#585b74" stroke="none" stroke-width="0" />
<line x1="166.2" y1="1527.4" x2="166.2" y2="1520.3" stroke="#585b74" stroke-width="2.2" />
<line x1="157.9" y1="1520.3" x2="174.4" y2="1520.3" stroke="#585b74" stroke-width="2.6" stroke-linecap="round"/>
<rect x="198.5" y="1563.7" width="32.2" height="245.8" fill="#7486b8" stroke="none" stroke-width="0" />
<line x1="214.6" y1="1564.7" x2="214.6" y2="1556.4" stroke="#7486b8" stroke-width="2.2" />
<line x1="206.3" y1="1556.4" x2="222.8" y2="1556.4" stroke="#7486b8" stroke-width="2.6" stroke-linecap="round"/>
<rect x="279.4" y="1532" width="32.2" height="277.5" fill="#585b74" stroke="none" stroke-width="0" />
<line x1="295.5" y1="1533" x2="295.5" y2="1529" stroke="#585b74" stroke-width="2.2" />
<line x1="287.2" y1="1529" x2="303.8" y2="1529" stroke="#585b74" stroke-width="2.6" stroke-linecap="round"/>
<rect x="327.8" y="1532" width="32.2" height="277.5" fill="#7486b8" stroke="none" stroke-width="0" />
<line x1="343.9" y1="1533" x2="343.9" y2="1524.2" stroke="#7486b8" stroke-width="2.2" />
<line x1="335.7" y1="1524.2" x2="352.2" y2="1524.2" stroke="#7486b8" stroke-width="2.6" stroke-linecap="round"/>
<rect x="408.4" y="1532.4" width="32.2" height="277.1" fill="#585b74" stroke="none" stroke-width="0" />
<line x1="424.5" y1="1533.4" x2="424.5" y2="1529" stroke="#585b74" stroke-width="2.2" />
<line x1="416.2" y1="1529" x2="432.8" y2="1529" stroke="#585b74" stroke-width="2.6" stroke-linecap="round"/>
<rect x="456.8" y="1632.5" width="32.2" height="177" fill="#7486b8" stroke="none" stroke-width="0" />
<line x1="472.9" y1="1633.5" x2="472.9" y2="1627.6" stroke="#7486b8" stroke-width="2.2" />
<line x1="464.7" y1="1627.6" x2="481.2" y2="1627.6" stroke="#7486b8" stroke-width="2.6" stroke-linecap="round"/>
<rect x="537" y="1524.7" width="32.2" height="284.8" fill="#585b74" stroke="none" stroke-width="0" />
<line x1="553.1" y1="1525.7" x2="553.1" y2="1516.5" stroke="#585b74" stroke-width="2.2" />
<line x1="544.9" y1="1516.5" x2="561.4" y2="1516.5" stroke="#585b74" stroke-width="2.6" stroke-linecap="round"/>
<rect x="585.4" y="1517.4" width="32.2" height="292.1" fill="#7486b8" stroke="none" stroke-width="0" />
<line x1="601.5" y1="1518.4" x2="601.5" y2="1503.4" stroke="#7486b8" stroke-width="2.2" />
<line x1="593.2" y1="1503.4" x2="609.8" y2="1503.4" stroke="#7486b8" stroke-width="2.6" stroke-linecap="round"/>
<rect x="666.1" y="1513" width="32.2" height="296.5" fill="#585b74" stroke="none" stroke-width="0" />
<line x1="682.2" y1="1514" x2="682.2" y2="1488.4" stroke="#585b74" stroke-width="2.2" />
<line x1="674" y1="1488.4" x2="690.5" y2="1488.4" stroke="#585b74" stroke-width="2.6" stroke-linecap="round"/>
<rect x="714.5" y="1483.1" width="32.2" height="326.4" fill="#7486b8" stroke="none" stroke-width="0" />
<line x1="730.6" y1="1484.1" x2="730.6" y2="1481.7" stroke="#7486b8" stroke-width="2.2" />
<line x1="722.4" y1="1481.7" x2="738.9" y2="1481.7" stroke="#7486b8" stroke-width="2.6" stroke-linecap="round"/>
<line x1="133.8" y1="1811.4" x2="133.8" y2="1387.3" stroke="#000" stroke-width="3.8" />
<line x1="116.2" y1="1809.5" x2="762.7" y2="1809.5" stroke="#000" stroke-width="3.8" />
<line x1="116.2" y1="1669.4" x2="133.8" y2="1669.4" stroke="#000" stroke-width="3.8" />
<line x1="116.2" y1="1529.3" x2="133.8" y2="1529.3" stroke="#000" stroke-width="3.8" />
<line x1="116.2" y1="1389.2" x2="133.8" y2="1389.2" stroke="#000" stroke-width="3.8" />
<text x="109.4" y="1820.6" font-size="31" text-anchor="end" font-weight="bold" fill="#000" font-family="'Liberation Sans', Arial, Helvetica, sans-serif" >0.0</text>
<text x="109.4" y="1680.5" font-size="31" text-anchor="end" font-weight="bold" fill="#000" font-family="'Liberation Sans', Arial, Helvetica, sans-serif" >0.5</text>
<text x="109.4" y="1540.4" font-size="31" text-anchor="end" font-weight="bold" fill="#000" font-family="'Liberation Sans', Arial, Helvetica, sans-serif" >1.0</text>
<text x="109.4" y="1400.3" font-size="31" text-anchor="end" font-weight="bold" fill="#000" font-family="'Liberation Sans', Arial, Helvetica, sans-serif" >1.5</text>
<line x1="189.7" y1="1809.5" x2="189.7" y2="1829.9" stroke="#000" stroke-width="3.8" />
<text x="189.7" y="1862" font-size="33" text-anchor="middle" font-weight="bold" fill="#000" font-family="'Liberation Sans', Arial, Helvetica, sans-serif" >ICK</text>
<line x1="319" y1="1809.5" x2="319" y2="1829.9" stroke="#000" stroke-width="3.8" />
<text x="319" y="1862" font-size="33" text-anchor="middle" font-weight="bold" fill="#000" font-family="'Liberation Sans', Arial, Helvetica, sans-serif" >INSIG2</text>
<line x1="448" y1="1809.5" x2="448" y2="1829.9" stroke="#000" stroke-width="3.8" />
<text x="448" y="1862" font-size="33" text-anchor="middle" font-weight="bold" fill="#000" font-family="'Liberation Sans', Arial, Helvetica, sans-serif" >SOS1</text>
<line x1="576.6" y1="1809.5" x2="576.6" y2="1829.9" stroke="#000" stroke-width="3.8" />
<text x="576.6" y="1862" font-size="33" text-anchor="middle" font-weight="bold" fill="#000" font-family="'Liberation Sans', Arial, Helvetica, sans-serif" >SPOPL</text>
<line x1="705.7" y1="1809.5" x2="705.7" y2="1829.9" stroke="#000" stroke-width="3.8" />
<text x="705.7" y="1862" font-size="33" text-anchor="middle" font-weight="bold" fill="#000" font-family="'Liberation Sans', Arial, Helvetica, sans-serif" >UBL3</text>
<text x="363.5" y="1314.9" font-size="40" text-anchor="start" font-weight="bold" fill="#000" font-family="'Liberation Sans', Arial, Helvetica, sans-serif" >MCF-7</text>
<rect x="524.4" y="1347.3" width="50.8" height="30" fill="#585b74" stroke="none" stroke-width="0" />
<text x="597" y="1372.9" font-size="35" text-anchor="start" font-weight="bold" fill="#000" font-family="'Liberation Sans', Arial, Helvetica, sans-serif" >si-NC</text>
<rect x="524.4" y="1395.6" width="50.8" height="30" fill="#7486b8" stroke="none" stroke-width="0" />
<text x="597" y="1422.7" font-size="35" text-anchor="start" font-weight="bold" fill="#000" font-family="'Liberation Sans', Arial, Helvetica, sans-serif" >si-circ</text>
<text transform="translate(46.3 1601.7) rotate(-90)" font-size="37.4" text-anchor="middle" font-weight="bold" font-family="'Liberation Sans', Arial, Helvetica, sans-serif">Relative RNA expression</text>
<text x="472.7" y="1629.3" font-size="39" text-anchor="middle" font-weight="bold" fill="#000" font-family="'Liberation Sans', Arial, Helvetica, sans-serif" >**</text>
<text x="975.7" y="698.3" font-size="34" text-anchor="middle" font-weight="bold" fill="#000" font-family="'Liberation Sans', Arial, Helvetica, sans-serif" >WT</text>
<text x="978" y="805.3" font-size="34" text-anchor="middle" font-weight="bold" fill="#000" font-family="'Liberation Sans', Arial, Helvetica, sans-serif" >miR-217</text>
<text x="972.2" y="905.5" font-size="34" text-anchor="middle" font-weight="bold" fill="#000" font-family="'Liberation Sans', Arial, Helvetica, sans-serif" >Mut</text>
<text x="1093.4" y="694.4" font-size="35.3" font-weight="bold" fill="#000" font-family="'Liberation Sans', Arial, Helvetica, sans-serif">5’-...</text>
<text x="1163" y="694.4" font-size="35.3" font-weight="normal" fill="#000" stroke="#000" stroke-width="0.85" font-family="'Liberation Sans', Arial, Helvetica, sans-serif">CGACUCUUCUUCAAG</text>
<text x="1543.8" y="694.4" font-size="35.3" font-weight="normal" fill="#dc2b2b" stroke="#dc2b2b" stroke-width="0.85" font-family="'Liberation Sans', Arial, Helvetica, sans-serif">AUGCAGU</text>
<text x="1721.6" y="694.4" font-size="35.3" font-weight="normal" fill="#000" stroke="#000" stroke-width="0.85" font-family="'Liberation Sans', Arial, Helvetica, sans-serif">A</text>
<text x="1745.3" y="694.4" font-size="35.3" font-weight="bold" fill="#000" font-family="'Liberation Sans', Arial, Helvetica, sans-serif">...-3’</text>
<text x="1119.5" y="805.6" font-size="35.3" font-weight="bold" fill="#000" font-family="'Liberation Sans', Arial, Helvetica, sans-serif">3’-</text>
<text x="1159.5" y="805.6" font-size="35.3" font-weight="normal" fill="#000" stroke="#000" stroke-width="0.85" textLength="385.5" lengthAdjust="spacing" font-family="'Liberation Sans', Arial, Helvetica, sans-serif">ACGUUAGUCAAGGAC</text>
<text x="1546" y="805.6" font-size="35.3" font-weight="normal" fill="#dc2b2b" stroke="#dc2b2b" stroke-width="0.85" font-family="'Liberation Sans', Arial, Helvetica, sans-serif">UACGUCA</text>
<text x="1721" y="805.6" font-size="35.3" font-weight="normal" fill="#000" stroke="#000" stroke-width="0.85" font-family="'Liberation Sans', Arial, Helvetica, sans-serif">U</text>
<text x="1746.5" y="805.6" font-size="35.3" font-weight="bold" fill="#000" font-family="'Liberation Sans', Arial, Helvetica, sans-serif">-5’</text>
<text x="1093.4" y="905.6" font-size="35.3" font-weight="bold" fill="#000" font-family="'Liberation Sans', Arial, Helvetica, sans-serif">5’-...</text>
<text x="1163" y="905.6" font-size="35.3" font-weight="normal" fill="#000" stroke="#000" stroke-width="0.85" font-family="'Liberation Sans', Arial, Helvetica, sans-serif">CGACUCUUCUUCAAG</text>
<text x="1545.4" y="905.6" font-size="35.3" font-weight="normal" fill="#dc2b2b" stroke="#dc2b2b" stroke-width="0.85" font-family="'Liberation Sans', Arial, Helvetica, sans-serif">UACGUCA</text>
<text x="1721" y="905.6" font-size="35.3" font-weight="normal" fill="#000" stroke="#000" stroke-width="0.85" font-family="'Liberation Sans', Arial, Helvetica, sans-serif">U</text>
<text x="1746.5" y="905.6" font-size="35.3" font-weight="bold" fill="#000" font-family="'Liberation Sans', Arial, Helvetica, sans-serif">...-3’</text>
<line x1="1555.4" y1="711" x2="1555.4" y2="767.4" stroke="#dc2b2b" stroke-width="3.2" />
<line x1="1580.9" y1="711" x2="1580.9" y2="767.4" stroke="#dc2b2b" stroke-width="3.2" />
<line x1="1606.7" y1="711" x2="1606.7" y2="767.4" stroke="#dc2b2b" stroke-width="3.2" />
<line x1="1632.2" y1="711" x2="1632.2" y2="767.4" stroke="#dc2b2b" stroke-width="3.2" />
<line x1="1657.4" y1="711" x2="1657.4" y2="767.4" stroke="#dc2b2b" stroke-width="3.2" />
<line x1="1683.8" y1="711" x2="1683.8" y2="767.4" stroke="#dc2b2b" stroke-width="3.2" />
<line x1="1709.3" y1="711" x2="1709.3" y2="767.4" stroke="#dc2b2b" stroke-width="3.2" />
<line x1="864" y1="1030.7" x2="1858" y2="1030.7" stroke="#111" stroke-width="3.6" />
<polygon points="914.1,1017.2 1003.5,1017.2 1003.5,989.3 1084.3,1030.8 1003.5,1070.7 1003.5,1043.8 914.1,1043.8" fill="#d6609f"/>
<rect x="1108.6" y="995.9" width="119.3" height="68.8" fill="#ebad50" stroke="none" stroke-width="0" />
<text x="1168.2" y="1042.4" font-size="34" text-anchor="middle" font-weight="bold" fill="#231f20" font-family="'Liberation Sans', Arial, Helvetica, sans-serif" >hRluc</text>
<rect x="1249.8" y="995.3" width="240.9" height="68.5" fill="#62c3d3" stroke="none" stroke-width="0" />
<text x="1360.9" y="1042.4" font-size="34" text-anchor="middle" font-weight="bold" fill="#231f20" font-family="'Liberation Sans', Arial, Helvetica, sans-serif" >SOS1 3’UTR</text>
<polygon points="1508.6,1017.9 1597.9,1017.9 1597.9,990.7 1678.3,1031 1597.9,1071.5 1597.9,1044.3 1508.6,1044.3" fill="#93cb7a"/>
<rect x="1695.3" y="995.5" width="118.7" height="68" fill="#eddc64" stroke="none" stroke-width="0" />
<text x="1755" y="1042.4" font-size="34" text-anchor="middle" font-weight="bold" fill="#231f20" font-family="'Liberation Sans', Arial, Helvetica, sans-serif" >hluc+</text>
<rect x="978" y="1348.6" width="50.2" height="267.3" fill="#585b74" stroke="none" stroke-width="0" />
<line x1="1003.1" y1="1349.6" x2="1003.1" y2="1334.4" stroke="#585b74" stroke-width="2.4" />
<line x1="990.6" y1="1334.4" x2="1015.6" y2="1334.4" stroke="#585b74" stroke-width="2.8" stroke-linecap="round"/>
<rect x="1054.2" y="1458.5" width="50.2" height="157.4" fill="#7486b8" stroke="none" stroke-width="0" />
<line x1="1079.3" y1="1459.5" x2="1079.3" y2="1454.5" stroke="#7486b8" stroke-width="2.4" />
<line x1="1066.8" y1="1454.5" x2="1091.8" y2="1454.5" stroke="#7486b8" stroke-width="2.8" stroke-linecap="round"/>
<rect x="1181.4" y="1333.3" width="50.2" height="282.6" fill="#585b74" stroke="none" stroke-width="0" />
<line x1="1206.5" y1="1334.3" x2="1206.5" y2="1313" stroke="#585b74" stroke-width="2.4" />
<line x1="1194" y1="1313" x2="1219" y2="1313" stroke="#585b74" stroke-width="2.8" stroke-linecap="round"/>
<rect x="1258.2" y="1336" width="50.2" height="279.9" fill="#7486b8" stroke="none" stroke-width="0" />
<line x1="1283.3" y1="1337" x2="1283.3" y2="1316.4" stroke="#7486b8" stroke-width="2.4" />
<line x1="1270.8" y1="1316.4" x2="1295.8" y2="1316.4" stroke="#7486b8" stroke-width="2.8" stroke-linecap="round"/>
<line x1="951.9" y1="1617.7" x2="951.9" y2="1218.7" stroke="#000" stroke-width="3.5" />
<line x1="935.2" y1="1615.9" x2="1333.7" y2="1615.9" stroke="#000" stroke-width="3.8" />
<line x1="935.2" y1="1484.1" x2="951.9" y2="1484.1" stroke="#000" stroke-width="3.5" />
<line x1="935.2" y1="1352.3" x2="951.9" y2="1352.3" stroke="#000" stroke-width="3.5" />
<line x1="935.2" y1="1220.5" x2="951.9" y2="1220.5" stroke="#000" stroke-width="3.5" />
<text x="928.5" y="1626.8" font-size="30.5" text-anchor="end" font-weight="bold" fill="#000" font-family="'Liberation Sans', Arial, Helvetica, sans-serif" >0.0</text>
<text x="928.5" y="1495" font-size="30.5" text-anchor="end" font-weight="bold" fill="#000" font-family="'Liberation Sans', Arial, Helvetica, sans-serif" >0.5</text>
<text x="928.5" y="1363.2" font-size="30.5" text-anchor="end" font-weight="bold" fill="#000" font-family="'Liberation Sans', Arial, Helvetica, sans-serif" >1.0</text>
<text x="928.5" y="1231.4" font-size="30.5" text-anchor="end" font-weight="bold" fill="#000" font-family="'Liberation Sans', Arial, Helvetica, sans-serif" >1.5</text>
<line x1="1041" y1="1615.9" x2="1041" y2="1631" stroke="#000" stroke-width="3.8" />
<text x="1041" y="1665" font-size="31" text-anchor="middle" font-weight="bold" fill="#000" font-family="'Liberation Sans', Arial, Helvetica, sans-serif" >Wild Type</text>
<line x1="1244" y1="1615.9" x2="1244" y2="1631" stroke="#000" stroke-width="3.8" />
<text x="1244" y="1665" font-size="31" text-anchor="middle" font-weight="bold" fill="#000" font-family="'Liberation Sans', Arial, Helvetica, sans-serif" >Mutant</text>
<line x1="1002.7" y1="1319.1" x2="1080.6" y2="1319.1" stroke="#000" stroke-width="4" stroke-linecap="round"/>
<text x="1041.6" y="1316.3" font-size="36" text-anchor="middle" font-weight="bold" fill="#000" font-family="'Liberation Sans', Arial, Helvetica, sans-serif" >***</text>
<line x1="1207.4" y1="1303.6" x2="1284.3" y2="1303.6" stroke="#000" stroke-width="4" stroke-linecap="round"/>
<text x="1245.7" y="1285.3" font-size="31" text-anchor="middle" font-weight="bold" fill="#000" font-family="'Liberation Sans', Arial, Helvetica, sans-serif" >ns</text>
<text x="1028.1" y="1160.8" font-size="36.8" text-anchor="start" font-weight="bold" fill="#000" font-family="'Liberation Sans', Arial, Helvetica, sans-serif" >MDA-MB-231</text>
<rect x="978" y="1181.7" width="47.4" height="28.1" fill="#585b74" stroke="none" stroke-width="0" />
<text x="1047.4" y="1206.4" font-size="32.2" text-anchor="start" font-weight="bold" fill="#000" font-family="'Liberation Sans', Arial, Helvetica, sans-serif" >NC mimics</text>
<rect x="978" y="1229.1" width="47.4" height="28.1" fill="#7486b8" stroke="none" stroke-width="0" />
<text x="1047.4" y="1253.8" font-size="32.2" text-anchor="start" font-weight="bold" fill="#000" font-family="'Liberation Sans', Arial, Helvetica, sans-serif" >miR-217 mimics</text>
<text transform="translate(867.8 1415.7) rotate(-90)" font-size="32.3" text-anchor="middle" font-weight="bold" font-family="'Liberation Sans', Arial, Helvetica, sans-serif">Relative luciferase activity</text>
<rect x="1538.9" y="1361" width="50.2" height="255.6" fill="#585b74" stroke="none" stroke-width="0" />
<line x1="1564" y1="1362" x2="1564" y2="1354" stroke="#585b74" stroke-width="2.4" />
<line x1="1551.5" y1="1354" x2="1576.5" y2="1354" stroke="#585b74" stroke-width="2.8" stroke-linecap="round"/>
<rect x="1615.1" y="1450.7" width="50.2" height="165.9" fill="#7486b8" stroke="none" stroke-width="0" />
<line x1="1640.2" y1="1451.7" x2="1640.2" y2="1444.3" stroke="#7486b8" stroke-width="2.4" />
<line x1="1627.7" y1="1444.3" x2="1652.7" y2="1444.3" stroke="#7486b8" stroke-width="2.8" stroke-linecap="round"/>
<rect x="1742.7" y="1351.5" width="50.2" height="265.1" fill="#585b74" stroke="none" stroke-width="0" />
<line x1="1767.8" y1="1352.5" x2="1767.8" y2="1345.4" stroke="#585b74" stroke-width="2.4" />
<line x1="1755.3" y1="1345.4" x2="1780.3" y2="1345.4" stroke="#585b74" stroke-width="2.8" stroke-linecap="round"/>
<rect x="1819.3" y="1351.8" width="50.2" height="264.8" fill="#7486b8" stroke="none" stroke-width="0" />
<line x1="1844.4" y1="1352.8" x2="1844.4" y2="1340.3" stroke="#7486b8" stroke-width="2.4" />
<line x1="1831.9" y1="1340.3" x2="1856.9" y2="1340.3" stroke="#7486b8" stroke-width="2.8" stroke-linecap="round"/>
<line x1="1512.4" y1="1618.4" x2="1512.4" y2="1218.8" stroke="#000" stroke-width="3.5" />
<line x1="1496.4" y1="1616.6" x2="1894.3" y2="1616.6" stroke="#000" stroke-width="3.8" />
<line x1="1496.4" y1="1484.6" x2="1512.4" y2="1484.6" stroke="#000" stroke-width="3.5" />
<line x1="1496.4" y1="1352.6" x2="1512.4" y2="1352.6" stroke="#000" stroke-width="3.5" />
<line x1="1496.4" y1="1220.6" x2="1512.4" y2="1220.6" stroke="#000" stroke-width="3.5" />
<text x="1489" y="1627.5" font-size="30.5" text-anchor="end" font-weight="bold" fill="#000" font-family="'Liberation Sans', Arial, Helvetica, sans-serif" >0.0</text>
<text x="1489" y="1495.5" font-size="30.5" text-anchor="end" font-weight="bold" fill="#000" font-family="'Liberation Sans', Arial, Helvetica, sans-serif" >0.5</text>
<text x="1489" y="1363.5" font-size="30.5" text-anchor="end" font-weight="bold" fill="#000" font-family="'Liberation Sans', Arial, Helvetica, sans-serif" >1.0</text>
<text x="1489" y="1231.5" font-size="30.5" text-anchor="end" font-weight="bold" fill="#000" font-family="'Liberation Sans', Arial, Helvetica, sans-serif" >1.5</text>
<line x1="1601.7" y1="1616.6" x2="1601.7" y2="1633.2" stroke="#000" stroke-width="3.8" />
<text x="1601.7" y="1665" font-size="31" text-anchor="middle" font-weight="bold" fill="#000" font-family="'Liberation Sans', Arial, Helvetica, sans-serif" >Wild Type</text>
<line x1="1805.9" y1="1616.6" x2="1805.9" y2="1633.2" stroke="#000" stroke-width="3.8" />
<text x="1805.9" y="1665" font-size="31" text-anchor="middle" font-weight="bold" fill="#000" font-family="'Liberation Sans', Arial, Helvetica, sans-serif" >Mutant</text>
<line x1="1563.4" y1="1338.7" x2="1641.6" y2="1338.7" stroke="#000" stroke-width="4" stroke-linecap="round"/>
<text x="1603.3" y="1334.8" font-size="36" text-anchor="middle" font-weight="bold" fill="#000" font-family="'Liberation Sans', Arial, Helvetica, sans-serif" >***</text>
<line x1="1768.6" y1="1322.8" x2="1845.8" y2="1322.8" stroke="#000" stroke-width="4" stroke-linecap="round"/>
<text x="1807.5" y="1304.6" font-size="31" text-anchor="middle" font-weight="bold" fill="#000" font-family="'Liberation Sans', Arial, Helvetica, sans-serif" >ns</text>
<text x="1648" y="1161" font-size="36.8" text-anchor="start" font-weight="bold" fill="#000" font-family="'Liberation Sans', Arial, Helvetica, sans-serif" >MCF-7</text>
<rect x="1538.9" y="1182.7" width="47.8" height="27.8" fill="#585b74" stroke="none" stroke-width="0" />
<text x="1608.1" y="1205.7" font-size="32.2" text-anchor="start" font-weight="bold" fill="#000" font-family="'Liberation Sans', Arial, Helvetica, sans-serif" >NC mimics</text>
<rect x="1538.9" y="1230.3" width="47.8" height="27.4" fill="#7486b8" stroke="none" stroke-width="0" />
<text x="1608.1" y="1253.6" font-size="32.2" text-anchor="start" font-weight="bold" fill="#000" font-family="'Liberation Sans', Arial, Helvetica, sans-serif" >miR-217 mimics</text>
<text transform="translate(1428.8 1418.7) rotate(-90)" font-size="31.8" text-anchor="middle" font-weight="bold" font-family="'Liberation Sans', Arial, Helvetica, sans-serif">Relative luciferase activity</text>
<polygon points="125.5,2348.3 160.3,2342.5 194.2,2331.9 228,2318.4 269,2299 323,2267.4 394,2216.3 479.2,2155.3 560.1,2098.5 560.1,2281.6 479.2,2297.3 394,2315.7 350,2327 308.8,2340 272,2358 237.7,2371.5 208.7,2384.1 170,2404.4 145.8,2416 125.5,2426.6" fill="#efefef"/>
<line x1="125.6" y1="2392.4" x2="560.1" y2="2187.9" stroke="#7fa3d3" stroke-width="2.8" />
<circle cx="560.1" cy="2104.1" r="6.3" fill="#a3bce0" fill-opacity="0.88" stroke="#87a5d3" stroke-opacity="0.92" stroke-width="2.2"/>
<circle cx="551.6" cy="2230.5" r="6.3" fill="#a3bce0" fill-opacity="0.88" stroke="#87a5d3" stroke-opacity="0.92" stroke-width="2.2"/>
<circle cx="227.3" cy="2214" r="6.3" fill="#a3bce0" fill-opacity="0.88" stroke="#87a5d3" stroke-opacity="0.92" stroke-width="2.2"/>
<circle cx="252" cy="2207.2" r="6.3" fill="#a3bce0" fill-opacity="0.88" stroke="#87a5d3" stroke-opacity="0.92" stroke-width="2.2"/>
<circle cx="149.2" cy="2276.8" r="6.3" fill="#a3bce0" fill-opacity="0.88" stroke="#87a5d3" stroke-opacity="0.92" stroke-width="2.2"/>
<circle cx="320.2" cy="2273.7" r="6.3" fill="#a3bce0" fill-opacity="0.88" stroke="#87a5d3" stroke-opacity="0.92" stroke-width="2.2"/>
<circle cx="379.2" cy="2273.7" r="6.3" fill="#a3bce0" fill-opacity="0.88" stroke="#87a5d3" stroke-opacity="0.92" stroke-width="2.2"/>
<circle cx="308.8" cy="2306.4" r="6.3" fill="#a3bce0" fill-opacity="0.88" stroke="#87a5d3" stroke-opacity="0.92" stroke-width="2.2"/>
<circle cx="137" cy="2317.2" r="6.3" fill="#a3bce0" fill-opacity="0.88" stroke="#87a5d3" stroke-opacity="0.92" stroke-width="2.2"/>
<circle cx="137" cy="2320.8" r="6.3" fill="#a3bce0" fill-opacity="0.88" stroke="#87a5d3" stroke-opacity="0.92" stroke-width="2.2"/>
<circle cx="182.4" cy="2312.3" r="6.3" fill="#a3bce0" fill-opacity="0.88" stroke="#87a5d3" stroke-opacity="0.92" stroke-width="2.2"/>
<circle cx="186.7" cy="2335.6" r="6.3" fill="#a3bce0" fill-opacity="0.88" stroke="#87a5d3" stroke-opacity="0.92" stroke-width="2.2"/>
<circle cx="171.1" cy="2344.1" r="6.3" fill="#a3bce0" fill-opacity="0.88" stroke="#87a5d3" stroke-opacity="0.92" stroke-width="2.2"/>
<circle cx="175.9" cy="2348.4" r="6.3" fill="#a3bce0" fill-opacity="0.88" stroke="#87a5d3" stroke-opacity="0.92" stroke-width="2.2"/>
<circle cx="140.7" cy="2346.4" r="6.3" fill="#a3bce0" fill-opacity="0.88" stroke="#87a5d3" stroke-opacity="0.92" stroke-width="2.2"/>
<circle cx="127.6" cy="2353.2" r="6.3" fill="#a3bce0" fill-opacity="0.88" stroke="#87a5d3" stroke-opacity="0.92" stroke-width="2.2"/>
<circle cx="274.7" cy="2353.2" r="6.3" fill="#a3bce0" fill-opacity="0.88" stroke="#87a5d3" stroke-opacity="0.92" stroke-width="2.2"/>
<circle cx="217.9" cy="2372.5" r="6.3" fill="#a3bce0" fill-opacity="0.88" stroke="#87a5d3" stroke-opacity="0.92" stroke-width="2.2"/>
<circle cx="231.3" cy="2375.9" r="6.3" fill="#a3bce0" fill-opacity="0.88" stroke="#87a5d3" stroke-opacity="0.92" stroke-width="2.2"/>
<circle cx="285.2" cy="2379.6" r="6.3" fill="#a3bce0" fill-opacity="0.88" stroke="#87a5d3" stroke-opacity="0.92" stroke-width="2.2"/>
<circle cx="141.2" cy="2381.9" r="6.3" fill="#a3bce0" fill-opacity="0.88" stroke="#87a5d3" stroke-opacity="0.92" stroke-width="2.2"/>
<circle cx="203.7" cy="2386.7" r="6.3" fill="#a3bce0" fill-opacity="0.88" stroke="#87a5d3" stroke-opacity="0.92" stroke-width="2.2"/>
<circle cx="263.4" cy="2389" r="6.3" fill="#a3bce0" fill-opacity="0.88" stroke="#87a5d3" stroke-opacity="0.92" stroke-width="2.2"/>
<circle cx="154.6" cy="2395.2" r="6.3" fill="#a3bce0" fill-opacity="0.88" stroke="#87a5d3" stroke-opacity="0.92" stroke-width="2.2"/>
<circle cx="185.3" cy="2393.8" r="6.3" fill="#a3bce0" fill-opacity="0.88" stroke="#87a5d3" stroke-opacity="0.92" stroke-width="2.2"/>
<circle cx="359.1" cy="2393.3" r="6.3" fill="#a3bce0" fill-opacity="0.88" stroke="#87a5d3" stroke-opacity="0.92" stroke-width="2.2"/>
<circle cx="240.6" cy="2408" r="6.3" fill="#a3bce0" fill-opacity="0.88" stroke="#87a5d3" stroke-opacity="0.92" stroke-width="2.2"/>
<circle cx="308" cy="2408" r="6.3" fill="#a3bce0" fill-opacity="0.88" stroke="#87a5d3" stroke-opacity="0.92" stroke-width="2.2"/>
<circle cx="130.4" cy="2412.9" r="6.3" fill="#a3bce0" fill-opacity="0.88" stroke="#87a5d3" stroke-opacity="0.92" stroke-width="2.2"/>
<circle cx="182.4" cy="2415.1" r="6.3" fill="#a3bce0" fill-opacity="0.88" stroke="#87a5d3" stroke-opacity="0.92" stroke-width="2.2"/>
<circle cx="190.9" cy="2418" r="6.3" fill="#a3bce0" fill-opacity="0.88" stroke="#87a5d3" stroke-opacity="0.92" stroke-width="2.2"/>
<circle cx="203.7" cy="2418" r="6.3" fill="#a3bce0" fill-opacity="0.88" stroke="#87a5d3" stroke-opacity="0.92" stroke-width="2.2"/>
<circle cx="211.4" cy="2418.8" r="6.3" fill="#a3bce0" fill-opacity="0.88" stroke="#87a5d3" stroke-opacity="0.92" stroke-width="2.2"/>
<circle cx="139" cy="2420.2" r="6.3" fill="#a3bce0" fill-opacity="0.88" stroke="#87a5d3" stroke-opacity="0.92" stroke-width="2.2"/>
<circle cx="194.6" cy="2430.2" r="6.3" fill="#a3bce0" fill-opacity="0.88" stroke="#87a5d3" stroke-opacity="0.92" stroke-width="2.2"/>
<circle cx="124.8" cy="2434.4" r="6.3" fill="#a3bce0" fill-opacity="0.88" stroke="#87a5d3" stroke-opacity="0.92" stroke-width="2.2"/>
<circle cx="194.6" cy="2450.6" r="6.3" fill="#a3bce0" fill-opacity="0.88" stroke="#87a5d3" stroke-opacity="0.92" stroke-width="2.2"/>
<circle cx="271.2" cy="1984.2" r="6.3" fill="#a3bce0" fill-opacity="0.88" stroke="#87a5d3" stroke-opacity="0.92" stroke-width="2.2"/>
<rect x="112.6" y="1970.5" width="461" height="493.2" fill="none" stroke="#000" stroke-width="2.9" />
<line x1="100.9" y1="2371.4" x2="112.6" y2="2371.4" stroke="#000" stroke-width="2.6" />
<text x="90.8" y="2380.6" font-size="25.7" text-anchor="end" font-weight="bold" fill="#000" font-family="'Liberation Sans', Arial, Helvetica, sans-serif" >0.5</text>
<line x1="100.9" y1="2273.2" x2="112.6" y2="2273.2" stroke="#000" stroke-width="2.6" />
<text x="90.8" y="2282.4" font-size="25.7" text-anchor="end" font-weight="bold" fill="#000" font-family="'Liberation Sans', Arial, Helvetica, sans-serif" >1.0</text>
<line x1="100.9" y1="2175.1" x2="112.6" y2="2175.1" stroke="#000" stroke-width="2.6" />
<text x="90.8" y="2184.3" font-size="25.7" text-anchor="end" font-weight="bold" fill="#000" font-family="'Liberation Sans', Arial, Helvetica, sans-serif" >1.5</text>
<line x1="100.9" y1="2076.9" x2="112.6" y2="2076.9" stroke="#000" stroke-width="2.6" />
<text x="90.8" y="2086.1" font-size="25.7" text-anchor="end" font-weight="bold" fill="#000" font-family="'Liberation Sans', Arial, Helvetica, sans-serif" >2.0</text>
<line x1="100.9" y1="1978.8" x2="112.6" y2="1978.8" stroke="#000" stroke-width="2.6" />
<text x="90.8" y="1988" font-size="25.7" text-anchor="end" font-weight="bold" fill="#000" font-family="'Liberation Sans', Arial, Helvetica, sans-serif" >2.5</text>
<line x1="209.9" y1="2463.7" x2="209.9" y2="2475.8" stroke="#000" stroke-width="2.6" />
<text x="209.9" y="2505.7" font-size="25" text-anchor="middle" font-weight="bold" fill="#000" font-family="'Liberation Sans', Arial, Helvetica, sans-serif" >0.4</text>
<line x1="322.8" y1="2463.7" x2="322.8" y2="2475.8" stroke="#000" stroke-width="2.6" />
<text x="322.8" y="2505.7" font-size="25" text-anchor="middle" font-weight="bold" fill="#000" font-family="'Liberation Sans', Arial, Helvetica, sans-serif" >0.8</text>
<line x1="435.7" y1="2463.7" x2="435.7" y2="2475.8" stroke="#000" stroke-width="2.6" />
<text x="435.7" y="2505.7" font-size="25" text-anchor="middle" font-weight="bold" fill="#000" font-family="'Liberation Sans', Arial, Helvetica, sans-serif" >1.2</text>
<line x1="548.7" y1="2463.7" x2="548.7" y2="2475.8" stroke="#000" stroke-width="2.6" />
<text x="548.7" y="2505.7" font-size="25" text-anchor="middle" font-weight="bold" fill="#000" font-family="'Liberation Sans', Arial, Helvetica, sans-serif" >1.6</text>
<text x="366.1" y="2542.7" font-size="33" text-anchor="middle" font-weight="bold" fill="#000" font-family="'Liberation Sans', Arial, Helvetica, sans-serif" >SOS1</text>
<text transform="translate(43.5 2202.4) rotate(-90) scale(1 1.08)" font-size="32.9" text-anchor="middle" font-weight="bold" font-family="'Liberation Sans', Arial, Helvetica, sans-serif">circ_0042881</text>
<text x="448" y="2368.3" font-size="25" text-anchor="start" font-weight="bold" fill="#000" font-family="'Liberation Sans', Arial, Helvetica, sans-serif" >Pearson</text>
<text x="448" y="2400.9" font-size="25" text-anchor="start" font-weight="bold" fill="#000" font-family="'Liberation Sans', Arial, Helvetica, sans-serif" >R=0.504</text>
<text x="448" y="2434.4" font-size="25" text-anchor="start" font-weight="bold" fill="#000" font-family="'Liberation Sans', Arial, Helvetica, sans-serif" >P=0.001</text>
<defs><filter id="bl" x="-30%" y="-60%" width="160%" height="220%"><feGaussianBlur stdDeviation="2.6"/></filter><filter id="bl2" x="-30%" y="-60%" width="160%" height="220%"><feGaussianBlur stdDeviation="5"/></filter></defs>
<rect x="791.5" y="2021.5" width="246.3" height="64.5" fill="#e4e4e4"/>
<rect x="851.2" y="2021.5" width="12" height="64.5" fill="#ececec" filter="url(#bl)"/>
<rect x="906.9" y="2021.5" width="12" height="64.5" fill="#ececec" filter="url(#bl)"/>
<rect x="962.9" y="2021.5" width="12" height="64.5" fill="#ececec" filter="url(#bl)"/>
<rect x="793.5" y="2021.5" width="7" height="64.5" fill="#e8e8e8" filter="url(#bl)"/>
<rect x="1028.8" y="2021.5" width="7" height="64.5" fill="#e8e8e8" filter="url(#bl)"/>
<g filter="url(#bl)" opacity="0.3"><ellipse cx="814.5" cy="2036" rx="4.2" ry="4"/><ellipse cx="844.5" cy="2036" rx="4.2" ry="4"/><rect x="814.5" y="2032.8" width="30" height="6.4"/></g>
<g filter="url(#bl)" opacity="0.25"><ellipse cx="926.7" cy="2036" rx="4.2" ry="4"/><ellipse cx="954.7" cy="2036" rx="4.2" ry="4"/><rect x="926.7" y="2032.8" width="28" height="6.4"/></g>
<g filter="url(#bl)" opacity="0.3"><ellipse cx="982" cy="2036" rx="4.2" ry="4"/><ellipse cx="1012" cy="2036" rx="4.2" ry="4"/><rect x="982" y="2032.8" width="30" height="6.4"/></g>
<g filter="url(#bl)" opacity="1.0"><ellipse cx="816.5" cy="2053" rx="9.5" ry="9"/><ellipse cx="842.5" cy="2053" rx="9.5" ry="9"/><rect x="816.5" y="2045.3" width="26" height="15.3"/></g>
<g filter="url(#bl)" opacity="0.85"><ellipse cx="872.5" cy="2053" rx="5.8" ry="5.5"/><ellipse cx="897.5" cy="2053" rx="5.8" ry="5.5"/><rect x="872.5" y="2050.5" width="25" height="5"/></g>
<g filter="url(#bl)" opacity="1.0"><ellipse cx="926.7" cy="2052.5" rx="7.4" ry="7"/><ellipse cx="954.7" cy="2052.5" rx="7.4" ry="7"/><rect x="926.7" y="2047.6" width="28" height="9.8"/></g>
<g filter="url(#bl)" opacity="1.0"><ellipse cx="983" cy="2052.5" rx="8.4" ry="8"/><ellipse cx="1011" cy="2052.5" rx="8.4" ry="8"/><rect x="983" y="2046.1" width="28" height="12.8"/></g>
<rect x="791.5" y="2021.5" width="246.3" height="64.5" rx="2" fill="none" stroke="#000" stroke-width="3.2"/>
<rect x="791.5" y="2105" width="246.3" height="63" fill="#e4e4e4"/>
<rect x="851.2" y="2105" width="12" height="63" fill="#ececec" filter="url(#bl)"/>
<rect x="906.9" y="2105" width="12" height="63" fill="#ececec" filter="url(#bl)"/>
<rect x="962.9" y="2105" width="12" height="63" fill="#ececec" filter="url(#bl)"/>
<rect x="793.5" y="2105" width="7" height="63" fill="#e8e8e8" filter="url(#bl)"/>
<rect x="1028.8" y="2105" width="7" height="63" fill="#e8e8e8" filter="url(#bl)"/>
<g filter="url(#bl)" opacity="0.97"><ellipse cx="817" cy="2139" rx="10" ry="9.5"/><ellipse cx="842" cy="2139" rx="10" ry="9.5"/><rect x="817" y="2131.4" width="25" height="15.2"/></g>
<g filter="url(#bl)" opacity="0.75"><ellipse cx="871.5" cy="2139.5" rx="6.8" ry="6.5"/><ellipse cx="898.5" cy="2139.5" rx="6.8" ry="6.5"/><rect x="871.5" y="2135.6" width="27" height="7.8"/></g>
<g filter="url(#bl)" opacity="0.97"><ellipse cx="927.7" cy="2139" rx="8.9" ry="8.5"/><ellipse cx="953.7" cy="2139" rx="8.9" ry="8.5"/><rect x="927.7" y="2133.1" width="26" height="11.9"/></g>
<g filter="url(#bl)" opacity="1.0"><ellipse cx="986.5" cy="2139.5" rx="13.1" ry="12.5"/><ellipse cx="1007.5" cy="2139.5" rx="13.1" ry="12.5"/><rect x="986.5" y="2128.9" width="21" height="21.2"/></g>
<rect x="791.5" y="2105" width="246.3" height="63" rx="2" fill="none" stroke="#000" stroke-width="3.2"/>
<rect x="791.5" y="2186" width="246.3" height="62" fill="#e4e4e4"/>
<rect x="851.2" y="2186" width="12" height="62" fill="#ececec" filter="url(#bl)"/>
<rect x="906.9" y="2186" width="12" height="62" fill="#ececec" filter="url(#bl)"/>
<rect x="962.9" y="2186" width="12" height="62" fill="#ececec" filter="url(#bl)"/>
<rect x="793.5" y="2186" width="7" height="62" fill="#e8e8e8" filter="url(#bl)"/>
<rect x="1028.8" y="2186" width="7" height="62" fill="#e8e8e8" filter="url(#bl)"/>
<rect x="811.5" y="2190" width="36" height="50" fill="#000" opacity="0.06" filter="url(#bl2)"/>
<rect x="867" y="2190" width="36" height="50" fill="#000" opacity="0.06" filter="url(#bl2)"/>
<rect x="922.7" y="2190" width="36" height="50" fill="#000" opacity="0.06" filter="url(#bl2)"/>
<rect x="979" y="2190" width="36" height="50" fill="#000" opacity="0.06" filter="url(#bl2)"/>
<g filter="url(#bl)" opacity="0.9"><ellipse cx="813.5" cy="2215.5" rx="5.2" ry="5"/><ellipse cx="845.5" cy="2215.5" rx="5.2" ry="5"/><rect x="813.5" y="2211.5" width="32" height="8"/></g>
<g filter="url(#bl)" opacity="0.97"><ellipse cx="869" cy="2215" rx="6.3" ry="6"/><ellipse cx="901" cy="2215" rx="6.3" ry="6"/><rect x="869" y="2210.2" width="32" height="9.6"/></g>
<g filter="url(#bl)" opacity="0.95"><ellipse cx="925.2" cy="2215" rx="5.8" ry="5.5"/><ellipse cx="956.2" cy="2215" rx="5.8" ry="5.5"/><rect x="925.2" y="2210.6" width="31" height="8.8"/></g>
<g filter="url(#bl)" opacity="0.95"><ellipse cx="981.5" cy="2215.5" rx="5.8" ry="5.5"/><ellipse cx="1012.5" cy="2215.5" rx="5.8" ry="5.5"/><rect x="981.5" y="2211.1" width="31" height="8.8"/></g>
<rect x="791.5" y="2186" width="246.3" height="62" rx="2" fill="none" stroke="#000" stroke-width="3.2"/>
<rect x="791.5" y="2264" width="246.3" height="62" fill="#e4e4e4"/>
<rect x="851.2" y="2264" width="12" height="62" fill="#ececec" filter="url(#bl)"/>
<rect x="906.9" y="2264" width="12" height="62" fill="#ececec" filter="url(#bl)"/>
<rect x="962.9" y="2264" width="12" height="62" fill="#ececec" filter="url(#bl)"/>
<rect x="793.5" y="2264" width="7" height="62" fill="#e8e8e8" filter="url(#bl)"/>
<rect x="1028.8" y="2264" width="7" height="62" fill="#e8e8e8" filter="url(#bl)"/>
<g filter="url(#bl)" opacity="0.6"><ellipse cx="811.5" cy="2289" rx="4.2" ry="4"/><ellipse cx="847.5" cy="2289" rx="4.2" ry="4"/><rect x="811.5" y="2285.8" width="36" height="6.4"/></g>
<g filter="url(#bl)" opacity="1.0"><ellipse cx="811.5" cy="2303.5" rx="8.4" ry="8"/><ellipse cx="847.5" cy="2303.5" rx="8.4" ry="8"/><rect x="811.5" y="2296.7" width="36" height="13.6"/></g>
<g filter="url(#bl)" opacity="1.0"><ellipse cx="865.5" cy="2301" rx="5.8" ry="5.5"/><ellipse cx="880.5" cy="2301" rx="5.8" ry="5.5"/><rect x="865.5" y="2296.6" width="15" height="8.8"/></g>
<g filter="url(#bl)" opacity="0.35"><ellipse cx="892.5" cy="2301" rx="3.7" ry="3.5"/><ellipse cx="901.5" cy="2301" rx="3.7" ry="3.5"/><rect x="892.5" y="2298.2" width="9" height="5.6"/></g>
<g filter="url(#bl)" opacity="0.4"><ellipse cx="924.2" cy="2288" rx="3.7" ry="3.5"/><ellipse cx="957.2" cy="2288" rx="3.7" ry="3.5"/><rect x="924.2" y="2285.2" width="33" height="5.6"/></g>
<g filter="url(#bl)" opacity="1.0"><ellipse cx="924.2" cy="2300" rx="6.8" ry="6.5"/><ellipse cx="957.2" cy="2300" rx="6.8" ry="6.5"/><rect x="924.2" y="2296.8" width="33" height="6.5"/></g>
<g filter="url(#bl)" opacity="0.6"><ellipse cx="979.5" cy="2287" rx="4.7" ry="4.5"/><ellipse cx="1014.5" cy="2287" rx="4.7" ry="4.5"/><rect x="979.5" y="2283.4" width="35" height="7.2"/></g>
<g filter="url(#bl)" opacity="1.0"><ellipse cx="982" cy="2298.5" rx="11.6" ry="11"/><ellipse cx="1012" cy="2298.5" rx="11.6" ry="11"/><rect x="982" y="2288.6" width="30" height="19.8"/></g>
<rect x="791.5" y="2264" width="246.3" height="62" rx="2" fill="none" stroke="#000" stroke-width="3.2"/>
<rect x="791.5" y="2347.5" width="246.3" height="62.5" fill="#e4e4e4"/>
<rect x="851.2" y="2347.5" width="12" height="62.5" fill="#ececec" filter="url(#bl)"/>
<rect x="906.9" y="2347.5" width="12" height="62.5" fill="#ececec" filter="url(#bl)"/>
<rect x="962.9" y="2347.5" width="12" height="62.5" fill="#ececec" filter="url(#bl)"/>
<rect x="793.5" y="2347.5" width="7" height="62.5" fill="#e8e8e8" filter="url(#bl)"/>
<rect x="1028.8" y="2347.5" width="7" height="62.5" fill="#e8e8e8" filter="url(#bl)"/>
<rect x="811.5" y="2350" width="36" height="22" fill="#000" opacity="0.35" filter="url(#bl2)"/>
<rect x="867" y="2350" width="36" height="22" fill="#000" opacity="0.3" filter="url(#bl2)"/>
<rect x="922.7" y="2350" width="36" height="22" fill="#000" opacity="0.3" filter="url(#bl2)"/>
<rect x="979" y="2350" width="36" height="22" fill="#000" opacity="0.35" filter="url(#bl2)"/>
<g filter="url(#bl)" opacity="1.0"><ellipse cx="811.5" cy="2373" rx="5.2" ry="5"/><ellipse cx="847.5" cy="2373" rx="5.2" ry="5"/><rect x="811.5" y="2368.5" width="36" height="9"/></g>
<g filter="url(#bl)" opacity="1.0"><ellipse cx="812" cy="2385" rx="5.8" ry="5.5"/><ellipse cx="847" cy="2385" rx="5.8" ry="5.5"/><rect x="812" y="2380.1" width="35" height="9.9"/></g>
<g filter="url(#bl)" opacity="0.9"><ellipse cx="868.5" cy="2373" rx="4.7" ry="4.5"/><ellipse cx="901.5" cy="2373" rx="4.7" ry="4.5"/><rect x="868.5" y="2369.2" width="33" height="7.6"/></g>
<g filter="url(#bl)" opacity="1.0"><ellipse cx="869" cy="2385" rx="5.2" ry="5"/><ellipse cx="901" cy="2385" rx="5.2" ry="5"/><rect x="869" y="2380.8" width="32" height="8.5"/></g>
<g filter="url(#bl)" opacity="0.95"><ellipse cx="924.7" cy="2373" rx="5.2" ry="5"/><ellipse cx="956.7" cy="2373" rx="5.2" ry="5"/><rect x="924.7" y="2368.8" width="32" height="8.5"/></g>
<g filter="url(#bl)" opacity="1.0"><ellipse cx="924.7" cy="2385" rx="5.2" ry="5"/><ellipse cx="956.7" cy="2385" rx="5.2" ry="5"/><rect x="924.7" y="2380.8" width="32" height="8.5"/></g>
<g filter="url(#bl)" opacity="0.9"><ellipse cx="980.5" cy="2373" rx="4.7" ry="4.5"/><ellipse cx="1013.5" cy="2373" rx="4.7" ry="4.5"/><rect x="980.5" y="2369.2" width="33" height="7.6"/></g>
<g filter="url(#bl)" opacity="0.95"><ellipse cx="981" cy="2385" rx="5.2" ry="5"/><ellipse cx="1013" cy="2385" rx="5.2" ry="5"/><rect x="981" y="2380.8" width="32" height="8.5"/></g>
<rect x="791.5" y="2347.5" width="246.3" height="62.5" rx="2" fill="none" stroke="#000" stroke-width="3.2"/>
<rect x="791.5" y="2427.5" width="246.3" height="64.5" fill="#e4e4e4"/>
<rect x="851.2" y="2427.5" width="12" height="64.5" fill="#ececec" filter="url(#bl)"/>
<rect x="906.9" y="2427.5" width="12" height="64.5" fill="#ececec" filter="url(#bl)"/>
<rect x="962.9" y="2427.5" width="12" height="64.5" fill="#ececec" filter="url(#bl)"/>
<rect x="793.5" y="2427.5" width="7" height="64.5" fill="#e8e8e8" filter="url(#bl)"/>
<rect x="1028.8" y="2427.5" width="7" height="64.5" fill="#e8e8e8" filter="url(#bl)"/>
<g filter="url(#bl)" opacity="0.9"><ellipse cx="812" cy="2462" rx="6.8" ry="6.5"/><ellipse cx="847" cy="2462" rx="6.8" ry="6.5"/><rect x="812" y="2456.8" width="35" height="10.4"/></g>
<g filter="url(#bl)" opacity="1.0"><ellipse cx="868.5" cy="2462" rx="7.4" ry="7"/><ellipse cx="901.5" cy="2462" rx="7.4" ry="7"/><rect x="868.5" y="2456.1" width="33" height="11.9"/></g>
<g filter="url(#bl)" opacity="1.0"><ellipse cx="922.7" cy="2462" rx="7.4" ry="7"/><ellipse cx="958.7" cy="2462" rx="7.4" ry="7"/><rect x="922.7" y="2455.7" width="36" height="12.6"/></g>
<g filter="url(#bl)" opacity="1.0"><ellipse cx="980.5" cy="2461" rx="8.9" ry="8.5"/><ellipse cx="1013.5" cy="2461" rx="8.9" ry="8.5"/><rect x="980.5" y="2453.3" width="33" height="15.3"/></g>
<rect x="791.5" y="2427.5" width="246.3" height="64.5" rx="2" fill="none" stroke="#000" stroke-width="3.2"/>
<text x="778.1" y="2066.2" font-size="42" text-anchor="end" font-weight="bold" fill="#000" font-family="'Liberation Sans', Arial, Helvetica, sans-serif" >SOS1</text>
<text x="775.6" y="2152.7" font-size="42" text-anchor="end" font-weight="bold" fill="#000" font-family="'Liberation Sans', Arial, Helvetica, sans-serif" >p-AKT</text>
<text x="775.6" y="2232.1" font-size="42" text-anchor="end" font-weight="bold" fill="#000" font-family="'Liberation Sans', Arial, Helvetica, sans-serif" >AKT</text>
<text x="779.5" y="2314.5" font-size="42" text-anchor="end" font-weight="bold" fill="#000" font-family="'Liberation Sans', Arial, Helvetica, sans-serif" >p-ERK</text>
<text x="779.5" y="2394.1" font-size="42" text-anchor="end" font-weight="bold" fill="#000" font-family="'Liberation Sans', Arial, Helvetica, sans-serif" >ERK</text>
<text x="779.5" y="2472.2" font-size="42" text-anchor="end" font-weight="bold" fill="#000" font-family="'Liberation Sans', Arial, Helvetica, sans-serif" >β-Actin</text>
<text x="1057.5" y="2069.4" font-size="42" text-anchor="start" font-weight="bold" fill="#000" font-family="'Liberation Sans', Arial, Helvetica, sans-serif" >152kDa</text>
<text x="1057.5" y="2156.2" font-size="42" text-anchor="start" font-weight="bold" fill="#000" font-family="'Liberation Sans', Arial, Helvetica, sans-serif" >60kDa</text>
<text x="1057.5" y="2231.4" font-size="42" text-anchor="start" font-weight="bold" fill="#000" font-family="'Liberation Sans', Arial, Helvetica, sans-serif" >60kDa</text>
<text x="1057.5" y="2314.5" font-size="42" text-anchor="start" font-weight="bold" fill="#000" font-family="'Liberation Sans', Arial, Helvetica, sans-serif" >40kDa</text>
<text x="1057.5" y="2394.1" font-size="42" text-anchor="start" font-weight="bold" fill="#000" font-family="'Liberation Sans', Arial, Helvetica, sans-serif" >40kDa</text>
<text x="1057.5" y="2469" font-size="42" text-anchor="start" font-weight="bold" fill="#000" font-family="'Liberation Sans', Arial, Helvetica, sans-serif" >42kDa</text>
<text transform="translate(833 2003) rotate(-46)" font-size="42.3" font-weight="bold" font-family="'Liberation Sans', Arial, Helvetica, sans-serif">si-NC</text>
<text transform="translate(884 2006) rotate(-46)" font-size="42.3" font-weight="bold" font-family="'Liberation Sans', Arial, Helvetica, sans-serif">si-circ</text>
<text transform="translate(941 2007) rotate(-46)" font-size="42.3" font-weight="bold" font-family="'Liberation Sans', Arial, Helvetica, sans-serif">NC</text>
<text transform="translate(994 2009) rotate(-46)" font-size="42.3" font-weight="bold" font-family="'Liberation Sans', Arial, Helvetica, sans-serif">oe-circ</text>
<rect x="1431.5" y="2019.5" width="308.5" height="63.5" fill="#e0e0e0"/>
<rect x="1501.6" y="2019.5" width="12" height="63.5" fill="#ececec" filter="url(#bl)"/>
<rect x="1556.5" y="2019.5" width="12" height="63.5" fill="#ececec" filter="url(#bl)"/>
<rect x="1610.8" y="2019.5" width="12" height="63.5" fill="#ececec" filter="url(#bl)"/>
<rect x="1665.4" y="2019.5" width="12" height="63.5" fill="#ececec" filter="url(#bl)"/>
<rect x="1433.5" y="2019.5" width="7" height="63.5" fill="#e8e8e8" filter="url(#bl)"/>
<rect x="1731" y="2019.5" width="7" height="63.5" fill="#e8e8e8" filter="url(#bl)"/>
<rect x="1461.9" y="2025" width="36" height="50" fill="#000" opacity="0.07" filter="url(#bl2)"/>
<rect x="1517.2" y="2025" width="36" height="50" fill="#000" opacity="0.07" filter="url(#bl2)"/>
<rect x="1571.7" y="2025" width="36" height="50" fill="#000" opacity="0.07" filter="url(#bl2)"/>
<rect x="1625.8" y="2025" width="36" height="50" fill="#000" opacity="0.07" filter="url(#bl2)"/>
<rect x="1681.1" y="2025" width="36" height="50" fill="#000" opacity="0.07" filter="url(#bl2)"/>
<g filter="url(#bl)" opacity="0.95"><ellipse cx="1467.4" cy="2051.5" rx="6.8" ry="6.5"/><ellipse cx="1492.4" cy="2051.5" rx="6.8" ry="6.5"/><rect x="1467.4" y="2047.6" width="25" height="7.8"/></g>
<g filter="url(#bl)" opacity="1.0"><ellipse cx="1522.7" cy="2051.5" rx="7.9" ry="7.5"/><ellipse cx="1547.7" cy="2051.5" rx="7.9" ry="7.5"/><rect x="1522.7" y="2046.2" width="25" height="10.5"/></g>
<g filter="url(#bl)" opacity="1.0"><ellipse cx="1577.2" cy="2051.5" rx="8.9" ry="8.5"/><ellipse cx="1602.2" cy="2051.5" rx="8.9" ry="8.5"/><rect x="1577.2" y="2045.1" width="25" height="12.8"/></g>
<g filter="url(#bl)" opacity="0.92"><ellipse cx="1630.8" cy="2051.5" rx="5.8" ry="5.5"/><ellipse cx="1656.8" cy="2051.5" rx="5.8" ry="5.5"/><rect x="1630.8" y="2048.2" width="26" height="6.6"/></g>
<g filter="url(#bl)" opacity="0.8"><ellipse cx="1685.6" cy="2051.5" rx="4.2" ry="4"/><ellipse cx="1712.6" cy="2051.5" rx="4.2" ry="4"/><rect x="1685.6" y="2049.5" width="27" height="4"/></g>
<rect x="1431.5" y="2019.5" width="308.5" height="63.5" rx="2" fill="none" stroke="#000" stroke-width="3.2"/>
<rect x="1431.5" y="2097" width="308.5" height="63" fill="#e0e0e0"/>
<rect x="1501.6" y="2097" width="12" height="63" fill="#ececec" filter="url(#bl)"/>
<rect x="1556.5" y="2097" width="12" height="63" fill="#ececec" filter="url(#bl)"/>
<rect x="1610.8" y="2097" width="12" height="63" fill="#ececec" filter="url(#bl)"/>
<rect x="1665.4" y="2097" width="12" height="63" fill="#ececec" filter="url(#bl)"/>
<rect x="1433.5" y="2097" width="7" height="63" fill="#e8e8e8" filter="url(#bl)"/>
<rect x="1731" y="2097" width="7" height="63" fill="#e8e8e8" filter="url(#bl)"/>
<g filter="url(#bl)" opacity="0.9"><ellipse cx="1465.4" cy="2131" rx="6.8" ry="6.5"/><ellipse cx="1494.4" cy="2131" rx="6.8" ry="6.5"/><rect x="1465.4" y="2127.1" width="29" height="7.8"/></g>
<g filter="url(#bl)" opacity="1.0"><ellipse cx="1524.2" cy="2131.5" rx="10.5" ry="10"/><ellipse cx="1546.2" cy="2131.5" rx="10.5" ry="10"/><rect x="1524.2" y="2123.5" width="22" height="16"/></g>
<g filter="url(#bl)" opacity="1.0"><ellipse cx="1580.7" cy="2131" rx="11.6" ry="11"/><ellipse cx="1598.7" cy="2131" rx="11.6" ry="11"/><rect x="1580.7" y="2121.7" width="18" height="18.7"/></g>
<g filter="url(#bl)" opacity="0.9"><ellipse cx="1629.8" cy="2130" rx="6.3" ry="6"/><ellipse cx="1657.8" cy="2130" rx="6.3" ry="6"/><rect x="1629.8" y="2126.4" width="28" height="7.2"/></g>
<g filter="url(#bl)" opacity="0.85"><ellipse cx="1683.6" cy="2130" rx="5.2" ry="5"/><ellipse cx="1714.6" cy="2130" rx="5.2" ry="5"/><rect x="1683.6" y="2127" width="31" height="6"/></g>
<rect x="1431.5" y="2097" width="308.5" height="63" rx="2" fill="none" stroke="#000" stroke-width="3.2"/>
<rect x="1431.5" y="2179" width="308.5" height="63.5" fill="#e0e0e0"/>
<rect x="1501.6" y="2179" width="12" height="63.5" fill="#ececec" filter="url(#bl)"/>
<rect x="1556.5" y="2179" width="12" height="63.5" fill="#ececec" filter="url(#bl)"/>
<rect x="1610.8" y="2179" width="12" height="63.5" fill="#ececec" filter="url(#bl)"/>
<rect x="1665.4" y="2179" width="12" height="63.5" fill="#ececec" filter="url(#bl)"/>
<rect x="1433.5" y="2179" width="7" height="63.5" fill="#e8e8e8" filter="url(#bl)"/>
<rect x="1731" y="2179" width="7" height="63.5" fill="#e8e8e8" filter="url(#bl)"/>
<rect x="1461.9" y="2181" width="36" height="24" fill="#000" opacity="0.3" filter="url(#bl2)"/>
<rect x="1517.2" y="2181" width="36" height="24" fill="#000" opacity="0.22" filter="url(#bl2)"/>
<rect x="1571.7" y="2181" width="36" height="24" fill="#000" opacity="0.2" filter="url(#bl2)"/>
<rect x="1625.8" y="2181" width="36" height="24" fill="#000" opacity="0.3" filter="url(#bl2)"/>
<rect x="1681.1" y="2181" width="36" height="24" fill="#000" opacity="0.3" filter="url(#bl2)"/>
<g filter="url(#bl)" opacity="1.0"><ellipse cx="1464.9" cy="2211" rx="8.4" ry="8"/><ellipse cx="1494.9" cy="2211" rx="8.4" ry="8"/><rect x="1464.9" y="2204.6" width="30" height="12.8"/></g>
<g filter="url(#bl)" opacity="0.95"><ellipse cx="1521.7" cy="2211" rx="6.3" ry="6"/><ellipse cx="1548.7" cy="2211" rx="6.3" ry="6"/><rect x="1521.7" y="2206.2" width="27" height="9.6"/></g>
<g filter="url(#bl)" opacity="0.9"><ellipse cx="1576.2" cy="2211" rx="5.2" ry="5"/><ellipse cx="1603.2" cy="2211" rx="5.2" ry="5"/><rect x="1576.2" y="2207" width="27" height="8"/></g>
<g filter="url(#bl)" opacity="1.0"><ellipse cx="1630.3" cy="2211" rx="7.9" ry="7.5"/><ellipse cx="1657.3" cy="2211" rx="7.9" ry="7.5"/><rect x="1630.3" y="2205" width="27" height="12"/></g>
<g filter="url(#bl)" opacity="1.0"><ellipse cx="1686.1" cy="2211" rx="8.4" ry="8"/><ellipse cx="1712.1" cy="2211" rx="8.4" ry="8"/><rect x="1686.1" y="2204.6" width="26" height="12.8"/></g>
<rect x="1431.5" y="2179" width="308.5" height="63.5" rx="2" fill="none" stroke="#000" stroke-width="3.2"/>
<rect x="1431.5" y="2261.5" width="308.5" height="63.5" fill="#e0e0e0"/>
<rect x="1501.6" y="2261.5" width="12" height="63.5" fill="#ececec" filter="url(#bl)"/>
<rect x="1556.5" y="2261.5" width="12" height="63.5" fill="#ececec" filter="url(#bl)"/>
<rect x="1610.8" y="2261.5" width="12" height="63.5" fill="#ececec" filter="url(#bl)"/>
<rect x="1665.4" y="2261.5" width="12" height="63.5" fill="#ececec" filter="url(#bl)"/>
<rect x="1433.5" y="2261.5" width="7" height="63.5" fill="#e8e8e8" filter="url(#bl)"/>
<rect x="1731" y="2261.5" width="7" height="63.5" fill="#e8e8e8" filter="url(#bl)"/>
<rect x="1461.9" y="2265" width="36" height="18" fill="#000" opacity="0.1" filter="url(#bl2)"/>
<rect x="1517.2" y="2265" width="36" height="18" fill="#000" opacity="0.1" filter="url(#bl2)"/>
<rect x="1571.7" y="2265" width="36" height="18" fill="#000" opacity="0.1" filter="url(#bl2)"/>
<rect x="1625.8" y="2265" width="36" height="18" fill="#000" opacity="0.1" filter="url(#bl2)"/>
<rect x="1681.1" y="2265" width="36" height="18" fill="#000" opacity="0.1" filter="url(#bl2)"/>
<g filter="url(#bl)" opacity="0.25"><ellipse cx="1464.4" cy="2289" rx="3.7" ry="3.5"/><ellipse cx="1495.4" cy="2289" rx="3.7" ry="3.5"/><rect x="1464.4" y="2286.2" width="31" height="5.6"/></g>
<g filter="url(#bl)" opacity="0.9"><ellipse cx="1463.9" cy="2302" rx="5.2" ry="5"/><ellipse cx="1495.9" cy="2302" rx="5.2" ry="5"/><rect x="1463.9" y="2299" width="32" height="6"/></g>
<g filter="url(#bl)" opacity="1.0"><ellipse cx="1528.7" cy="2297" rx="17.3" ry="16.5"/><ellipse cx="1541.7" cy="2297" rx="17.3" ry="16.5"/><rect x="1528.7" y="2282.2" width="13" height="29.7"/></g>
<g filter="url(#bl)" opacity="1.0"><ellipse cx="1584.2" cy="2297" rx="17.3" ry="16.5"/><ellipse cx="1595.2" cy="2297" rx="17.3" ry="16.5"/><rect x="1584.2" y="2282.2" width="11" height="29.7"/></g>
<g filter="url(#bl)" opacity="0.2"><ellipse cx="1629.3" cy="2289" rx="3.7" ry="3.5"/><ellipse cx="1658.3" cy="2289" rx="3.7" ry="3.5"/><rect x="1629.3" y="2286.2" width="29" height="5.6"/></g>
<g filter="url(#bl)" opacity="0.9"><ellipse cx="1630.8" cy="2302" rx="5.2" ry="5"/><ellipse cx="1656.8" cy="2302" rx="5.2" ry="5"/><rect x="1630.8" y="2299" width="26" height="6"/></g>
<g filter="url(#bl)" opacity="0.25"><ellipse cx="1683.6" cy="2289" rx="3.7" ry="3.5"/><ellipse cx="1714.6" cy="2289" rx="3.7" ry="3.5"/><rect x="1683.6" y="2286.2" width="31" height="5.6"/></g>
<g filter="url(#bl)" opacity="0.9"><ellipse cx="1684.6" cy="2302" rx="5.8" ry="5.5"/><ellipse cx="1713.6" cy="2302" rx="5.8" ry="5.5"/><rect x="1684.6" y="2298.7" width="29" height="6.6"/></g>
<rect x="1431.5" y="2261.5" width="308.5" height="63.5" rx="2" fill="none" stroke="#000" stroke-width="3.2"/>
<rect x="1431.5" y="2342.5" width="308.5" height="64" fill="#e0e0e0"/>
<rect x="1501.6" y="2342.5" width="12" height="64" fill="#ececec" filter="url(#bl)"/>
<rect x="1556.5" y="2342.5" width="12" height="64" fill="#ececec" filter="url(#bl)"/>
<rect x="1610.8" y="2342.5" width="12" height="64" fill="#ececec" filter="url(#bl)"/>
<rect x="1665.4" y="2342.5" width="12" height="64" fill="#ececec" filter="url(#bl)"/>
<rect x="1433.5" y="2342.5" width="7" height="64" fill="#e8e8e8" filter="url(#bl)"/>
<rect x="1731" y="2342.5" width="7" height="64" fill="#e8e8e8" filter="url(#bl)"/>
<rect x="1461.9" y="2345" width="36" height="20" fill="#000" opacity="0.12" filter="url(#bl2)"/>
<rect x="1517.2" y="2345" width="36" height="20" fill="#000" opacity="0.12" filter="url(#bl2)"/>
<rect x="1571.7" y="2345" width="36" height="20" fill="#000" opacity="0.12" filter="url(#bl2)"/>
<rect x="1625.8" y="2345" width="36" height="20" fill="#000" opacity="0.12" filter="url(#bl2)"/>
<rect x="1681.1" y="2345" width="36" height="20" fill="#000" opacity="0.12" filter="url(#bl2)"/>
<g filter="url(#bl)" opacity="1.0"><ellipse cx="1469.9" cy="2373.5" rx="13.7" ry="13"/><ellipse cx="1489.9" cy="2373.5" rx="13.7" ry="13"/><rect x="1469.9" y="2361.8" width="20" height="23.4"/></g>
<g filter="url(#bl)" opacity="0.85"><ellipse cx="1518.7" cy="2367" rx="4.7" ry="4.5"/><ellipse cx="1551.7" cy="2367" rx="4.7" ry="4.5"/><rect x="1518.7" y="2363.4" width="33" height="7.2"/></g>
<g filter="url(#bl)" opacity="1.0"><ellipse cx="1519.2" cy="2381" rx="6.3" ry="6"/><ellipse cx="1551.2" cy="2381" rx="6.3" ry="6"/><rect x="1519.2" y="2375.9" width="32" height="10.2"/></g>
<g filter="url(#bl)" opacity="0.8"><ellipse cx="1573.7" cy="2367" rx="4.2" ry="4"/><ellipse cx="1605.7" cy="2367" rx="4.2" ry="4"/><rect x="1573.7" y="2363.8" width="32" height="6.4"/></g>
<g filter="url(#bl)" opacity="1.0"><ellipse cx="1574.2" cy="2381" rx="5.8" ry="5.5"/><ellipse cx="1605.2" cy="2381" rx="5.8" ry="5.5"/><rect x="1574.2" y="2376.3" width="31" height="9.3"/></g>
<g filter="url(#bl)" opacity="0.8"><ellipse cx="1628.8" cy="2367" rx="4.2" ry="4"/><ellipse cx="1658.8" cy="2367" rx="4.2" ry="4"/><rect x="1628.8" y="2363.8" width="30" height="6.4"/></g>
<g filter="url(#bl)" opacity="1.0"><ellipse cx="1629.3" cy="2381" rx="5.8" ry="5.5"/><ellipse cx="1658.3" cy="2381" rx="5.8" ry="5.5"/><rect x="1629.3" y="2376.3" width="29" height="9.3"/></g>
<g filter="url(#bl)" opacity="0.75"><ellipse cx="1683.6" cy="2368" rx="3.7" ry="3.5"/><ellipse cx="1714.6" cy="2368" rx="3.7" ry="3.5"/><rect x="1683.6" y="2365.2" width="31" height="5.6"/></g>
<g filter="url(#bl)" opacity="1.0"><ellipse cx="1684.1" cy="2381" rx="5.2" ry="5"/><ellipse cx="1714.1" cy="2381" rx="5.2" ry="5"/><rect x="1684.1" y="2376.8" width="30" height="8.5"/></g>
<rect x="1431.5" y="2342.5" width="308.5" height="64" rx="2" fill="none" stroke="#000" stroke-width="3.2"/>
<rect x="1431.5" y="2426" width="308.5" height="63" fill="#e0e0e0"/>
<rect x="1501.6" y="2426" width="12" height="63" fill="#ececec" filter="url(#bl)"/>
<rect x="1556.5" y="2426" width="12" height="63" fill="#ececec" filter="url(#bl)"/>
<rect x="1610.8" y="2426" width="12" height="63" fill="#ececec" filter="url(#bl)"/>
<rect x="1665.4" y="2426" width="12" height="63" fill="#ececec" filter="url(#bl)"/>
<rect x="1433.5" y="2426" width="7" height="63" fill="#e8e8e8" filter="url(#bl)"/>
<rect x="1731" y="2426" width="7" height="63" fill="#e8e8e8" filter="url(#bl)"/>
<g filter="url(#bl)" opacity="0.97"><ellipse cx="1461.9" cy="2458" rx="6.3" ry="6"/><ellipse cx="1497.9" cy="2458" rx="6.3" ry="6"/><rect x="1461.9" y="2453.2" width="36" height="9.6"/></g>
<g filter="url(#bl)" opacity="0.97"><ellipse cx="1519.2" cy="2458" rx="6.3" ry="6"/><ellipse cx="1551.2" cy="2458" rx="6.3" ry="6"/><rect x="1519.2" y="2453.2" width="32" height="9.6"/></g>
<g filter="url(#bl)" opacity="0.97"><ellipse cx="1574.7" cy="2458" rx="6.3" ry="6"/><ellipse cx="1604.7" cy="2458" rx="6.3" ry="6"/><rect x="1574.7" y="2453.2" width="30" height="9.6"/></g>
<g filter="url(#bl)" opacity="0.95"><ellipse cx="1629.8" cy="2458" rx="5.2" ry="5"/><ellipse cx="1657.8" cy="2458" rx="5.2" ry="5"/><rect x="1629.8" y="2454.5" width="28" height="7"/></g>
<g filter="url(#bl)" opacity="1.0"><ellipse cx="1684.1" cy="2457.5" rx="8.4" ry="8"/><ellipse cx="1714.1" cy="2457.5" rx="8.4" ry="8"/><rect x="1684.1" y="2450.7" width="30" height="13.6"/></g>
<rect x="1431.5" y="2426" width="308.5" height="63" rx="2" fill="none" stroke="#000" stroke-width="3.2"/>
<text x="1413.5" y="2062" font-size="43" text-anchor="end" font-weight="bold" fill="#000" font-family="'Liberation Sans', Arial, Helvetica, sans-serif" >SOS1</text>
<text x="1409" y="2150.6" font-size="43" text-anchor="end" font-weight="bold" fill="#000" font-family="'Liberation Sans', Arial, Helvetica, sans-serif" >p-AKT</text>
<text x="1409" y="2225.8" font-size="43" text-anchor="end" font-weight="bold" fill="#000" font-family="'Liberation Sans', Arial, Helvetica, sans-serif" >AKT</text>
<text x="1414" y="2308.9" font-size="43" text-anchor="end" font-weight="bold" fill="#000" font-family="'Liberation Sans', Arial, Helvetica, sans-serif" >p-ERK</text>
<text x="1414" y="2390.8" font-size="43" text-anchor="end" font-weight="bold" fill="#000" font-family="'Liberation Sans', Arial, Helvetica, sans-serif" >ERK</text>
<text x="1414" y="2470.5" font-size="43" text-anchor="end" font-weight="bold" fill="#000" font-family="'Liberation Sans', Arial, Helvetica, sans-serif" >β-Actin</text>
<text x="1755.5" y="2061" font-size="42.7" text-anchor="start" font-weight="bold" fill="#000" font-family="'Liberation Sans', Arial, Helvetica, sans-serif" >152kDa</text>
<text x="1755.5" y="2143" font-size="42.7" text-anchor="start" font-weight="bold" fill="#000" font-family="'Liberation Sans', Arial, Helvetica, sans-serif" >60kDa</text>
<text x="1755.5" y="2224.5" font-size="42.7" text-anchor="start" font-weight="bold" fill="#000" font-family="'Liberation Sans', Arial, Helvetica, sans-serif" >60kDa</text>
<text x="1755.5" y="2309.2" font-size="42.7" text-anchor="start" font-weight="bold" fill="#000" font-family="'Liberation Sans', Arial, Helvetica, sans-serif" >40kDa</text>
<text x="1755.5" y="2390.8" font-size="42.7" text-anchor="start" font-weight="bold" fill="#000" font-family="'Liberation Sans', Arial, Helvetica, sans-serif" >40kDa</text>
<text x="1755.5" y="2472.8" font-size="42.7" text-anchor="start" font-weight="bold" fill="#000" font-family="'Liberation Sans', Arial, Helvetica, sans-serif" >42kDa</text>
<text x="1412.5" y="1759.3" font-size="43" text-anchor="end" font-weight="bold" fill="#000" font-family="'Liberation Sans', Arial, Helvetica, sans-serif" >NC</text>
<text x="1412.5" y="1817.8" font-size="43" text-anchor="end" font-weight="bold" fill="#000" font-family="'Liberation Sans', Arial, Helvetica, sans-serif" >circ_0042881</text>
<text x="1412.5" y="1878.2" font-size="43" text-anchor="end" font-weight="bold" fill="#000" font-family="'Liberation Sans', Arial, Helvetica, sans-serif" >si-NC</text>
<text x="1412.5" y="1938.7" font-size="43" text-anchor="end" font-weight="bold" fill="#000" font-family="'Liberation Sans', Arial, Helvetica, sans-serif" >si-SOS1</text>
<text x="1412.5" y="1996.4" font-size="43" text-anchor="end" font-weight="bold" fill="#000" font-family="'Liberation Sans', Arial, Helvetica, sans-serif" >Bay-293</text>
<text x="1476" y="1753.3" font-size="43" text-anchor="middle" font-weight="bold" fill="#000" font-family="'Liberation Sans', Arial, Helvetica, sans-serif" >+</text>
<text transform="translate(1533 1751.1) scale(1.14 1)" font-size="43" text-anchor="middle" font-weight="bold" font-family="'Liberation Sans', Arial, Helvetica, sans-serif">–</text>
<text transform="translate(1590.5 1751.1) scale(1.14 1)" font-size="43" text-anchor="middle" font-weight="bold" font-family="'Liberation Sans', Arial, Helvetica, sans-serif">–</text>
<text transform="translate(1644 1751.1) scale(1.14 1)" font-size="43" text-anchor="middle" font-weight="bold" font-family="'Liberation Sans', Arial, Helvetica, sans-serif">–</text>
<text transform="translate(1698 1751.1) scale(1.14 1)" font-size="43" text-anchor="middle" font-weight="bold" font-family="'Liberation Sans', Arial, Helvetica, sans-serif">–</text>
<text transform="translate(1476 1809.4) scale(1.14 1)" font-size="43" text-anchor="middle" font-weight="bold" font-family="'Liberation Sans', Arial, Helvetica, sans-serif">–</text>
<text x="1533" y="1811.6" font-size="43" text-anchor="middle" font-weight="bold" fill="#000" font-family="'Liberation Sans', Arial, Helvetica, sans-serif" >+</text>
<text x="1590.5" y="1811.6" font-size="43" text-anchor="middle" font-weight="bold" fill="#000" font-family="'Liberation Sans', Arial, Helvetica, sans-serif" >+</text>
<text x="1644" y="1811.6" font-size="43" text-anchor="middle" font-weight="bold" fill="#000" font-family="'Liberation Sans', Arial, Helvetica, sans-serif" >+</text>
<text x="1698" y="1811.6" font-size="43" text-anchor="middle" font-weight="bold" fill="#000" font-family="'Liberation Sans', Arial, Helvetica, sans-serif" >+</text>
<text transform="translate(1476 1871.5) scale(1.14 1)" font-size="43" text-anchor="middle" font-weight="bold" font-family="'Liberation Sans', Arial, Helvetica, sans-serif">–</text>
<text transform="translate(1533 1871.5) scale(1.14 1)" font-size="43" text-anchor="middle" font-weight="bold" font-family="'Liberation Sans', Arial, Helvetica, sans-serif">–</text>
<text x="1590.5" y="1873.7" font-size="43" text-anchor="middle" font-weight="bold" fill="#000" font-family="'Liberation Sans', Arial, Helvetica, sans-serif" >+</text>
<text transform="translate(1644 1871.5) scale(1.14 1)" font-size="43" text-anchor="middle" font-weight="bold" font-family="'Liberation Sans', Arial, Helvetica, sans-serif">–</text>
<text transform="translate(1698 1871.5) scale(1.14 1)" font-size="43" text-anchor="middle" font-weight="bold" font-family="'Liberation Sans', Arial, Helvetica, sans-serif">–</text>
<text transform="translate(1476 1934) scale(1.14 1)" font-size="43" text-anchor="middle" font-weight="bold" font-family="'Liberation Sans', Arial, Helvetica, sans-serif">–</text>
<text transform="translate(1533 1934) scale(1.14 1)" font-size="43" text-anchor="middle" font-weight="bold" font-family="'Liberation Sans', Arial, Helvetica, sans-serif">–</text>
<text transform="translate(1590.5 1934) scale(1.14 1)" font-size="43" text-anchor="middle" font-weight="bold" font-family="'Liberation Sans', Arial, Helvetica, sans-serif">–</text>
<text x="1644" y="1936.2" font-size="43" text-anchor="middle" font-weight="bold" fill="#000" font-family="'Liberation Sans', Arial, Helvetica, sans-serif" >+</text>
<text transform="translate(1698 1934) scale(1.14 1)" font-size="43" text-anchor="middle" font-weight="bold" font-family="'Liberation Sans', Arial, Helvetica, sans-serif">–</text>
<text transform="translate(1476 1995.5) scale(1.14 1)" font-size="43" text-anchor="middle" font-weight="bold" font-family="'Liberation Sans', Arial, Helvetica, sans-serif">–</text>
<text transform="translate(1533 1995.5) scale(1.14 1)" font-size="43" text-anchor="middle" font-weight="bold" font-family="'Liberation Sans', Arial, Helvetica, sans-serif">–</text>
<text transform="translate(1590.5 1995.5) scale(1.14 1)" font-size="43" text-anchor="middle" font-weight="bold" font-family="'Liberation Sans', Arial, Helvetica, sans-serif">–</text>
<text transform="translate(1644 1995.5) scale(1.14 1)" font-size="43" text-anchor="middle" font-weight="bold" font-family="'Liberation Sans', Arial, Helvetica, sans-serif">–</text>
<text x="1700.5" y="1997.7" font-size="43" text-anchor="middle" font-weight="bold" fill="#000" font-family="'Liberation Sans', Arial, Helvetica, sans-serif" >+</text>
</svg></body></html>
